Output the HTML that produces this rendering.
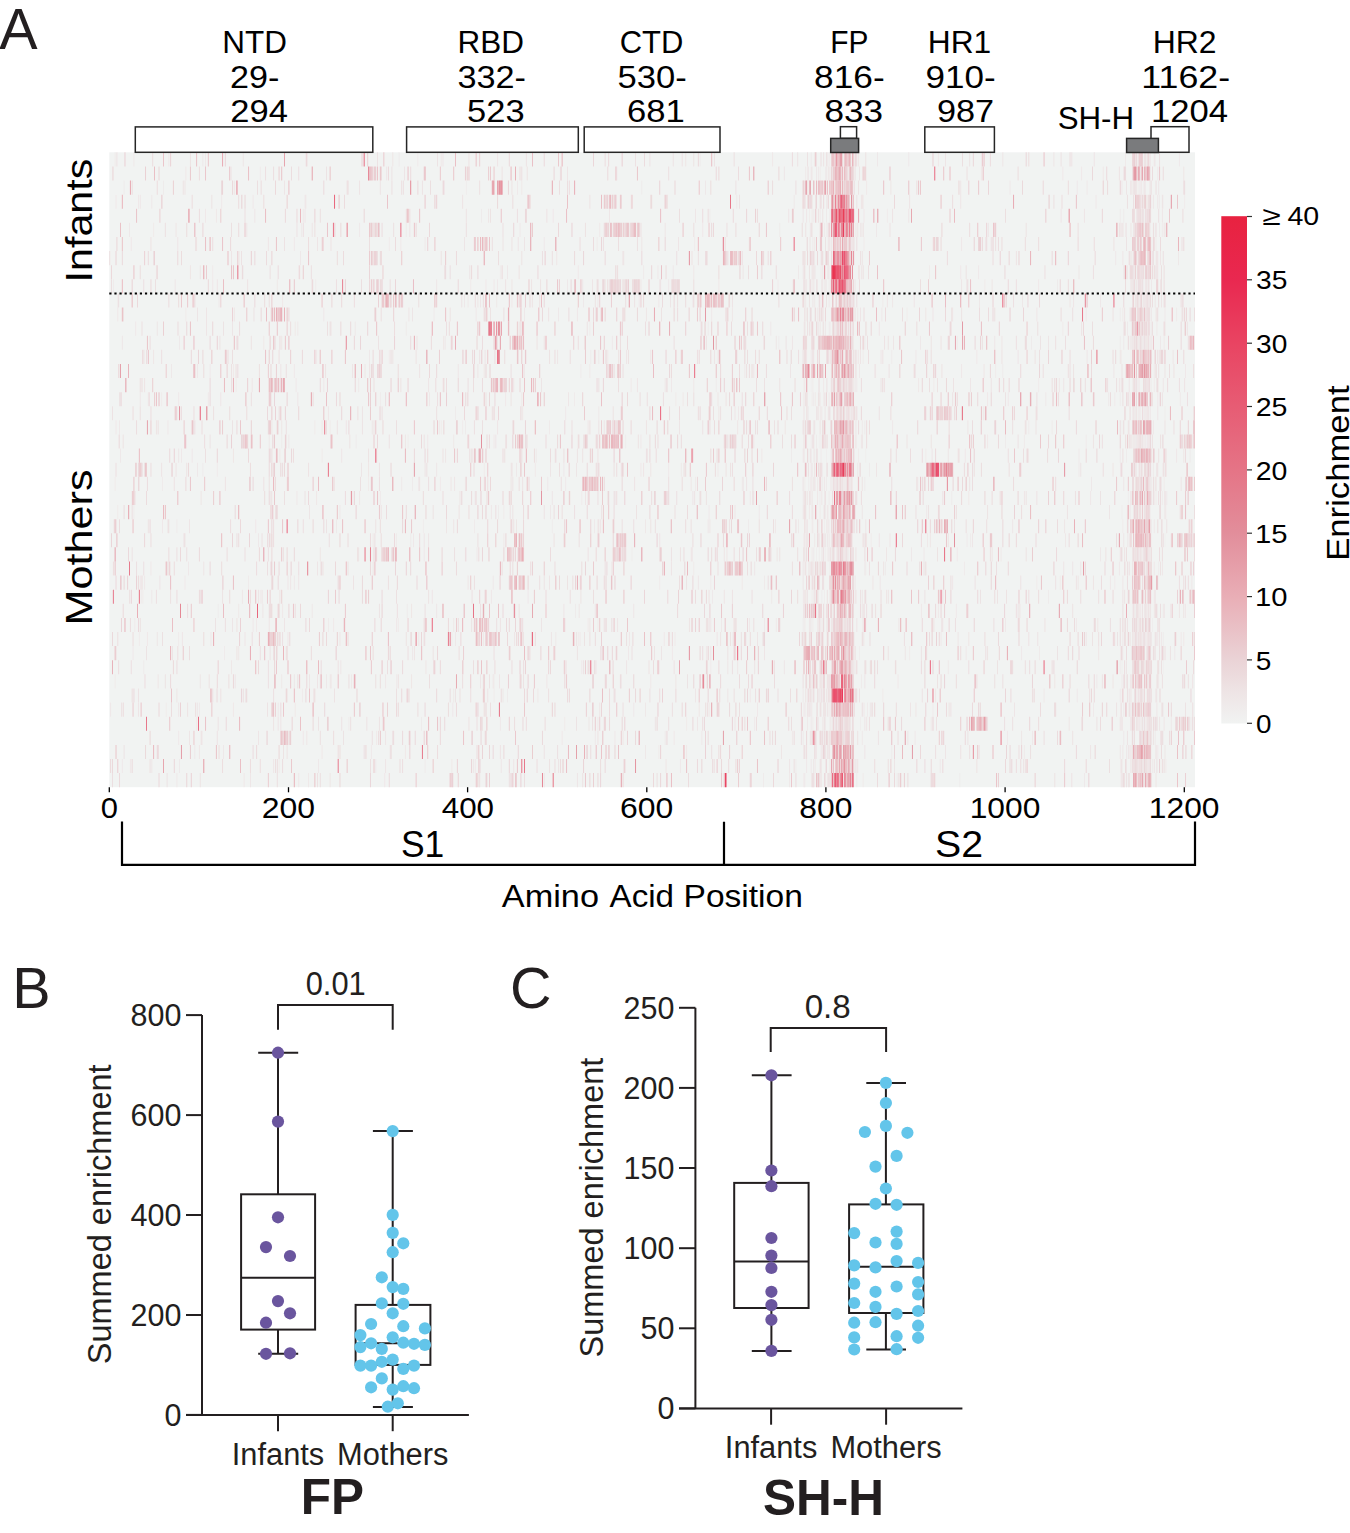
<!DOCTYPE html>
<html><head><meta charset="utf-8"><style>
html,body{margin:0;padding:0;background:#fff;width:1350px;height:1533px;overflow:hidden}
svg{display:block}
text{font-family:"Liberation Sans",sans-serif}
</style></head><body>
<svg width="1350" height="1533" viewBox="0 0 1350 1533">
<rect width="1350" height="1533" fill="#fff"/>
<rect x="109.3" y="152.3" width="1085.71" height="634.90" fill="rgb(241, 243, 242)"/>
<defs><filter id="hb" x="-0.01" y="-0.01" width="1.02" height="1.02"><feGaussianBlur stdDeviation="0.45 0"/></filter></defs>
<g filter="url(#hb)"><g transform="translate(109.3 152.3) scale(0.8958 14.109)">
<path fill="#f0eded" d="M1129 2h1v1h-1zM1151 2h1v1h-1zM1154 2h1v1h-1zM1176 3h1v1h-1zM800 5h1v1h-1zM781 6h1v1h-1zM788 8h1v1h-1zM1145 9h1v1h-1zM1154 9h1v1h-1zM803 12h1v1h-1zM828 12h1v1h-1zM1140 14h1v1h-1zM783 16h1v1h-1zM805 16h1v1h-1zM1163 16h1v1h-1zM799 17h1v1h-1zM798 18h1v1h-1zM810 18h1v1h-1zM821 18h1v1h-1zM1151 18h1v1h-1zM1154 18h1v1h-1zM1130 19h1v1h-1zM792 20h1v1h-1zM1152 20h1v1h-1zM1154 20h2v1h-2zM780 21h1v1h-1zM800 21h1v1h-1zM805 21h1v1h-1zM844 21h1v1h-1zM780 23h1v1h-1zM788 23h1v1h-1zM794 23h1v1h-1zM796 23h1v1h-1zM806 23h1v1h-1zM792 24h1v1h-1zM792 26h1v1h-1zM798 26h1v1h-1zM777 27h1v1h-1zM1178 27h1v1h-1zM789 28h1v1h-1zM799 28h1v1h-1zM801 28h1v1h-1zM824 28h1v1h-1zM1153 28h1v1h-1zM774 31h1v1h-1zM778 31h1v1h-1zM798 31h1v1h-1zM1145 32h1v1h-1zM1164 33h1v1h-1zM1157 34h1v1h-1zM837 35h1v1h-1zM1176 36h1v1h-1zM1171 37h1v1h-1zM776 39h2v1h-2zM784 39h1v1h-1zM797 40h1v1h-1zM806 40h1v1h-1zM838 40h1v1h-1zM1151 40h1v1h-1zM1154 40h1v1h-1zM1156 40h2v1h-2zM1141 41h1v1h-1z"/>
<path fill="#efeaea" d="M6 0h1v1h-1zM323 0h1v1h-1zM344 0h1v1h-1zM659 0h1v1h-1zM783 0h1v1h-1zM1134 0h1v1h-1zM1167 0h1v1h-1zM136 1h1v1h-1zM168 1h1v1h-1zM779 1h1v1h-1zM793 1h1v1h-1zM799 1h1v1h-1zM805 1h1v1h-1zM16 2h1v1h-1zM60 2h1v1h-1zM398 2h1v1h-1zM594 2h1v1h-1zM1142 2h1v1h-1zM1148 2h1v1h-1zM1161 2h1v1h-1zM560 3h1v1h-1zM1172 3h1v1h-1zM1200 3h1v1h-1zM415 4h1v1h-1zM670 4h1v1h-1zM781 4h1v1h-1zM786 4h1v1h-1zM789 4h1v1h-1zM868 4h1v1h-1zM1128 4h1v1h-1zM1132 4h1v1h-1zM1152 4h1v1h-1zM1157 4h1v1h-1zM1159 4h1v1h-1zM49 5h1v1h-1zM214 5h1v1h-1zM331 5h1v1h-1zM748 5h1v1h-1zM798 5h1v1h-1zM801 5h1v1h-1zM839 5h1v1h-1zM1128 5h1v1h-1zM1134 5h1v1h-1zM1167 5h1v1h-1zM1175 5h1v1h-1zM312 6h1v1h-1zM544 6h1v1h-1zM653 6h1v1h-1zM778 6h1v1h-1zM795 6h1v1h-1zM842 6h1v1h-1zM1168 6h1v1h-1zM145 7h1v1h-1zM574 7h1v1h-1zM1168 7h1v1h-1zM115 8h1v1h-1zM149 8h1v1h-1zM436 8h1v1h-1zM596 8h1v1h-1zM794 8h1v1h-1zM801 8h1v1h-1zM915 8h1v1h-1zM4 9h1v1h-1zM227 9h1v1h-1zM230 9h1v1h-1zM403 9h1v1h-1zM746 9h1v1h-1zM776 9h1v1h-1zM781 9h1v1h-1zM798 9h3v1h-3zM803 9h1v1h-1zM977 9h1v1h-1zM1058 9h1v1h-1zM1158 9h1v1h-1zM9 10h1v1h-1zM777 10h1v1h-1zM810 10h1v1h-1zM863 10h1v1h-1zM1000 10h1v1h-1zM1146 10h1v1h-1zM85 11h1v1h-1zM362 11h1v1h-1zM778 11h1v1h-1zM787 11h1v1h-1zM790 11h1v1h-1zM890 11h1v1h-1zM1128 11h1v1h-1zM1191 11h1v1h-1zM77 12h1v1h-1zM331 12h1v1h-1zM536 12h1v1h-1zM668 12h1v1h-1zM775 12h1v1h-1zM782 12h1v1h-1zM790 12h1v1h-1zM796 12h1v1h-1zM820 12h1v1h-1zM1064 12h1v1h-1zM1163 12h1v1h-1zM375 13h1v1h-1zM747 13h1v1h-1zM946 13h1v1h-1zM1029 13h1v1h-1zM1128 13h1v1h-1zM1139 13h3v1h-3zM1153 13h2v1h-2zM1162 13h2v1h-2zM39 14h1v1h-1zM234 14h1v1h-1zM312 14h1v1h-1zM537 14h1v1h-1zM760 14h1v1h-1zM786 14h1v1h-1zM841 14h1v1h-1zM873 14h1v1h-1zM11 15h1v1h-1zM526 15h1v1h-1zM989 15h1v1h-1zM997 15h1v1h-1zM141 16h1v1h-1zM677 16h1v1h-1zM775 16h2v1h-2zM779 16h1v1h-1zM785 16h1v1h-1zM791 16h1v1h-1zM801 16h1v1h-1zM810 16h1v1h-1zM920 16h1v1h-1zM1037 16h1v1h-1zM1142 16h1v1h-1zM1147 16h1v1h-1zM1166 16h1v1h-1zM58 17h1v1h-1zM302 17h1v1h-1zM519 17h1v1h-1zM632 17h1v1h-1zM784 17h1v1h-1zM788 17h1v1h-1zM797 17h1v1h-1zM1027 17h1v1h-1zM1115 17h1v1h-1zM1122 17h1v1h-1zM1128 17h1v1h-1zM386 18h1v1h-1zM780 18h1v1h-1zM793 18h2v1h-2zM799 18h1v1h-1zM811 18h1v1h-1zM818 18h1v1h-1zM827 18h1v1h-1zM975 18h2v1h-2zM1144 18h2v1h-2zM1148 18h1v1h-1zM1150 18h1v1h-1zM1155 18h3v1h-3zM1178 18h1v1h-1zM229 19h1v1h-1zM246 19h1v1h-1zM368 19h1v1h-1zM370 19h1v1h-1zM394 19h1v1h-1zM397 19h1v1h-1zM491 19h1v1h-1zM843 19h1v1h-1zM972 19h1v1h-1zM1026 19h1v1h-1zM1052 19h1v1h-1zM183 20h1v1h-1zM192 20h1v1h-1zM275 20h1v1h-1zM333 20h1v1h-1zM576 20h1v1h-1zM783 20h1v1h-1zM789 20h1v1h-1zM794 20h1v1h-1zM1000 20h1v1h-1zM1021 20h1v1h-1zM1090 20h1v1h-1zM1142 20h4v1h-4zM237 21h1v1h-1zM497 21h1v1h-1zM644 21h1v1h-1zM761 21h1v1h-1zM786 21h1v1h-1zM794 21h1v1h-1zM836 21h1v1h-1zM911 21h1v1h-1zM1135 21h1v1h-1zM1206 21h1v1h-1zM104 22h1v1h-1zM120 22h1v1h-1zM418 22h1v1h-1zM512 22h1v1h-1zM848 22h1v1h-1zM1153 22h1v1h-1zM1165 22h1v1h-1zM6 23h1v1h-1zM59 23h1v1h-1zM289 23h1v1h-1zM338 23h1v1h-1zM654 23h1v1h-1zM706 23h1v1h-1zM776 23h1v1h-1zM782 23h1v1h-1zM784 23h1v1h-1zM790 23h1v1h-1zM795 23h1v1h-1zM800 23h1v1h-1zM807 23h1v1h-1zM819 23h3v1h-3zM835 23h1v1h-1zM843 23h1v1h-1zM1155 23h1v1h-1zM1163 23h1v1h-1zM1177 23h1v1h-1zM514 24h1v1h-1zM527 24h1v1h-1zM621 24h1v1h-1zM774 24h1v1h-1zM794 24h1v1h-1zM803 24h1v1h-1zM940 24h1v1h-1zM1137 24h1v1h-1zM1168 24h1v1h-1zM1175 24h1v1h-1zM9 25h1v1h-1zM27 25h1v1h-1zM434 25h1v1h-1zM440 25h1v1h-1zM785 25h1v1h-1zM793 25h1v1h-1zM797 25h1v1h-1zM799 25h1v1h-1zM802 25h1v1h-1zM1130 25h1v1h-1zM1179 25h1v1h-1zM75 26h1v1h-1zM350 26h1v1h-1zM407 26h1v1h-1zM494 26h1v1h-1zM713 26h1v1h-1zM784 26h2v1h-2zM791 26h1v1h-1zM800 26h2v1h-2zM803 26h1v1h-1zM838 26h1v1h-1zM1131 26h1v1h-1zM1163 26h1v1h-1zM320 27h1v1h-1zM336 27h1v1h-1zM850 27h1v1h-1zM957 27h1v1h-1zM961 27h1v1h-1zM1136 27h1v1h-1zM1175 27h1v1h-1zM278 28h1v1h-1zM583 28h1v1h-1zM649 28h1v1h-1zM777 28h1v1h-1zM792 28h1v1h-1zM796 28h1v1h-1zM802 28h2v1h-2zM811 28h1v1h-1zM815 28h1v1h-1zM825 28h1v1h-1zM1150 28h1v1h-1zM1152 28h1v1h-1zM1160 28h1v1h-1zM1162 28h1v1h-1zM560 29h1v1h-1zM652 29h1v1h-1zM780 29h3v1h-3zM791 29h1v1h-1zM804 29h1v1h-1zM844 29h1v1h-1zM866 29h1v1h-1zM954 29h1v1h-1zM1134 29h1v1h-1zM1171 29h1v1h-1zM155 30h1v1h-1zM525 30h1v1h-1zM614 30h1v1h-1zM671 30h1v1h-1zM731 30h1v1h-1zM1035 30h1v1h-1zM1061 30h1v1h-1zM1122 30h1v1h-1zM35 31h1v1h-1zM37 31h1v1h-1zM168 31h1v1h-1zM404 31h1v1h-1zM784 31h1v1h-1zM786 31h1v1h-1zM788 31h1v1h-1zM791 31h1v1h-1zM795 31h1v1h-1zM832 31h1v1h-1zM1048 31h1v1h-1zM121 32h1v1h-1zM332 32h1v1h-1zM520 32h1v1h-1zM1142 32h1v1h-1zM1144 32h1v1h-1zM1150 32h1v1h-1zM1158 32h1v1h-1zM1166 32h1v1h-1zM1176 32h1v1h-1zM28 33h1v1h-1zM244 33h1v1h-1zM263 33h1v1h-1zM545 33h1v1h-1zM561 33h1v1h-1zM774 33h1v1h-1zM783 33h1v1h-1zM785 33h1v1h-1zM790 33h2v1h-2zM793 33h1v1h-1zM796 33h1v1h-1zM800 33h1v1h-1zM819 33h1v1h-1zM830 33h1v1h-1zM1143 33h1v1h-1zM1147 33h3v1h-3zM33 34h1v1h-1zM77 34h1v1h-1zM352 34h1v1h-1zM382 34h1v1h-1zM523 34h1v1h-1zM831 34h1v1h-1zM842 34h1v1h-1zM1143 34h1v1h-1zM1147 34h1v1h-1zM1153 34h1v1h-1zM1176 34h1v1h-1zM128 35h1v1h-1zM349 35h1v1h-1zM893 35h1v1h-1zM1038 35h1v1h-1zM1131 35h1v1h-1zM38 36h1v1h-1zM561 36h1v1h-1zM671 36h1v1h-1zM878 36h1v1h-1zM1128 36h1v1h-1zM1130 36h1v1h-1zM6 37h1v1h-1zM246 37h1v1h-1zM320 37h1v1h-1zM429 37h1v1h-1zM839 37h1v1h-1zM215 38h1v1h-1zM429 38h1v1h-1zM444 38h1v1h-1zM863 38h1v1h-1zM1031 38h1v1h-1zM1130 38h1v1h-1zM1146 38h1v1h-1zM1154 38h1v1h-1zM1169 38h1v1h-1zM63 39h1v1h-1zM782 39h1v1h-1zM802 39h1v1h-1zM846 39h1v1h-1zM919 39h1v1h-1zM971 39h1v1h-1zM1141 39h1v1h-1zM1176 39h1v1h-1zM97 40h1v1h-1zM267 40h1v1h-1zM348 40h1v1h-1zM508 40h1v1h-1zM644 40h1v1h-1zM779 40h1v1h-1zM785 40h1v1h-1zM799 40h1v1h-1zM804 40h2v1h-2zM812 40h1v1h-1zM1141 40h1v1h-1zM1148 40h1v1h-1zM1152 40h1v1h-1zM1207 40h1v1h-1zM1176 41h1v1h-1zM613 42h1v1h-1zM794 42h1v1h-1zM796 42h1v1h-1zM873 42h1v1h-1zM1021 42h1v1h-1zM189 43h1v1h-1zM352 43h1v1h-1zM674 43h1v1h-1zM766 43h1v1h-1zM788 43h1v1h-1zM1164 43h1v1h-1zM730 44h1v1h-1zM776 44h1v1h-1zM834 44h1v1h-1zM841 44h1v1h-1zM879 44h1v1h-1zM949 44h1v1h-1z"/>
<path fill="#efe7e8" d="M27 0h1v1h-1zM66 0h1v1h-1zM104 0h1v1h-1zM107 0h1v1h-1zM219 0h1v1h-1zM370 0h1v1h-1zM740 0h1v1h-1zM801 0h1v1h-1zM803 0h1v1h-1zM857 0h1v1h-1zM892 0h1v1h-1zM925 0h1v1h-1zM1162 0h1v1h-1zM1194 0h1v1h-1zM85 1h1v1h-1zM309 1h1v1h-1zM777 1h1v1h-1zM780 1h1v1h-1zM783 1h2v1h-2zM789 1h1v1h-1zM791 1h1v1h-1zM800 1h1v1h-1zM802 1h1v1h-1zM973 1h1v1h-1zM1064 1h1v1h-1zM1085 1h1v1h-1zM1109 1h1v1h-1zM1170 1h1v1h-1zM455 2h1v1h-1zM460 2h1v1h-1zM665 2h1v1h-1zM845 2h1v1h-1zM1005 2h1v1h-1zM1080 2h1v1h-1zM1091 2h1v1h-1zM1130 2h1v1h-1zM1150 2h1v1h-1zM1152 2h1v1h-1zM1155 2h2v1h-2zM7 3h1v1h-1zM32 3h1v1h-1zM47 3h1v1h-1zM125 3h1v1h-1zM160 3h1v1h-1zM218 3h2v1h-2zM582 3h1v1h-1zM700 3h1v1h-1zM764 3h1v1h-1zM800 3h1v1h-1zM841 3h1v1h-1zM1101 3h1v1h-1zM1152 3h1v1h-1zM1154 3h1v1h-1zM1165 3h1v1h-1zM107 4h1v1h-1zM119 4h1v1h-1zM216 4h1v1h-1zM495 4h1v1h-1zM784 4h1v1h-1zM793 4h1v1h-1zM800 4h1v1h-1zM804 4h1v1h-1zM842 4h1v1h-1zM1146 4h1v1h-1zM1149 4h1v1h-1zM22 5h1v1h-1zM252 5h1v1h-1zM279 5h1v1h-1zM458 5h1v1h-1zM547 5h1v1h-1zM662 5h1v1h-1zM782 5h1v1h-1zM804 5h1v1h-1zM838 5h1v1h-1zM856 5h1v1h-1zM981 5h1v1h-1zM1135 5h1v1h-1zM1172 5h1v1h-1zM1177 5h1v1h-1zM24 6h1v1h-1zM206 6h1v1h-1zM325 6h1v1h-1zM352 6h1v1h-1zM485 6h1v1h-1zM782 6h1v1h-1zM785 6h1v1h-1zM787 6h1v1h-1zM793 6h1v1h-1zM802 6h3v1h-3zM828 6h1v1h-1zM919 6h1v1h-1zM951 6h1v1h-1zM213 7h1v1h-1zM794 7h1v1h-1zM831 7h1v1h-1zM1123 7h1v1h-1zM1170 7h1v1h-1zM1193 7h1v1h-1zM211 8h1v1h-1zM444 8h1v1h-1zM523 8h1v1h-1zM612 8h1v1h-1zM629 8h1v1h-1zM652 8h1v1h-1zM769 8h1v1h-1zM774 8h1v1h-1zM787 8h1v1h-1zM796 8h1v1h-1zM799 8h1v1h-1zM802 8h2v1h-2zM837 8h1v1h-1zM950 8h1v1h-1zM970 8h1v1h-1zM1000 8h1v1h-1zM1132 8h1v1h-1zM1135 8h2v1h-2zM1144 8h1v1h-1zM1151 8h1v1h-1zM1170 8h1v1h-1zM115 9h1v1h-1zM187 9h1v1h-1zM420 9h1v1h-1zM429 9h1v1h-1zM433 9h1v1h-1zM511 9h1v1h-1zM624 9h1v1h-1zM680 9h1v1h-1zM778 9h1v1h-1zM790 9h1v1h-1zM796 9h1v1h-1zM1037 9h1v1h-1zM1141 9h1v1h-1zM1152 9h1v1h-1zM1156 9h1v1h-1zM1159 9h1v1h-1zM1163 9h1v1h-1zM122 10h1v1h-1zM193 10h1v1h-1zM396 10h1v1h-1zM400 10h1v1h-1zM432 10h1v1h-1zM449 10h1v1h-1zM470 10h1v1h-1zM529 10h1v1h-1zM545 10h1v1h-1zM579 10h1v1h-1zM591 10h1v1h-1zM613 10h1v1h-1zM651 10h1v1h-1zM787 10h1v1h-1zM794 10h1v1h-1zM803 10h1v1h-1zM813 10h1v1h-1zM971 10h1v1h-1zM1019 10h1v1h-1zM1106 10h1v1h-1zM1154 10h4v1h-4zM1159 10h2v1h-2zM9 11h1v1h-1zM239 11h1v1h-1zM409 11h1v1h-1zM463 11h1v1h-1zM501 11h1v1h-1zM513 11h1v1h-1zM522 11h1v1h-1zM548 11h1v1h-1zM646 11h1v1h-1zM672 11h1v1h-1zM797 11h1v1h-1zM835 11h1v1h-1zM862 11h1v1h-1zM1090 11h1v1h-1zM1131 11h1v1h-1zM1163 11h1v1h-1zM1178 11h1v1h-1zM29 12h1v1h-1zM207 12h1v1h-1zM210 12h1v1h-1zM274 12h1v1h-1zM738 12h1v1h-1zM791 12h1v1h-1zM799 12h1v1h-1zM804 12h1v1h-1zM810 12h1v1h-1zM829 12h1v1h-1zM845 12h1v1h-1zM1136 12h1v1h-1zM1141 12h1v1h-1zM1169 12h1v1h-1zM78 13h1v1h-1zM172 13h1v1h-1zM433 13h1v1h-1zM561 13h1v1h-1zM826 13h1v1h-1zM843 13h1v1h-1zM905 13h1v1h-1zM1132 13h1v1h-1zM1143 13h1v1h-1zM1156 13h1v1h-1zM1173 13h1v1h-1zM1177 13h1v1h-1zM231 14h1v1h-1zM290 14h1v1h-1zM416 14h1v1h-1zM465 14h1v1h-1zM546 14h1v1h-1zM556 14h1v1h-1zM679 14h1v1h-1zM783 14h1v1h-1zM803 14h1v1h-1zM834 14h1v1h-1zM836 14h1v1h-1zM900 14h1v1h-1zM968 14h1v1h-1zM1129 14h1v1h-1zM69 15h1v1h-1zM98 15h1v1h-1zM112 15h1v1h-1zM138 15h1v1h-1zM206 15h1v1h-1zM463 15h1v1h-1zM536 15h1v1h-1zM709 15h1v1h-1zM837 15h1v1h-1zM854 15h1v1h-1zM951 15h1v1h-1zM1166 15h1v1h-1zM1201 15h1v1h-1zM193 16h1v1h-1zM208 16h1v1h-1zM239 16h1v1h-1zM278 16h1v1h-1zM372 16h1v1h-1zM450 16h1v1h-1zM582 16h1v1h-1zM627 16h1v1h-1zM652 16h1v1h-1zM797 16h1v1h-1zM800 16h1v1h-1zM807 16h1v1h-1zM821 16h1v1h-1zM824 16h1v1h-1zM834 16h1v1h-1zM903 16h1v1h-1zM1129 16h1v1h-1zM1145 16h1v1h-1zM43 17h1v1h-1zM77 17h1v1h-1zM110 17h1v1h-1zM357 17h1v1h-1zM442 17h1v1h-1zM460 17h1v1h-1zM640 17h1v1h-1zM779 17h1v1h-1zM786 17h1v1h-1zM793 17h1v1h-1zM798 17h1v1h-1zM803 17h1v1h-1zM980 17h1v1h-1zM1003 17h1v1h-1zM1045 17h1v1h-1zM1170 17h1v1h-1zM1172 17h1v1h-1zM1195 17h1v1h-1zM509 18h1v1h-1zM546 18h1v1h-1zM702 18h1v1h-1zM779 18h1v1h-1zM790 18h1v1h-1zM795 18h1v1h-1zM802 18h1v1h-1zM813 18h1v1h-1zM822 18h1v1h-1zM829 18h1v1h-1zM1142 18h1v1h-1zM1149 18h1v1h-1zM1162 18h1v1h-1zM7 19h1v1h-1zM11 19h1v1h-1zM65 19h1v1h-1zM237 19h1v1h-1zM840 19h1v1h-1zM874 19h1v1h-1zM1138 19h1v1h-1zM1165 19h1v1h-1zM10 20h1v1h-1zM178 20h1v1h-1zM200 20h1v1h-1zM355 20h1v1h-1zM384 20h1v1h-1zM429 20h1v1h-1zM545 20h1v1h-1zM593 20h1v1h-1zM800 20h1v1h-1zM839 20h1v1h-1zM980 20h1v1h-1zM1146 20h1v1h-1zM1148 20h1v1h-1zM1156 20h1v1h-1zM1158 20h1v1h-1zM1160 20h2v1h-2zM12 21h1v1h-1zM80 21h1v1h-1zM92 21h1v1h-1zM190 21h1v1h-1zM405 21h1v1h-1zM476 21h1v1h-1zM536 21h1v1h-1zM728 21h1v1h-1zM774 21h1v1h-1zM783 21h1v1h-1zM787 21h1v1h-1zM955 21h1v1h-1zM1082 21h1v1h-1zM1128 21h1v1h-1zM1191 21h1v1h-1zM98 22h1v1h-1zM406 22h1v1h-1zM448 22h1v1h-1zM454 22h1v1h-1zM475 22h1v1h-1zM507 22h1v1h-1zM571 22h1v1h-1zM593 22h1v1h-1zM624 22h1v1h-1zM638 22h1v1h-1zM679 22h1v1h-1zM783 22h1v1h-1zM792 22h1v1h-1zM800 22h1v1h-1zM835 22h1v1h-1zM1082 22h1v1h-1zM1143 22h1v1h-1zM1145 22h2v1h-2zM326 23h1v1h-1zM369 23h1v1h-1zM418 23h1v1h-1zM489 23h1v1h-1zM509 23h1v1h-1zM783 23h1v1h-1zM787 23h1v1h-1zM792 23h1v1h-1zM798 23h1v1h-1zM805 23h1v1h-1zM810 23h2v1h-2zM817 23h1v1h-1zM822 23h1v1h-1zM825 23h1v1h-1zM827 23h1v1h-1zM829 23h1v1h-1zM902 23h1v1h-1zM1096 23h1v1h-1zM1149 23h1v1h-1zM1153 23h1v1h-1zM1162 23h1v1h-1zM1174 23h1v1h-1zM181 24h1v1h-1zM209 24h1v1h-1zM302 24h1v1h-1zM715 24h1v1h-1zM719 24h1v1h-1zM779 24h1v1h-1zM790 24h1v1h-1zM795 24h1v1h-1zM798 24h1v1h-1zM959 24h1v1h-1zM1095 24h1v1h-1zM1163 24h1v1h-1zM1166 24h1v1h-1zM1180 24h1v1h-1zM257 25h1v1h-1zM426 25h1v1h-1zM492 25h1v1h-1zM669 25h1v1h-1zM725 25h1v1h-1zM774 25h1v1h-1zM781 25h1v1h-1zM801 25h1v1h-1zM912 25h1v1h-1zM1143 25h1v1h-1zM59 26h1v1h-1zM163 26h1v1h-1zM253 26h1v1h-1zM541 26h1v1h-1zM598 26h1v1h-1zM769 26h1v1h-1zM778 26h2v1h-2zM802 26h1v1h-1zM807 26h1v1h-1zM825 26h1v1h-1zM1166 26h1v1h-1zM166 27h1v1h-1zM294 27h1v1h-1zM339 27h1v1h-1zM440 27h1v1h-1zM443 27h1v1h-1zM764 27h1v1h-1zM775 27h2v1h-2zM779 27h1v1h-1zM787 27h1v1h-1zM798 27h2v1h-2zM829 27h1v1h-1zM845 27h1v1h-1zM913 27h1v1h-1zM985 27h1v1h-1zM1067 27h1v1h-1zM351 28h1v1h-1zM398 28h1v1h-1zM410 28h1v1h-1zM784 28h1v1h-1zM786 28h1v1h-1zM795 28h1v1h-1zM804 28h1v1h-1zM809 28h1v1h-1zM812 28h1v1h-1zM820 28h1v1h-1zM895 28h1v1h-1zM909 28h1v1h-1zM946 28h1v1h-1zM995 28h1v1h-1zM1106 28h1v1h-1zM46 29h1v1h-1zM88 29h1v1h-1zM776 29h1v1h-1zM792 29h1v1h-1zM843 29h1v1h-1zM1127 29h1v1h-1zM1166 29h1v1h-1zM39 30h1v1h-1zM84 30h1v1h-1zM206 30h1v1h-1zM428 30h1v1h-1zM706 30h1v1h-1zM1117 30h1v1h-1zM1208 30h1v1h-1zM47 31h1v1h-1zM405 31h1v1h-1zM426 31h1v1h-1zM467 31h1v1h-1zM673 31h1v1h-1zM739 31h1v1h-1zM776 31h1v1h-1zM1166 31h1v1h-1zM144 32h1v1h-1zM193 32h1v1h-1zM226 32h1v1h-1zM824 32h1v1h-1zM906 32h1v1h-1zM925 32h1v1h-1zM945 32h1v1h-1zM1149 32h1v1h-1zM1151 32h1v1h-1zM1155 32h1v1h-1zM1159 32h1v1h-1zM1184 32h1v1h-1zM1201 32h1v1h-1zM160 33h1v1h-1zM164 33h1v1h-1zM250 33h1v1h-1zM320 33h1v1h-1zM322 33h1v1h-1zM384 33h1v1h-1zM534 33h1v1h-1zM683 33h1v1h-1zM714 33h1v1h-1zM731 33h1v1h-1zM744 33h1v1h-1zM776 33h1v1h-1zM781 33h2v1h-2zM794 33h1v1h-1zM807 33h1v1h-1zM822 33h1v1h-1zM825 33h1v1h-1zM844 33h1v1h-1zM930 33h1v1h-1zM1000 33h1v1h-1zM1079 33h1v1h-1zM1158 33h1v1h-1zM1162 33h1v1h-1zM42 34h1v1h-1zM113 34h1v1h-1zM345 34h1v1h-1zM386 34h1v1h-1zM498 34h1v1h-1zM525 34h1v1h-1zM619 34h1v1h-1zM631 34h1v1h-1zM848 34h1v1h-1zM928 34h1v1h-1zM1120 34h1v1h-1zM1122 34h1v1h-1zM1144 34h1v1h-1zM1152 34h1v1h-1zM1156 34h1v1h-1zM1158 34h1v1h-1zM1163 34h1v1h-1zM1174 34h1v1h-1zM1196 34h1v1h-1zM1199 34h1v1h-1zM26 35h1v1h-1zM338 35h1v1h-1zM482 35h1v1h-1zM549 35h1v1h-1zM579 35h1v1h-1zM628 35h1v1h-1zM666 35h1v1h-1zM956 35h1v1h-1zM1018 35h1v1h-1zM1174 35h1v1h-1zM1189 35h1v1h-1zM136 36h1v1h-1zM395 36h1v1h-1zM510 36h1v1h-1zM527 36h1v1h-1zM542 36h2v1h-2zM831 36h1v1h-1zM833 36h1v1h-1zM936 36h1v1h-1zM1155 36h1v1h-1zM1159 36h1v1h-1zM40 37h1v1h-1zM192 37h1v1h-1zM242 37h1v1h-1zM270 37h1v1h-1zM308 37h1v1h-1zM604 37h1v1h-1zM880 37h1v1h-1zM1102 37h1v1h-1zM1130 37h1v1h-1zM1135 37h1v1h-1zM119 38h1v1h-1zM384 38h1v1h-1zM478 38h1v1h-1zM715 38h1v1h-1zM774 38h1v1h-1zM779 38h1v1h-1zM781 38h1v1h-1zM791 38h1v1h-1zM803 38h1v1h-1zM1043 38h1v1h-1zM1080 38h1v1h-1zM1128 38h1v1h-1zM1149 38h1v1h-1zM1153 38h1v1h-1zM1160 38h1v1h-1zM1 39h1v1h-1zM98 39h1v1h-1zM100 39h1v1h-1zM138 39h1v1h-1zM188 39h1v1h-1zM207 39h1v1h-1zM383 39h1v1h-1zM434 39h1v1h-1zM585 39h1v1h-1zM598 39h1v1h-1zM723 39h1v1h-1zM775 39h1v1h-1zM780 39h1v1h-1zM804 39h1v1h-1zM830 39h1v1h-1zM842 39h1v1h-1zM1098 39h1v1h-1zM1132 39h1v1h-1zM1174 39h1v1h-1zM203 40h1v1h-1zM436 40h1v1h-1zM462 40h1v1h-1zM545 40h1v1h-1zM720 40h1v1h-1zM783 40h1v1h-1zM791 40h1v1h-1zM796 40h1v1h-1zM809 40h1v1h-1zM819 40h1v1h-1zM827 40h1v1h-1zM917 40h1v1h-1zM1150 40h1v1h-1zM1185 40h1v1h-1zM77 41h1v1h-1zM216 41h1v1h-1zM298 41h1v1h-1zM505 41h1v1h-1zM542 41h1v1h-1zM564 41h1v1h-1zM620 41h1v1h-1zM630 41h1v1h-1zM661 41h1v1h-1zM762 41h1v1h-1zM774 41h1v1h-1zM789 41h1v1h-1zM799 41h1v1h-1zM802 41h1v1h-1zM840 41h1v1h-1zM899 41h1v1h-1zM1002 41h1v1h-1zM1030 41h1v1h-1zM1132 41h1v1h-1zM1167 41h1v1h-1zM95 42h1v1h-1zM127 42h1v1h-1zM237 42h1v1h-1zM292 42h1v1h-1zM330 42h1v1h-1zM598 42h1v1h-1zM644 42h1v1h-1zM788 42h2v1h-2zM971 42h1v1h-1zM1135 42h1v1h-1zM1138 42h1v1h-1zM1170 42h1v1h-1zM14 43h1v1h-1zM23 43h1v1h-1zM78 43h1v1h-1zM233 43h1v1h-1zM297 43h1v1h-1zM382 43h1v1h-1zM406 43h1v1h-1zM408 43h1v1h-1zM637 43h1v1h-1zM778 43h1v1h-1zM783 43h1v1h-1zM799 43h1v1h-1zM834 43h1v1h-1zM927 43h1v1h-1zM1148 43h1v1h-1zM1153 43h2v1h-2zM1179 43h1v1h-1zM75 44h1v1h-1zM150 44h1v1h-1zM211 44h1v1h-1zM222 44h1v1h-1zM307 44h1v1h-1zM759 44h1v1h-1zM775 44h1v1h-1zM801 44h2v1h-2zM1088 44h1v1h-1zM1129 44h2v1h-2z"/>
<path fill="#eee4e5" d="M149 0h1v1h-1zM316 0h1v1h-1zM372 0h1v1h-1zM433 0h1v1h-1zM643 0h1v1h-1zM787 0h1v1h-1zM789 0h1v1h-1zM834 0h1v1h-1zM836 0h1v1h-1zM933 0h1v1h-1zM997 0h1v1h-1zM1054 0h1v1h-1zM1099 0h1v1h-1zM1155 0h1v1h-1zM1166 0h1v1h-1zM329 1h1v1h-1zM511 1h1v1h-1zM753 1h1v1h-1zM803 1h1v1h-1zM807 1h1v1h-1zM825 1h1v1h-1zM837 1h1v1h-1zM1132 1h1v1h-1zM1199 1h1v1h-1zM139 2h1v1h-1zM195 2h1v1h-1zM809 2h1v1h-1zM872 2h1v1h-1zM950 2h1v1h-1zM1135 2h1v1h-1zM1143 2h1v1h-1zM1145 2h2v1h-2zM1162 2h2v1h-2zM1171 2h1v1h-1zM34 3h1v1h-1zM59 3h1v1h-1zM148 3h1v1h-1zM839 3h1v1h-1zM950 3h1v1h-1zM1157 3h1v1h-1zM1170 3h1v1h-1zM162 4h1v1h-1zM218 4h1v1h-1zM423 4h1v1h-1zM558 4h1v1h-1zM654 4h1v1h-1zM758 4h1v1h-1zM774 4h1v1h-1zM778 4h1v1h-1zM892 4h1v1h-1zM1062 4h1v1h-1zM1088 4h1v1h-1zM1147 4h1v1h-1zM1175 4h1v1h-1zM74 5h1v1h-1zM153 5h1v1h-1zM226 5h1v1h-1zM249 5h1v1h-1zM335 5h1v1h-1zM620 5h1v1h-1zM833 5h1v1h-1zM835 5h1v1h-1zM1140 5h1v1h-1zM1143 5h1v1h-1zM1178 5h1v1h-1zM76 6h1v1h-1zM177 6h1v1h-1zM232 6h1v1h-1zM396 6h1v1h-1zM420 6h1v1h-1zM456 6h1v1h-1zM463 6h1v1h-1zM594 6h1v1h-1zM635 6h1v1h-1zM684 6h1v1h-1zM806 6h1v1h-1zM811 6h1v1h-1zM823 6h2v1h-2zM829 6h1v1h-1zM831 6h1v1h-1zM136 7h1v1h-1zM499 7h1v1h-1zM1131 7h1v1h-1zM1141 7h1v1h-1zM1164 7h1v1h-1zM1173 7h1v1h-1zM90 8h1v1h-1zM101 8h1v1h-1zM707 8h1v1h-1zM784 8h1v1h-1zM786 8h1v1h-1zM836 8h1v1h-1zM839 8h1v1h-1zM1082 8h1v1h-1zM1143 8h1v1h-1zM1149 8h1v1h-1zM73 9h1v1h-1zM120 9h1v1h-1zM365 9h1v1h-1zM449 9h1v1h-1zM528 9h1v1h-1zM539 9h1v1h-1zM593 9h1v1h-1zM614 9h1v1h-1zM627 9h1v1h-1zM777 9h1v1h-1zM784 9h1v1h-1zM786 9h1v1h-1zM832 9h1v1h-1zM951 9h1v1h-1zM985 9h1v1h-1zM1077 9h1v1h-1zM1142 9h1v1h-1zM1146 9h1v1h-1zM1173 9h1v1h-1zM94 10h1v1h-1zM411 10h1v1h-1zM414 10h1v1h-1zM472 10h1v1h-1zM626 10h1v1h-1zM776 10h1v1h-1zM785 10h1v1h-1zM818 10h1v1h-1zM825 10h1v1h-1zM828 10h2v1h-2zM831 10h1v1h-1zM868 10h1v1h-1zM874 10h1v1h-1zM898 10h1v1h-1zM1072 10h1v1h-1zM1076 10h1v1h-1zM1145 10h1v1h-1zM1150 10h1v1h-1zM1161 10h1v1h-1zM1167 10h1v1h-1zM1174 10h1v1h-1zM98 11h1v1h-1zM108 11h1v1h-1zM139 11h1v1h-1zM180 11h1v1h-1zM334 11h1v1h-1zM338 11h1v1h-1zM512 11h1v1h-1zM599 11h1v1h-1zM695 11h1v1h-1zM838 11h1v1h-1zM911 11h1v1h-1zM919 11h1v1h-1zM941 11h1v1h-1zM1035 11h1v1h-1zM1140 11h1v1h-1zM1154 11h1v1h-1zM1156 11h2v1h-2zM1168 11h1v1h-1zM53 12h1v1h-1zM108 12h1v1h-1zM137 12h1v1h-1zM660 12h1v1h-1zM793 12h1v1h-1zM809 12h1v1h-1zM819 12h1v1h-1zM823 12h1v1h-1zM859 12h1v1h-1zM1132 12h1v1h-1zM1134 12h1v1h-1zM1154 12h1v1h-1zM1158 12h1v1h-1zM1203 12h1v1h-1zM14 13h1v1h-1zM185 13h1v1h-1zM192 13h1v1h-1zM381 13h1v1h-1zM730 13h1v1h-1zM744 13h1v1h-1zM762 13h1v1h-1zM774 13h1v1h-1zM830 13h1v1h-1zM875 13h1v1h-1zM988 13h1v1h-1zM996 13h1v1h-1zM1048 13h1v1h-1zM1142 13h1v1h-1zM1145 13h1v1h-1zM1148 13h1v1h-1zM1152 13h1v1h-1zM49 14h1v1h-1zM395 14h1v1h-1zM419 14h1v1h-1zM500 14h1v1h-1zM568 14h1v1h-1zM577 14h1v1h-1zM604 14h1v1h-1zM675 14h1v1h-1zM778 14h1v1h-1zM800 14h1v1h-1zM819 14h1v1h-1zM838 14h1v1h-1zM861 14h1v1h-1zM1014 14h1v1h-1zM1091 14h1v1h-1zM1128 14h1v1h-1zM1172 14h1v1h-1zM1177 14h1v1h-1zM1187 14h1v1h-1zM191 15h1v1h-1zM271 15h1v1h-1zM285 15h1v1h-1zM290 15h1v1h-1zM293 15h1v1h-1zM389 15h1v1h-1zM411 15h1v1h-1zM418 15h1v1h-1zM719 15h1v1h-1zM760 15h1v1h-1zM855 15h1v1h-1zM976 15h1v1h-1zM1121 15h1v1h-1zM1134 15h1v1h-1zM1140 15h1v1h-1zM159 16h1v1h-1zM356 16h1v1h-1zM451 16h1v1h-1zM482 16h1v1h-1zM589 16h1v1h-1zM620 16h1v1h-1zM817 16h2v1h-2zM830 16h1v1h-1zM832 16h1v1h-1zM961 16h1v1h-1zM1060 16h1v1h-1zM1065 16h1v1h-1zM1127 16h1v1h-1zM1138 16h1v1h-1zM1149 16h1v1h-1zM1176 16h1v1h-1zM34 17h1v1h-1zM124 17h1v1h-1zM210 17h1v1h-1zM512 17h1v1h-1zM679 17h1v1h-1zM775 17h1v1h-1zM792 17h1v1h-1zM1136 17h1v1h-1zM1139 17h1v1h-1zM1163 17h1v1h-1zM244 18h1v1h-1zM301 18h1v1h-1zM461 18h1v1h-1zM680 18h1v1h-1zM698 18h1v1h-1zM789 18h1v1h-1zM791 18h1v1h-1zM815 18h1v1h-1zM826 18h1v1h-1zM828 18h1v1h-1zM830 18h1v1h-1zM1143 18h1v1h-1zM1158 18h1v1h-1zM1160 18h1v1h-1zM1170 18h1v1h-1zM181 19h1v1h-1zM192 19h1v1h-1zM264 19h1v1h-1zM293 19h1v1h-1zM433 19h1v1h-1zM534 19h1v1h-1zM552 19h1v1h-1zM636 19h1v1h-1zM701 19h1v1h-1zM754 19h1v1h-1zM786 19h1v1h-1zM797 19h1v1h-1zM799 19h1v1h-1zM833 19h1v1h-1zM923 19h1v1h-1zM958 19h1v1h-1zM1023 19h1v1h-1zM330 20h1v1h-1zM401 20h1v1h-1zM422 20h1v1h-1zM431 20h1v1h-1zM524 20h1v1h-1zM692 20h1v1h-1zM719 20h1v1h-1zM778 20h1v1h-1zM786 20h1v1h-1zM798 20h2v1h-2zM1147 20h1v1h-1zM1153 20h1v1h-1zM1159 20h1v1h-1zM77 21h1v1h-1zM138 21h1v1h-1zM259 21h1v1h-1zM375 21h1v1h-1zM417 21h1v1h-1zM790 21h1v1h-1zM806 21h1v1h-1zM821 21h1v1h-1zM831 21h1v1h-1zM918 21h1v1h-1zM936 21h1v1h-1zM947 21h1v1h-1zM1163 21h1v1h-1zM1199 21h1v1h-1zM281 22h1v1h-1zM289 22h1v1h-1zM365 22h1v1h-1zM407 22h1v1h-1zM492 22h1v1h-1zM521 22h1v1h-1zM596 22h1v1h-1zM604 22h1v1h-1zM642 22h1v1h-1zM776 22h1v1h-1zM778 22h1v1h-1zM784 22h1v1h-1zM837 22h1v1h-1zM856 22h1v1h-1zM1120 22h1v1h-1zM1149 22h1v1h-1zM1161 22h1v1h-1zM1170 22h1v1h-1zM33 23h1v1h-1zM198 23h1v1h-1zM251 23h1v1h-1zM345 23h1v1h-1zM381 23h1v1h-1zM385 23h1v1h-1zM397 23h1v1h-1zM649 23h1v1h-1zM809 23h1v1h-1zM826 23h1v1h-1zM909 23h1v1h-1zM941 23h1v1h-1zM1132 23h1v1h-1zM1145 23h1v1h-1zM1156 23h1v1h-1zM1160 23h2v1h-2zM1167 23h1v1h-1zM1172 23h1v1h-1zM1196 23h1v1h-1zM102 24h1v1h-1zM231 24h1v1h-1zM279 24h1v1h-1zM422 24h1v1h-1zM494 24h1v1h-1zM531 24h1v1h-1zM651 24h1v1h-1zM660 24h1v1h-1zM775 24h2v1h-2zM781 24h2v1h-2zM834 24h1v1h-1zM1021 24h1v1h-1zM1203 24h1v1h-1zM22 25h1v1h-1zM223 25h1v1h-1zM549 25h1v1h-1zM655 25h1v1h-1zM698 25h1v1h-1zM789 25h1v1h-1zM805 25h1v1h-1zM840 25h1v1h-1zM1116 25h1v1h-1zM1139 25h1v1h-1zM1156 25h1v1h-1zM1158 25h1v1h-1zM89 26h1v1h-1zM376 26h1v1h-1zM384 26h1v1h-1zM454 26h1v1h-1zM545 26h2v1h-2zM548 26h1v1h-1zM626 26h1v1h-1zM668 26h1v1h-1zM670 26h1v1h-1zM743 26h1v1h-1zM809 26h1v1h-1zM830 26h1v1h-1zM844 26h1v1h-1zM1008 26h1v1h-1zM1066 26h1v1h-1zM1137 26h1v1h-1zM1175 26h1v1h-1zM351 27h1v1h-1zM356 27h1v1h-1zM614 27h1v1h-1zM778 27h1v1h-1zM791 27h2v1h-2zM801 27h1v1h-1zM803 27h1v1h-1zM859 27h1v1h-1zM871 27h1v1h-1zM916 27h1v1h-1zM963 27h1v1h-1zM1132 27h1v1h-1zM235 28h1v1h-1zM686 28h1v1h-1zM689 28h1v1h-1zM745 28h1v1h-1zM819 28h1v1h-1zM821 28h1v1h-1zM867 28h1v1h-1zM1128 28h1v1h-1zM1144 28h1v1h-1zM1146 28h1v1h-1zM1149 28h1v1h-1zM1154 28h1v1h-1zM1161 28h1v1h-1zM105 29h1v1h-1zM202 29h1v1h-1zM232 29h1v1h-1zM294 29h1v1h-1zM627 29h1v1h-1zM720 29h1v1h-1zM774 29h1v1h-1zM786 29h1v1h-1zM789 29h1v1h-1zM797 29h1v1h-1zM1065 29h1v1h-1zM1075 29h1v1h-1zM1084 29h1v1h-1zM1175 29h1v1h-1zM34 30h1v1h-1zM56 30h1v1h-1zM199 30h1v1h-1zM202 30h1v1h-1zM211 30h1v1h-1zM400 30h1v1h-1zM435 30h1v1h-1zM491 30h1v1h-1zM657 30h1v1h-1zM774 30h1v1h-1zM832 30h1v1h-1zM852 30h1v1h-1zM860 30h1v1h-1zM941 30h1v1h-1zM1081 30h1v1h-1zM1131 30h1v1h-1zM1164 30h1v1h-1zM1170 30h1v1h-1zM148 31h1v1h-1zM166 31h1v1h-1zM360 31h1v1h-1zM686 31h1v1h-1zM779 31h1v1h-1zM804 31h2v1h-2zM840 31h1v1h-1zM867 31h1v1h-1zM1158 31h1v1h-1zM157 32h1v1h-1zM171 32h1v1h-1zM337 32h1v1h-1zM365 32h1v1h-1zM507 32h1v1h-1zM524 32h1v1h-1zM542 32h1v1h-1zM585 32h1v1h-1zM828 32h1v1h-1zM840 32h1v1h-1zM1157 32h1v1h-1zM1194 32h1v1h-1zM137 33h1v1h-1zM178 33h1v1h-1zM195 33h1v1h-1zM261 33h1v1h-1zM482 33h1v1h-1zM536 33h1v1h-1zM560 33h1v1h-1zM567 33h1v1h-1zM671 33h1v1h-1zM834 33h1v1h-1zM881 33h1v1h-1zM1103 33h1v1h-1zM1133 33h1v1h-1zM1159 33h1v1h-1zM53 34h1v1h-1zM81 34h1v1h-1zM151 34h1v1h-1zM199 34h1v1h-1zM257 34h1v1h-1zM417 34h1v1h-1zM452 34h1v1h-1zM493 34h1v1h-1zM521 34h1v1h-1zM580 34h1v1h-1zM678 34h1v1h-1zM723 34h1v1h-1zM729 34h1v1h-1zM841 34h1v1h-1zM849 34h1v1h-1zM947 34h1v1h-1zM959 34h1v1h-1zM1090 34h1v1h-1zM1131 34h1v1h-1zM1150 34h1v1h-1zM1161 34h1v1h-1zM1170 34h1v1h-1zM70 35h1v1h-1zM144 35h1v1h-1zM252 35h1v1h-1zM565 35h1v1h-1zM616 35h1v1h-1zM671 35h1v1h-1zM731 35h1v1h-1zM808 35h1v1h-1zM888 35h1v1h-1zM1104 35h1v1h-1zM1166 35h1v1h-1zM258 36h1v1h-1zM353 36h1v1h-1zM507 36h1v1h-1zM577 36h1v1h-1zM690 36h1v1h-1zM701 36h1v1h-1zM753 36h1v1h-1zM830 36h1v1h-1zM1135 36h1v1h-1zM1151 36h1v1h-1zM1161 36h1v1h-1zM39 37h1v1h-1zM54 37h1v1h-1zM101 37h1v1h-1zM140 37h1v1h-1zM206 37h1v1h-1zM223 37h1v1h-1zM232 37h1v1h-1zM337 37h1v1h-1zM414 37h1v1h-1zM428 37h1v1h-1zM435 37h1v1h-1zM488 37h1v1h-1zM571 37h1v1h-1zM632 37h1v1h-1zM788 37h1v1h-1zM843 37h1v1h-1zM1055 37h1v1h-1zM1120 37h1v1h-1zM1158 37h1v1h-1zM75 38h1v1h-1zM422 38h1v1h-1zM439 38h1v1h-1zM654 38h1v1h-1zM690 38h1v1h-1zM785 38h1v1h-1zM792 38h1v1h-1zM800 38h1v1h-1zM834 38h1v1h-1zM922 38h1v1h-1zM1150 38h1v1h-1zM1158 38h1v1h-1zM1173 38h1v1h-1zM32 39h1v1h-1zM77 39h1v1h-1zM547 39h1v1h-1zM658 39h1v1h-1zM669 39h1v1h-1zM779 39h1v1h-1zM781 39h1v1h-1zM783 39h1v1h-1zM789 39h1v1h-1zM798 39h2v1h-2zM801 39h1v1h-1zM810 39h1v1h-1zM826 39h1v1h-1zM849 39h1v1h-1zM894 39h1v1h-1zM900 39h1v1h-1zM1010 39h1v1h-1zM1139 39h1v1h-1zM1169 39h1v1h-1zM188 40h1v1h-1zM191 40h1v1h-1zM535 40h1v1h-1zM656 40h1v1h-1zM698 40h1v1h-1zM790 40h1v1h-1zM807 40h1v1h-1zM810 40h1v1h-1zM843 40h1v1h-1zM845 40h1v1h-1zM1071 40h1v1h-1zM1146 40h2v1h-2zM1149 40h1v1h-1zM1158 40h2v1h-2zM1172 40h1v1h-1zM1177 40h1v1h-1zM89 41h1v1h-1zM102 41h2v1h-2zM166 41h1v1h-1zM220 41h1v1h-1zM308 41h1v1h-1zM414 41h1v1h-1zM573 41h1v1h-1zM795 41h1v1h-1zM820 41h1v1h-1zM891 41h1v1h-1zM1018 41h1v1h-1zM1062 41h1v1h-1zM1163 41h1v1h-1zM1173 41h1v1h-1zM100 42h1v1h-1zM313 42h1v1h-1zM750 42h1v1h-1zM795 42h1v1h-1zM799 42h1v1h-1zM843 42h1v1h-1zM933 42h1v1h-1zM1095 42h1v1h-1zM1128 42h1v1h-1zM1131 42h1v1h-1zM1137 42h1v1h-1zM1178 42h1v1h-1zM1202 42h1v1h-1zM47 43h1v1h-1zM183 43h1v1h-1zM308 43h1v1h-1zM414 43h1v1h-1zM437 43h1v1h-1zM451 43h1v1h-1zM501 43h1v1h-1zM621 43h1v1h-1zM675 43h1v1h-1zM759 43h1v1h-1zM804 43h1v1h-1zM835 43h1v1h-1zM876 43h1v1h-1zM1020 43h1v1h-1zM1130 43h1v1h-1zM1135 43h1v1h-1zM157 44h1v1h-1zM246 44h1v1h-1zM485 44h1v1h-1zM522 44h1v1h-1zM685 44h1v1h-1zM799 44h1v1h-1zM1137 44h1v1h-1zM1163 44h1v1h-1zM1168 44h1v1h-1z"/>
<path fill="#ede1e2" d="M8 0h1v1h-1zM90 0h1v1h-1zM281 0h1v1h-1zM299 0h1v1h-1zM366 0h1v1h-1zM401 0h1v1h-1zM465 0h1v1h-1zM587 0h1v1h-1zM603 0h1v1h-1zM629 0h1v1h-1zM639 0h1v1h-1zM652 0h1v1h-1zM675 0h1v1h-1zM768 0h1v1h-1zM779 0h1v1h-1zM797 0h1v1h-1zM800 0h1v1h-1zM844 0h1v1h-1zM960 0h1v1h-1zM1062 0h1v1h-1zM1074 0h1v1h-1zM1145 0h1v1h-1zM1158 0h1v1h-1zM3 1h2v1h-2zM242 1h1v1h-1zM315 1h1v1h-1zM438 1h1v1h-1zM466 1h1v1h-1zM566 1h1v1h-1zM1127 1h1v1h-1zM82 2h1v1h-1zM84 2h1v1h-1zM279 2h1v1h-1zM302 2h1v1h-1zM328 2h1v1h-1zM349 2h1v1h-1zM449 2h1v1h-1zM699 2h1v1h-1zM819 2h1v1h-1zM836 2h1v1h-1zM1144 2h1v1h-1zM114 3h1v1h-1zM394 3h1v1h-1zM536 3h1v1h-1zM703 3h1v1h-1zM779 3h1v1h-1zM784 3h1v1h-1zM788 3h1v1h-1zM793 3h1v1h-1zM829 3h1v1h-1zM834 3h1v1h-1zM840 3h1v1h-1zM893 3h1v1h-1zM1048 3h1v1h-1zM1151 3h1v1h-1zM1159 3h2v1h-2zM1175 3h1v1h-1zM331 4h1v1h-1zM398 4h1v1h-1zM425 4h1v1h-1zM488 4h1v1h-1zM791 4h1v1h-1zM796 4h1v1h-1zM874 4h1v1h-1zM1154 4h1v1h-1zM209 5h1v1h-1zM294 5h1v1h-1zM299 5h1v1h-1zM531 5h1v1h-1zM777 5h1v1h-1zM783 5h2v1h-2zM793 5h1v1h-1zM871 5h1v1h-1zM1023 5h1v1h-1zM1127 5h1v1h-1zM1129 5h1v1h-1zM1144 5h1v1h-1zM1146 5h1v1h-1zM1160 5h1v1h-1zM46 6h1v1h-1zM97 6h1v1h-1zM195 6h1v1h-1zM247 6h1v1h-1zM439 6h1v1h-1zM449 6h1v1h-1zM799 6h1v1h-1zM978 6h1v1h-1zM1121 6h1v1h-1zM1135 6h1v1h-1zM1149 6h1v1h-1zM147 7h1v1h-1zM294 7h1v1h-1zM299 7h1v1h-1zM370 7h1v1h-1zM460 7h1v1h-1zM650 7h1v1h-1zM667 7h1v1h-1zM783 7h1v1h-1zM799 7h1v1h-1zM838 7h1v1h-1zM840 7h1v1h-1zM1012 7h1v1h-1zM1139 7h1v1h-1zM52 8h1v1h-1zM402 8h1v1h-1zM457 8h1v1h-1zM703 8h2v1h-2zM775 8h2v1h-2zM781 8h1v1h-1zM785 8h1v1h-1zM956 8h1v1h-1zM999 8h1v1h-1zM1139 8h1v1h-1zM1147 8h1v1h-1zM1167 8h1v1h-1zM154 9h1v1h-1zM442 9h1v1h-1zM471 9h1v1h-1zM481 9h1v1h-1zM553 9h1v1h-1zM558 9h1v1h-1zM578 9h1v1h-1zM585 9h1v1h-1zM615 9h1v1h-1zM789 9h1v1h-1zM795 9h1v1h-1zM805 9h1v1h-1zM958 9h1v1h-1zM1140 9h1v1h-1zM1143 9h1v1h-1zM1150 9h1v1h-1zM1157 9h1v1h-1zM393 10h1v1h-1zM480 10h1v1h-1zM542 10h1v1h-1zM586 10h1v1h-1zM691 10h1v1h-1zM695 10h1v1h-1zM781 10h1v1h-1zM800 10h1v1h-1zM808 10h1v1h-1zM822 10h1v1h-1zM161 11h1v1h-1zM380 11h1v1h-1zM425 11h1v1h-1zM446 11h1v1h-1zM490 11h1v1h-1zM616 11h1v1h-1zM779 11h1v1h-1zM793 11h1v1h-1zM832 11h1v1h-1zM951 11h1v1h-1zM1120 11h1v1h-1zM1133 11h1v1h-1zM1139 11h1v1h-1zM1147 11h1v1h-1zM1169 11h2v1h-2zM1197 11h2v1h-2zM76 12h1v1h-1zM127 12h1v1h-1zM247 12h1v1h-1zM446 12h1v1h-1zM457 12h1v1h-1zM533 12h1v1h-1zM664 12h1v1h-1zM779 12h1v1h-1zM781 12h1v1h-1zM785 12h1v1h-1zM797 12h1v1h-1zM811 12h1v1h-1zM815 12h1v1h-1zM817 12h1v1h-1zM1085 12h1v1h-1zM1159 12h1v1h-1zM1161 12h1v1h-1zM1178 12h1v1h-1zM1200 12h1v1h-1zM123 13h1v1h-1zM158 13h1v1h-1zM184 13h1v1h-1zM300 13h1v1h-1zM343 13h1v1h-1zM373 13h1v1h-1zM477 13h1v1h-1zM485 13h1v1h-1zM530 13h1v1h-1zM666 13h1v1h-1zM755 13h1v1h-1zM865 13h1v1h-1zM869 13h1v1h-1zM917 13h1v1h-1zM928 13h1v1h-1zM1039 13h1v1h-1zM1147 13h1v1h-1zM1157 13h1v1h-1zM302 14h1v1h-1zM316 14h1v1h-1zM342 14h1v1h-1zM413 14h1v1h-1zM491 14h1v1h-1zM579 14h1v1h-1zM805 14h1v1h-1zM833 14h1v1h-1zM863 14h1v1h-1zM996 14h1v1h-1zM1033 14h1v1h-1zM1173 14h1v1h-1zM136 15h1v1h-1zM241 15h1v1h-1zM346 15h1v1h-1zM407 15h1v1h-1zM424 15h2v1h-2zM870 15h1v1h-1zM929 15h1v1h-1zM1076 15h1v1h-1zM1130 15h1v1h-1zM1178 15h1v1h-1zM1188 15h1v1h-1zM39 16h1v1h-1zM325 16h1v1h-1zM731 16h1v1h-1zM748 16h1v1h-1zM792 16h1v1h-1zM823 16h1v1h-1zM829 16h1v1h-1zM861 16h1v1h-1zM865 16h1v1h-1zM924 16h1v1h-1zM942 16h1v1h-1zM984 16h1v1h-1zM1077 16h1v1h-1zM1143 16h1v1h-1zM1155 16h1v1h-1zM1157 16h1v1h-1zM1159 16h1v1h-1zM1200 16h1v1h-1zM11 17h2v1h-2zM400 17h1v1h-1zM420 17h1v1h-1zM448 17h1v1h-1zM688 17h1v1h-1zM778 17h1v1h-1zM791 17h1v1h-1zM808 17h1v1h-1zM825 17h1v1h-1zM941 17h1v1h-1zM1000 17h1v1h-1zM1029 17h1v1h-1zM1164 17h1v1h-1zM1175 17h1v1h-1zM3 18h1v1h-1zM75 18h1v1h-1zM189 18h1v1h-1zM282 18h1v1h-1zM562 18h1v1h-1zM775 18h1v1h-1zM778 18h1v1h-1zM804 18h1v1h-1zM824 18h1v1h-1zM833 18h1v1h-1zM859 18h1v1h-1zM1034 18h1v1h-1zM1134 18h1v1h-1zM1146 18h1v1h-1zM1159 18h1v1h-1zM1210 18h1v1h-1zM52 19h1v1h-1zM137 19h1v1h-1zM254 19h1v1h-1zM282 19h1v1h-1zM295 19h1v1h-1zM546 19h1v1h-1zM599 19h1v1h-1zM662 19h1v1h-1zM742 19h1v1h-1zM775 19h1v1h-1zM787 19h1v1h-1zM793 19h1v1h-1zM1034 19h1v1h-1zM1137 19h1v1h-1zM1178 19h1v1h-1zM15 20h1v1h-1zM112 20h1v1h-1zM197 20h1v1h-1zM268 20h1v1h-1zM312 20h1v1h-1zM351 20h1v1h-1zM442 20h2v1h-2zM466 20h1v1h-1zM529 20h1v1h-1zM590 20h1v1h-1zM775 20h1v1h-1zM797 20h1v1h-1zM801 20h1v1h-1zM807 20h1v1h-1zM833 20h1v1h-1zM840 20h1v1h-1zM890 20h1v1h-1zM917 20h1v1h-1zM1014 20h1v1h-1zM1098 20h1v1h-1zM1134 20h1v1h-1zM1150 20h1v1h-1zM1164 20h1v1h-1zM1173 20h1v1h-1zM1176 20h1v1h-1zM1198 20h1v1h-1zM1201 20h1v1h-1zM289 21h1v1h-1zM372 21h1v1h-1zM404 21h1v1h-1zM512 21h1v1h-1zM522 21h1v1h-1zM528 21h1v1h-1zM545 21h1v1h-1zM600 21h1v1h-1zM775 21h1v1h-1zM782 21h1v1h-1zM789 21h1v1h-1zM1171 21h1v1h-1zM58 22h1v1h-1zM74 22h1v1h-1zM86 22h1v1h-1zM222 22h1v1h-1zM301 22h1v1h-1zM352 22h1v1h-1zM641 22h1v1h-1zM688 22h1v1h-1zM693 22h1v1h-1zM780 22h1v1h-1zM787 22h1v1h-1zM1084 22h1v1h-1zM1157 22h1v1h-1zM1178 22h1v1h-1zM72 23h1v1h-1zM129 23h1v1h-1zM172 23h1v1h-1zM346 23h1v1h-1zM448 23h1v1h-1zM450 23h1v1h-1zM461 23h1v1h-1zM586 23h1v1h-1zM707 23h1v1h-1zM711 23h1v1h-1zM774 23h1v1h-1zM786 23h1v1h-1zM818 23h1v1h-1zM828 23h1v1h-1zM840 23h1v1h-1zM942 23h1v1h-1zM960 23h1v1h-1zM1168 23h1v1h-1zM218 24h1v1h-1zM269 24h1v1h-1zM391 24h1v1h-1zM408 24h1v1h-1zM415 24h1v1h-1zM421 24h1v1h-1zM556 24h1v1h-1zM563 24h1v1h-1zM653 24h1v1h-1zM666 24h1v1h-1zM784 24h1v1h-1zM799 24h1v1h-1zM930 24h1v1h-1zM1023 24h1v1h-1zM1035 24h1v1h-1zM1078 24h1v1h-1zM1106 24h1v1h-1zM1156 24h1v1h-1zM185 25h1v1h-1zM303 25h1v1h-1zM361 25h1v1h-1zM390 25h1v1h-1zM447 25h1v1h-1zM450 25h1v1h-1zM485 25h1v1h-1zM588 25h1v1h-1zM775 25h1v1h-1zM777 25h1v1h-1zM784 25h1v1h-1zM798 25h1v1h-1zM877 25h1v1h-1zM914 25h1v1h-1zM980 25h1v1h-1zM1069 25h1v1h-1zM1148 25h1v1h-1zM1151 25h1v1h-1zM1155 25h1v1h-1zM1178 25h1v1h-1zM43 26h1v1h-1zM65 26h2v1h-2zM242 26h1v1h-1zM297 26h1v1h-1zM451 26h1v1h-1zM604 26h1v1h-1zM692 26h1v1h-1zM943 26h1v1h-1zM1180 26h1v1h-1zM84 27h1v1h-1zM179 27h1v1h-1zM496 27h1v1h-1zM507 27h1v1h-1zM706 27h1v1h-1zM806 27h1v1h-1zM843 27h1v1h-1zM936 27h1v1h-1zM1138 27h1v1h-1zM1155 27h1v1h-1zM25 28h1v1h-1zM194 28h1v1h-1zM424 28h1v1h-1zM534 28h1v1h-1zM627 28h1v1h-1zM637 28h1v1h-1zM748 28h1v1h-1zM822 28h2v1h-2zM828 28h2v1h-2zM833 28h1v1h-1zM924 28h1v1h-1zM985 28h1v1h-1zM1023 28h1v1h-1zM1112 28h1v1h-1zM1133 28h1v1h-1zM1142 28h1v1h-1zM1145 28h1v1h-1zM1156 28h1v1h-1zM266 29h1v1h-1zM783 29h1v1h-1zM864 29h1v1h-1zM904 29h1v1h-1zM909 29h1v1h-1zM1142 29h1v1h-1zM1173 29h1v1h-1zM127 30h1v1h-1zM272 30h1v1h-1zM485 30h1v1h-1zM511 30h1v1h-1zM644 30h1v1h-1zM784 30h1v1h-1zM797 30h1v1h-1zM805 30h1v1h-1zM966 30h1v1h-1zM1017 30h1v1h-1zM1056 30h1v1h-1zM1079 30h1v1h-1zM1098 30h1v1h-1zM22 31h1v1h-1zM126 31h1v1h-1zM170 31h1v1h-1zM190 31h1v1h-1zM356 31h1v1h-1zM526 31h1v1h-1zM669 31h1v1h-1zM695 31h1v1h-1zM775 31h1v1h-1zM777 31h1v1h-1zM787 31h1v1h-1zM790 31h1v1h-1zM801 31h1v1h-1zM833 31h1v1h-1zM838 31h1v1h-1zM869 31h1v1h-1zM910 31h1v1h-1zM930 31h1v1h-1zM972 31h1v1h-1zM991 31h1v1h-1zM1001 31h1v1h-1zM1131 31h1v1h-1zM1133 31h1v1h-1zM1154 31h1v1h-1zM1167 31h1v1h-1zM301 32h1v1h-1zM418 32h1v1h-1zM457 32h1v1h-1zM791 32h1v1h-1zM808 32h1v1h-1zM814 32h1v1h-1zM1014 32h1v1h-1zM1016 32h1v1h-1zM1075 32h1v1h-1zM1146 32h3v1h-3zM1153 32h1v1h-1zM1156 32h1v1h-1zM1162 32h1v1h-1zM1177 32h1v1h-1zM1199 32h1v1h-1zM118 33h1v1h-1zM142 33h1v1h-1zM404 33h1v1h-1zM436 33h1v1h-1zM647 33h1v1h-1zM666 33h1v1h-1zM806 33h1v1h-1zM820 33h1v1h-1zM841 33h1v1h-1zM920 33h1v1h-1zM1014 33h1v1h-1zM1044 33h1v1h-1zM1136 33h1v1h-1zM1145 33h1v1h-1zM1154 33h1v1h-1zM1171 33h1v1h-1zM188 34h1v1h-1zM331 34h1v1h-1zM462 34h1v1h-1zM517 34h1v1h-1zM530 34h1v1h-1zM682 34h1v1h-1zM693 34h1v1h-1zM790 34h1v1h-1zM1026 34h1v1h-1zM1036 34h1v1h-1zM1097 34h1v1h-1zM1125 34h1v1h-1zM1134 34h1v1h-1zM1139 34h1v1h-1zM1142 34h1v1h-1zM1148 34h2v1h-2zM1154 34h1v1h-1zM1159 34h1v1h-1zM1162 34h1v1h-1zM1167 34h1v1h-1zM1172 34h1v1h-1zM41 35h1v1h-1zM142 35h1v1h-1zM179 35h1v1h-1zM187 35h1v1h-1zM197 35h1v1h-1zM340 35h1v1h-1zM361 35h1v1h-1zM522 35h1v1h-1zM548 35h1v1h-1zM608 35h1v1h-1zM690 35h1v1h-1zM827 35h1v1h-1zM869 35h1v1h-1zM906 35h1v1h-1zM912 35h1v1h-1zM980 35h1v1h-1zM1058 35h1v1h-1zM1141 35h1v1h-1zM1150 35h1v1h-1zM1159 35h1v1h-1zM1184 35h1v1h-1zM255 36h1v1h-1zM529 36h1v1h-1zM602 36h1v1h-1zM630 36h1v1h-1zM720 36h1v1h-1zM739 36h1v1h-1zM742 36h1v1h-1zM824 36h1v1h-1zM828 36h2v1h-2zM849 36h1v1h-1zM991 36h1v1h-1zM62 37h1v1h-1zM111 37h1v1h-1zM235 37h1v1h-1zM247 37h1v1h-1zM424 37h1v1h-1zM462 37h1v1h-1zM553 37h1v1h-1zM645 37h1v1h-1zM790 37h1v1h-1zM801 37h1v1h-1zM924 37h1v1h-1zM1108 37h1v1h-1zM1169 37h1v1h-1zM1209 37h1v1h-1zM32 38h1v1h-1zM120 38h1v1h-1zM124 38h1v1h-1zM198 38h1v1h-1zM251 38h1v1h-1zM386 38h1v1h-1zM777 38h1v1h-1zM782 38h2v1h-2zM790 38h1v1h-1zM794 38h1v1h-1zM831 38h1v1h-1zM837 38h1v1h-1zM907 38h1v1h-1zM1138 38h1v1h-1zM1140 38h1v1h-1zM1144 38h1v1h-1zM1162 38h2v1h-2zM1172 38h1v1h-1zM13 39h1v1h-1zM87 39h1v1h-1zM176 39h1v1h-1zM665 39h1v1h-1zM790 39h1v1h-1zM793 39h2v1h-2zM797 39h1v1h-1zM937 39h1v1h-1zM939 39h1v1h-1zM1124 39h1v1h-1zM1144 39h1v1h-1zM1146 39h1v1h-1zM1159 39h1v1h-1zM1201 39h1v1h-1zM121 40h1v1h-1zM183 40h1v1h-1zM233 40h1v1h-1zM259 40h1v1h-1zM287 40h1v1h-1zM301 40h1v1h-1zM401 40h1v1h-1zM416 40h1v1h-1zM461 40h1v1h-1zM521 40h1v1h-1zM539 40h1v1h-1zM609 40h1v1h-1zM798 40h1v1h-1zM813 40h1v1h-1zM820 40h1v1h-1zM825 40h1v1h-1zM923 40h1v1h-1zM980 40h1v1h-1zM1085 40h1v1h-1zM1102 40h1v1h-1zM1128 40h1v1h-1zM1143 40h1v1h-1zM1153 40h1v1h-1zM1162 40h2v1h-2zM120 41h1v1h-1zM175 41h1v1h-1zM261 41h1v1h-1zM334 41h1v1h-1zM415 41h1v1h-1zM419 41h1v1h-1zM545 41h1v1h-1zM551 41h1v1h-1zM782 41h1v1h-1zM835 41h1v1h-1zM858 41h1v1h-1zM958 41h1v1h-1zM1075 41h1v1h-1zM1136 41h1v1h-1zM1152 41h2v1h-2zM1165 41h1v1h-1zM16 42h1v1h-1zM194 42h1v1h-1zM198 42h1v1h-1zM436 42h1v1h-1zM485 42h1v1h-1zM532 42h1v1h-1zM801 42h1v1h-1zM950 42h1v1h-1zM1140 42h1v1h-1zM491 43h1v1h-1zM786 43h1v1h-1zM793 43h1v1h-1zM968 43h1v1h-1zM1140 43h1v1h-1zM1143 43h1v1h-1zM1156 43h1v1h-1zM1166 43h1v1h-1zM64 44h1v1h-1zM101 44h1v1h-1zM232 44h1v1h-1zM412 44h1v1h-1zM528 44h1v1h-1zM785 44h1v1h-1zM1055 44h1v1h-1zM1074 44h1v1h-1zM1131 44h1v1h-1zM1133 44h1v1h-1zM1135 44h1v1h-1zM1147 44h1v1h-1z"/>
<path fill="#ecdddf" d="M282 0h1v1h-1zM697 0h1v1h-1zM794 0h1v1h-1zM952 0h1v1h-1zM1148 0h1v1h-1zM1156 0h1v1h-1zM1172 0h1v1h-1zM174 1h1v1h-1zM211 1h1v1h-1zM460 1h1v1h-1zM503 1h1v1h-1zM624 1h1v1h-1zM817 1h1v1h-1zM832 1h1v1h-1zM957 1h1v1h-1zM165 2h1v1h-1zM265 2h1v1h-1zM315 2h1v1h-1zM358 2h1v1h-1zM372 2h1v1h-1zM413 2h1v1h-1zM502 2h1v1h-1zM511 2h1v1h-1zM766 2h1v1h-1zM901 2h1v1h-1zM1168 2h1v1h-1zM1199 2h1v1h-1zM781 3h1v1h-1zM809 3h1v1h-1zM1054 3h1v1h-1zM1136 3h1v1h-1zM1143 3h1v1h-1zM151 4h1v1h-1zM235 4h1v1h-1zM455 4h1v1h-1zM636 4h1v1h-1zM1000 4h1v1h-1zM1144 4h1v1h-1zM1153 4h1v1h-1zM1171 4h1v1h-1zM62 5h1v1h-1zM136 5h1v1h-1zM216 5h1v1h-1zM229 5h1v1h-1zM296 5h1v1h-1zM317 5h1v1h-1zM398 5h1v1h-1zM439 5h1v1h-1zM593 5h1v1h-1zM652 5h1v1h-1zM689 5h1v1h-1zM841 5h1v1h-1zM1081 5h1v1h-1zM1131 5h1v1h-1zM1168 5h1v1h-1zM96 6h1v1h-1zM290 6h1v1h-1zM427 6h1v1h-1zM551 6h1v1h-1zM568 6h1v1h-1zM589 6h1v1h-1zM779 6h1v1h-1zM830 6h1v1h-1zM834 6h1v1h-1zM925 6h1v1h-1zM984 6h1v1h-1zM989 6h1v1h-1zM1150 6h1v1h-1zM1152 6h1v1h-1zM1197 6h1v1h-1zM0 7h1v1h-1zM49 7h1v1h-1zM434 7h1v1h-1zM483 7h1v1h-1zM494 7h1v1h-1zM573 7h1v1h-1zM633 7h1v1h-1zM657 7h1v1h-1zM665 7h1v1h-1zM706 7h1v1h-1zM735 7h1v1h-1zM796 7h1v1h-1zM1143 7h1v1h-1zM1165 7h1v1h-1zM1169 7h1v1h-1zM1176 7h1v1h-1zM179 8h1v1h-1zM225 8h1v1h-1zM374 8h1v1h-1zM380 8h1v1h-1zM713 8h1v1h-1zM841 8h1v1h-1zM847 8h1v1h-1zM1044 8h1v1h-1zM1098 8h1v1h-1zM1133 8h1v1h-1zM1141 8h2v1h-2zM1153 8h1v1h-1zM1159 8h1v1h-1zM1174 8h1v1h-1zM1177 8h1v1h-1zM2 9h1v1h-1zM38 9h1v1h-1zM51 9h1v1h-1zM253 9h1v1h-1zM281 9h1v1h-1zM303 9h1v1h-1zM313 9h1v1h-1zM544 9h1v1h-1zM550 9h1v1h-1zM552 9h1v1h-1zM562 9h1v1h-1zM566 9h1v1h-1zM569 9h1v1h-1zM575 9h1v1h-1zM633 9h1v1h-1zM652 9h1v1h-1zM837 9h1v1h-1zM905 9h1v1h-1zM1012 9h1v1h-1zM1148 9h1v1h-1zM1153 9h1v1h-1zM1174 9h1v1h-1zM10 10h1v1h-1zM178 10h1v1h-1zM345 10h1v1h-1zM469 10h1v1h-1zM576 10h1v1h-1zM634 10h1v1h-1zM834 10h1v1h-1zM1009 10h1v1h-1zM1164 10h1v1h-1zM1177 10h1v1h-1zM303 11h1v1h-1zM440 11h1v1h-1zM783 11h1v1h-1zM822 11h1v1h-1zM885 11h1v1h-1zM940 11h1v1h-1zM988 11h1v1h-1zM1075 11h1v1h-1zM1159 11h1v1h-1zM1161 11h1v1h-1zM1211 11h1v1h-1zM36 12h1v1h-1zM243 12h1v1h-1zM246 12h1v1h-1zM376 12h1v1h-1zM598 12h1v1h-1zM665 12h1v1h-1zM712 12h1v1h-1zM776 12h1v1h-1zM807 12h1v1h-1zM814 12h1v1h-1zM844 12h1v1h-1zM938 12h1v1h-1zM1036 12h1v1h-1zM1097 12h1v1h-1zM1146 12h1v1h-1zM1156 12h1v1h-1zM1164 12h1v1h-1zM430 13h1v1h-1zM523 13h1v1h-1zM630 13h1v1h-1zM710 13h1v1h-1zM807 13h1v1h-1zM828 13h2v1h-2zM846 13h1v1h-1zM974 13h1v1h-1zM1012 13h1v1h-1zM1056 13h1v1h-1zM1067 13h1v1h-1zM1144 13h1v1h-1zM1150 13h2v1h-2zM1155 13h1v1h-1zM1160 13h1v1h-1zM41 14h1v1h-1zM58 14h1v1h-1zM137 14h1v1h-1zM189 14h1v1h-1zM397 14h1v1h-1zM514 14h1v1h-1zM656 14h1v1h-1zM680 14h1v1h-1zM712 14h1v1h-1zM761 14h1v1h-1zM769 14h1v1h-1zM774 14h1v1h-1zM777 14h1v1h-1zM806 14h1v1h-1zM821 14h1v1h-1zM825 14h1v1h-1zM832 14h1v1h-1zM847 14h1v1h-1zM913 14h1v1h-1zM917 14h1v1h-1zM1038 14h1v1h-1zM1152 14h1v1h-1zM1163 14h1v1h-1zM1170 14h1v1h-1zM167 15h1v1h-1zM197 15h1v1h-1zM448 15h1v1h-1zM557 15h1v1h-1zM560 15h1v1h-1zM573 15h1v1h-1zM711 15h1v1h-1zM815 15h1v1h-1zM1042 15h1v1h-1zM1070 15h1v1h-1zM1072 15h1v1h-1zM1171 15h1v1h-1zM1183 15h1v1h-1zM34 16h1v1h-1zM136 16h1v1h-1zM295 16h1v1h-1zM400 16h1v1h-1zM406 16h1v1h-1zM546 16h1v1h-1zM568 16h1v1h-1zM722 16h1v1h-1zM915 16h1v1h-1zM1052 16h1v1h-1zM1089 16h1v1h-1zM1114 16h1v1h-1zM1124 16h1v1h-1zM1130 16h2v1h-2zM1144 16h1v1h-1zM1146 16h1v1h-1zM1158 16h1v1h-1zM1160 16h2v1h-2zM1194 16h1v1h-1zM13 17h1v1h-1zM158 17h1v1h-1zM180 17h1v1h-1zM308 17h1v1h-1zM366 17h1v1h-1zM397 17h1v1h-1zM600 17h1v1h-1zM618 17h1v1h-1zM645 17h1v1h-1zM652 17h1v1h-1zM672 17h1v1h-1zM706 17h1v1h-1zM818 17h1v1h-1zM960 17h1v1h-1zM1035 17h1v1h-1zM1059 17h1v1h-1zM1086 17h1v1h-1zM1131 17h1v1h-1zM1137 17h1v1h-1zM1203 17h1v1h-1zM34 18h1v1h-1zM80 18h1v1h-1zM116 18h1v1h-1zM190 18h1v1h-1zM277 18h1v1h-1zM302 18h1v1h-1zM304 18h1v1h-1zM365 18h1v1h-1zM427 18h1v1h-1zM674 18h1v1h-1zM682 18h1v1h-1zM761 18h1v1h-1zM803 18h1v1h-1zM809 18h1v1h-1zM834 18h1v1h-1zM943 18h1v1h-1zM54 19h1v1h-1zM95 19h1v1h-1zM188 19h1v1h-1zM197 19h1v1h-1zM242 19h1v1h-1zM320 19h1v1h-1zM407 19h1v1h-1zM416 19h1v1h-1zM450 19h1v1h-1zM516 19h1v1h-1zM536 19h1v1h-1zM567 19h1v1h-1zM670 19h1v1h-1zM721 19h1v1h-1zM723 19h1v1h-1zM774 19h1v1h-1zM824 19h1v1h-1zM1008 19h1v1h-1zM1022 19h1v1h-1zM1128 19h1v1h-1zM1156 19h1v1h-1zM1163 19h1v1h-1zM1188 19h1v1h-1zM11 20h1v1h-1zM148 20h1v1h-1zM421 20h1v1h-1zM464 20h2v1h-2zM530 20h1v1h-1zM690 20h1v1h-1zM694 20h1v1h-1zM751 20h1v1h-1zM808 20h1v1h-1zM1108 20h1v1h-1zM1149 20h1v1h-1zM1175 20h1v1h-1zM1196 20h1v1h-1zM107 21h1v1h-1zM441 21h1v1h-1zM507 21h1v1h-1zM570 21h1v1h-1zM599 21h1v1h-1zM878 21h1v1h-1zM1003 21h1v1h-1zM1020 21h1v1h-1zM1131 21h1v1h-1zM7 22h1v1h-1zM32 22h1v1h-1zM39 22h1v1h-1zM69 22h1v1h-1zM354 22h1v1h-1zM449 22h1v1h-1zM502 22h1v1h-1zM543 22h1v1h-1zM563 22h1v1h-1zM795 22h1v1h-1zM801 22h1v1h-1zM838 22h1v1h-1zM965 22h1v1h-1zM1004 22h1v1h-1zM1109 22h1v1h-1zM1130 22h1v1h-1zM1158 22h1v1h-1zM178 23h1v1h-1zM280 23h1v1h-1zM301 23h1v1h-1zM356 23h1v1h-1zM422 23h1v1h-1zM457 23h1v1h-1zM504 23h1v1h-1zM624 23h1v1h-1zM718 23h1v1h-1zM762 23h1v1h-1zM808 23h1v1h-1zM813 23h1v1h-1zM873 23h1v1h-1zM901 23h1v1h-1zM1150 23h1v1h-1zM25 24h1v1h-1zM180 24h1v1h-1zM195 24h1v1h-1zM409 24h1v1h-1zM414 24h1v1h-1zM545 24h1v1h-1zM564 24h1v1h-1zM633 24h1v1h-1zM1140 24h1v1h-1zM1143 24h1v1h-1zM1148 24h1v1h-1zM1152 24h1v1h-1zM1160 24h1v1h-1zM1165 24h1v1h-1zM25 25h1v1h-1zM431 25h1v1h-1zM496 25h1v1h-1zM505 25h1v1h-1zM519 25h1v1h-1zM631 25h1v1h-1zM822 25h1v1h-1zM824 25h1v1h-1zM832 25h1v1h-1zM900 25h1v1h-1zM945 25h1v1h-1zM1145 25h2v1h-2zM1160 25h1v1h-1zM1172 25h1v1h-1zM1211 25h1v1h-1zM216 26h1v1h-1zM449 26h1v1h-1zM563 26h1v1h-1zM572 26h1v1h-1zM585 26h1v1h-1zM609 26h1v1h-1zM649 26h1v1h-1zM725 26h1v1h-1zM741 26h1v1h-1zM831 26h1v1h-1zM956 26h1v1h-1zM979 26h1v1h-1zM1174 26h1v1h-1zM142 27h1v1h-1zM170 27h1v1h-1zM176 27h1v1h-1zM245 27h1v1h-1zM296 27h1v1h-1zM411 27h1v1h-1zM442 27h1v1h-1zM524 27h1v1h-1zM761 27h1v1h-1zM811 27h1v1h-1zM815 27h1v1h-1zM1174 27h1v1h-1zM1176 27h1v1h-1zM1185 27h1v1h-1zM75 28h1v1h-1zM86 28h1v1h-1zM151 28h1v1h-1zM177 28h1v1h-1zM385 28h1v1h-1zM397 28h1v1h-1zM650 28h1v1h-1zM703 28h1v1h-1zM722 28h1v1h-1zM737 28h1v1h-1zM768 28h1v1h-1zM797 28h1v1h-1zM805 28h1v1h-1zM807 28h2v1h-2zM814 28h1v1h-1zM843 28h1v1h-1zM983 28h1v1h-1zM1129 28h2v1h-2zM1135 28h1v1h-1zM1147 28h2v1h-2zM1151 28h1v1h-1zM1155 28h1v1h-1zM1158 28h2v1h-2zM1163 28h1v1h-1zM30 29h1v1h-1zM38 29h1v1h-1zM176 29h1v1h-1zM203 29h1v1h-1zM211 29h1v1h-1zM238 29h1v1h-1zM438 29h1v1h-1zM553 29h1v1h-1zM679 29h1v1h-1zM712 29h1v1h-1zM762 29h1v1h-1zM771 29h1v1h-1zM777 29h1v1h-1zM793 29h1v1h-1zM848 29h1v1h-1zM990 29h1v1h-1zM1136 29h1v1h-1zM1138 29h1v1h-1zM1154 29h1v1h-1zM1157 29h1v1h-1zM311 30h1v1h-1zM407 30h1v1h-1zM480 30h1v1h-1zM517 30h1v1h-1zM561 30h1v1h-1zM636 30h1v1h-1zM735 30h1v1h-1zM1194 30h1v1h-1zM1199 30h1v1h-1zM52 31h1v1h-1zM68 31h1v1h-1zM100 31h2v1h-2zM320 31h1v1h-1zM514 31h1v1h-1zM540 31h1v1h-1zM717 31h1v1h-1zM811 31h1v1h-1zM822 31h1v1h-1zM843 31h2v1h-2zM926 31h1v1h-1zM1026 31h1v1h-1zM1104 31h1v1h-1zM178 32h2v1h-2zM207 32h1v1h-1zM321 32h1v1h-1zM352 32h1v1h-1zM395 32h1v1h-1zM414 32h1v1h-1zM800 32h1v1h-1zM845 32h1v1h-1zM855 32h1v1h-1zM1012 32h1v1h-1zM1131 32h1v1h-1zM1143 32h1v1h-1zM1168 32h2v1h-2zM1173 32h1v1h-1zM34 33h1v1h-1zM129 33h1v1h-1zM432 33h1v1h-1zM552 33h1v1h-1zM669 33h1v1h-1zM719 33h1v1h-1zM823 33h1v1h-1zM944 33h1v1h-1zM987 33h1v1h-1zM1117 33h1v1h-1zM1134 33h1v1h-1zM1170 33h1v1h-1zM1172 33h1v1h-1zM9 34h1v1h-1zM59 34h1v1h-1zM159 34h1v1h-1zM193 34h1v1h-1zM336 34h2v1h-2zM427 34h1v1h-1zM536 34h1v1h-1zM577 34h1v1h-1zM625 34h1v1h-1zM696 34h1v1h-1zM705 34h1v1h-1zM710 34h1v1h-1zM774 34h1v1h-1zM815 34h1v1h-1zM887 34h1v1h-1zM896 34h1v1h-1zM1104 34h1v1h-1zM1145 34h2v1h-2zM1155 34h1v1h-1zM1160 34h1v1h-1zM1168 34h1v1h-1zM76 35h1v1h-1zM89 35h1v1h-1zM168 35h1v1h-1zM183 35h1v1h-1zM333 35h1v1h-1zM390 35h1v1h-1zM429 35h1v1h-1zM481 35h1v1h-1zM583 35h1v1h-1zM978 35h1v1h-1zM1162 35h1v1h-1zM1167 35h1v1h-1zM1172 35h1v1h-1zM1176 35h1v1h-1zM1178 35h1v1h-1zM24 36h1v1h-1zM177 36h1v1h-1zM310 36h1v1h-1zM406 36h1v1h-1zM462 36h1v1h-1zM541 36h1v1h-1zM562 36h1v1h-1zM695 36h1v1h-1zM843 36h1v1h-1zM857 36h1v1h-1zM959 36h1v1h-1zM1007 36h2v1h-2zM1022 36h1v1h-1zM1143 36h1v1h-1zM1171 36h1v1h-1zM1174 36h1v1h-1zM133 37h1v1h-1zM177 37h1v1h-1zM210 37h1v1h-1zM267 37h1v1h-1zM297 37h1v1h-1zM322 37h1v1h-1zM357 37h1v1h-1zM774 37h1v1h-1zM777 37h1v1h-1zM784 37h1v1h-1zM988 37h1v1h-1zM997 37h1v1h-1zM1132 37h2v1h-2zM1136 37h1v1h-1zM1146 37h2v1h-2zM1159 37h1v1h-1zM1170 37h1v1h-1zM1175 37h1v1h-1zM1204 37h1v1h-1zM115 38h1v1h-1zM149 38h1v1h-1zM152 38h2v1h-2zM183 38h1v1h-1zM229 38h1v1h-1zM320 38h1v1h-1zM391 38h1v1h-1zM403 38h1v1h-1zM490 38h1v1h-1zM563 38h1v1h-1zM603 38h1v1h-1zM697 38h1v1h-1zM721 38h1v1h-1zM746 38h1v1h-1zM760 38h1v1h-1zM795 38h1v1h-1zM798 38h1v1h-1zM1030 38h1v1h-1zM1094 38h1v1h-1zM1136 38h1v1h-1zM1148 38h1v1h-1zM1168 38h1v1h-1zM280 39h1v1h-1zM425 39h1v1h-1zM573 39h1v1h-1zM628 39h1v1h-1zM703 39h1v1h-1zM813 39h1v1h-1zM840 39h1v1h-1zM972 39h1v1h-1zM1138 39h1v1h-1zM1143 39h1v1h-1zM1155 39h3v1h-3zM1175 39h1v1h-1zM1209 39h1v1h-1zM204 40h1v1h-1zM269 40h1v1h-1zM305 40h1v1h-1zM410 40h1v1h-1zM624 40h1v1h-1zM709 40h1v1h-1zM722 40h1v1h-1zM761 40h1v1h-1zM772 40h1v1h-1zM826 40h1v1h-1zM829 40h2v1h-2zM848 40h1v1h-1zM999 40h1v1h-1zM1008 40h1v1h-1zM1140 40h1v1h-1zM1155 40h1v1h-1zM1160 40h1v1h-1zM1200 40h1v1h-1zM1204 40h2v1h-2zM1211 40h1v1h-1zM176 41h1v1h-1zM235 41h1v1h-1zM293 41h1v1h-1zM300 41h1v1h-1zM316 41h2v1h-2zM772 41h1v1h-1zM818 41h2v1h-2zM829 41h1v1h-1zM1043 41h1v1h-1zM1144 41h1v1h-1zM1155 41h2v1h-2zM1161 41h1v1h-1zM1174 41h1v1h-1zM1183 41h1v1h-1zM284 42h1v1h-1zM500 42h1v1h-1zM558 42h1v1h-1zM672 42h1v1h-1zM775 42h1v1h-1zM798 42h1v1h-1zM922 42h1v1h-1zM960 42h1v1h-1zM1015 42h1v1h-1zM1028 42h1v1h-1zM1142 42h1v1h-1zM1146 42h1v1h-1zM1168 42h1v1h-1zM1201 42h1v1h-1zM45 43h1v1h-1zM185 43h1v1h-1zM291 43h1v1h-1zM764 43h1v1h-1zM827 43h1v1h-1zM832 43h1v1h-1zM869 43h1v1h-1zM1022 43h1v1h-1zM1116 43h1v1h-1zM1129 43h1v1h-1zM1144 43h1v1h-1zM1147 43h1v1h-1zM1149 43h1v1h-1zM1151 43h1v1h-1zM1161 43h1v1h-1zM1169 43h1v1h-1zM1177 43h1v1h-1zM3 44h1v1h-1zM187 44h1v1h-1zM235 44h1v1h-1zM413 44h1v1h-1zM446 44h1v1h-1zM463 44h1v1h-1zM611 44h1v1h-1zM1138 44h1v1h-1zM1154 44h1v1h-1z"/>
<path fill="#ecdadc" d="M48 0h1v1h-1zM553 0h1v1h-1zM597 0h1v1h-1zM762 0h1v1h-1zM818 0h1v1h-1zM832 0h1v1h-1zM983 0h1v1h-1zM1026 0h1v1h-1zM1072 0h1v1h-1zM1149 0h1v1h-1zM1159 0h1v1h-1zM100 1h1v1h-1zM183 1h1v1h-1zM203 1h1v1h-1zM336 1h1v1h-1zM458 1h1v1h-1zM702 1h1v1h-1zM844 1h1v1h-1zM1014 1h1v1h-1zM1134 1h1v1h-1zM1164 1h1v1h-1zM1176 1h1v1h-1zM25 2h1v1h-1zM53 2h1v1h-1zM169 2h1v1h-1zM266 2h1v1h-1zM326 2h1v1h-1zM513 2h1v1h-1zM671 2h1v1h-1zM740 2h1v1h-1zM831 2h1v1h-1zM1070 2h1v1h-1zM1140 2h1v1h-1zM1200 2h1v1h-1zM92 3h1v1h-1zM144 3h1v1h-1zM147 3h1v1h-1zM172 3h1v1h-1zM262 3h1v1h-1zM450 3h1v1h-1zM564 3h1v1h-1zM604 3h1v1h-1zM941 3h1v1h-1zM1049 3h1v1h-1zM1063 3h1v1h-1zM100 4h1v1h-1zM335 4h1v1h-1zM662 4h1v1h-1zM668 4h1v1h-1zM723 4h1v1h-1zM831 4h1v1h-1zM1143 4h1v1h-1zM1156 4h1v1h-1zM1198 4h1v1h-1zM86 5h1v1h-1zM144 5h1v1h-1zM291 5h1v1h-1zM293 5h1v1h-1zM295 5h1v1h-1zM298 5h1v1h-1zM304 5h1v1h-1zM582 5h1v1h-1zM699 5h1v1h-1zM773 5h1v1h-1zM960 5h1v1h-1zM1165 5h1v1h-1zM115 6h1v1h-1zM222 6h1v1h-1zM237 6h1v1h-1zM319 6h1v1h-1zM525 6h1v1h-1zM540 6h1v1h-1zM687 6h1v1h-1zM979 6h1v1h-1zM992 6h1v1h-1zM996 6h1v1h-1zM1022 6h1v1h-1zM1037 6h1v1h-1zM1099 6h1v1h-1zM1166 6h1v1h-1zM1173 6h1v1h-1zM43 7h1v1h-1zM80 7h1v1h-1zM175 7h1v1h-1zM254 7h1v1h-1zM261 7h1v1h-1zM295 7h1v1h-1zM302 7h1v1h-1zM387 7h1v1h-1zM690 7h1v1h-1zM702 7h1v1h-1zM801 7h1v1h-1zM935 7h1v1h-1zM986 7h1v1h-1zM1138 7h1v1h-1zM1148 7h1v1h-1zM1160 7h1v1h-1zM34 8h1v1h-1zM188 8h1v1h-1zM567 8h1v1h-1zM621 8h1v1h-1zM680 8h1v1h-1zM744 8h1v1h-1zM1152 8h1v1h-1zM1154 8h1v1h-1zM1164 8h1v1h-1zM1166 8h1v1h-1zM1169 8h1v1h-1zM556 9h1v1h-1zM589 9h1v1h-1zM628 9h3v1h-3zM636 9h1v1h-1zM763 9h1v1h-1zM957 9h1v1h-1zM1070 9h1v1h-1zM1134 9h1v1h-1zM1144 9h1v1h-1zM1151 9h1v1h-1zM1160 9h1v1h-1zM1170 9h1v1h-1zM1177 9h1v1h-1zM66 10h1v1h-1zM77 10h1v1h-1zM173 10h1v1h-1zM273 10h1v1h-1zM408 10h1v1h-1zM417 10h1v1h-1zM617 10h1v1h-1zM643 10h1v1h-1zM652 10h1v1h-1zM692 10h1v1h-1zM747 10h1v1h-1zM819 10h1v1h-1zM1001 10h1v1h-1zM1142 10h1v1h-1zM1148 10h1v1h-1zM1162 10h1v1h-1zM1171 10h1v1h-1zM1196 10h1v1h-1zM634 11h1v1h-1zM647 11h1v1h-1zM776 11h1v1h-1zM788 11h1v1h-1zM792 11h1v1h-1zM826 11h1v1h-1zM842 11h1v1h-1zM866 11h1v1h-1zM971 11h1v1h-1zM981 11h1v1h-1zM1062 11h1v1h-1zM1153 11h1v1h-1zM145 12h1v1h-1zM202 12h1v1h-1zM318 12h1v1h-1zM379 12h1v1h-1zM459 12h1v1h-1zM694 12h1v1h-1zM812 12h1v1h-1zM901 12h1v1h-1zM1133 12h1v1h-1zM1143 12h2v1h-2zM45 13h1v1h-1zM142 13h1v1h-1zM190 13h1v1h-1zM336 13h1v1h-1zM359 13h1v1h-1zM416 13h1v1h-1zM570 13h1v1h-1zM578 13h1v1h-1zM778 13h1v1h-1zM1159 13h1v1h-1zM1204 13h1v1h-1zM132 14h1v1h-1zM301 14h1v1h-1zM314 14h1v1h-1zM405 14h1v1h-1zM430 14h1v1h-1zM441 14h1v1h-1zM456 14h1v1h-1zM497 14h1v1h-1zM542 14h1v1h-1zM721 14h1v1h-1zM725 14h1v1h-1zM756 14h1v1h-1zM790 14h1v1h-1zM802 14h1v1h-1zM815 14h1v1h-1zM830 14h1v1h-1zM1072 14h1v1h-1zM1120 14h1v1h-1zM1150 14h1v1h-1zM1161 14h1v1h-1zM105 15h1v1h-1zM141 15h1v1h-1zM143 15h1v1h-1zM300 15h1v1h-1zM322 15h1v1h-1zM563 15h1v1h-1zM569 15h1v1h-1zM627 15h1v1h-1zM703 15h1v1h-1zM714 15h1v1h-1zM717 15h1v1h-1zM733 15h1v1h-1zM829 15h1v1h-1zM833 15h1v1h-1zM899 15h1v1h-1zM1096 15h1v1h-1zM1210 15h1v1h-1zM36 16h1v1h-1zM190 16h1v1h-1zM364 16h1v1h-1zM376 16h1v1h-1zM416 16h1v1h-1zM765 16h1v1h-1zM806 16h1v1h-1zM825 16h4v1h-4zM839 16h1v1h-1zM1095 16h1v1h-1zM1154 16h1v1h-1zM1156 16h1v1h-1zM1169 16h1v1h-1zM1181 16h1v1h-1zM227 17h1v1h-1zM399 17h1v1h-1zM592 17h1v1h-1zM777 17h1v1h-1zM1099 17h1v1h-1zM1135 17h1v1h-1zM26 18h1v1h-1zM46 18h1v1h-1zM94 18h1v1h-1zM134 18h1v1h-1zM153 18h1v1h-1zM625 18h1v1h-1zM636 18h1v1h-1zM657 18h1v1h-1zM694 18h1v1h-1zM756 18h1v1h-1zM808 18h1v1h-1zM814 18h1v1h-1zM817 18h1v1h-1zM820 18h1v1h-1zM823 18h1v1h-1zM825 18h1v1h-1zM872 18h1v1h-1zM929 18h1v1h-1zM951 18h1v1h-1zM1071 18h1v1h-1zM1133 18h1v1h-1zM1139 18h1v1h-1zM1153 18h1v1h-1zM30 19h1v1h-1zM103 19h1v1h-1zM178 19h1v1h-1zM561 19h1v1h-1zM566 19h1v1h-1zM675 19h1v1h-1zM714 19h1v1h-1zM779 19h1v1h-1zM828 19h1v1h-1zM836 19h1v1h-1zM845 19h1v1h-1zM848 19h1v1h-1zM937 19h1v1h-1zM963 19h1v1h-1zM1132 19h1v1h-1zM106 20h1v1h-1zM424 20h1v1h-1zM487 20h1v1h-1zM603 20h1v1h-1zM612 20h1v1h-1zM638 20h1v1h-1zM686 20h1v1h-1zM697 20h1v1h-1zM699 20h1v1h-1zM713 20h1v1h-1zM761 20h1v1h-1zM845 20h1v1h-1zM1138 20h1v1h-1zM1140 20h1v1h-1zM1151 20h1v1h-1zM1202 20h1v1h-1zM1208 20h1v1h-1zM181 21h1v1h-1zM195 21h1v1h-1zM205 21h1v1h-1zM298 21h1v1h-1zM355 21h1v1h-1zM402 21h1v1h-1zM439 21h1v1h-1zM460 21h1v1h-1zM474 21h1v1h-1zM492 21h1v1h-1zM610 21h1v1h-1zM671 21h1v1h-1zM678 21h1v1h-1zM894 21h1v1h-1zM907 21h1v1h-1zM948 21h1v1h-1zM1047 21h1v1h-1zM1201 21h1v1h-1zM46 22h1v1h-1zM70 22h1v1h-1zM157 22h1v1h-1zM193 22h1v1h-1zM544 22h1v1h-1zM566 22h1v1h-1zM643 22h1v1h-1zM676 22h1v1h-1zM695 22h1v1h-1zM793 22h1v1h-1zM954 22h1v1h-1zM963 22h1v1h-1zM973 22h1v1h-1zM1150 22h1v1h-1zM1155 22h1v1h-1zM1169 22h1v1h-1zM1176 22h1v1h-1zM42 23h1v1h-1zM185 23h1v1h-1zM543 23h1v1h-1zM639 23h1v1h-1zM815 23h2v1h-2zM823 23h1v1h-1zM963 23h1v1h-1zM1009 23h1v1h-1zM1056 23h1v1h-1zM1143 23h1v1h-1zM1146 23h2v1h-2zM1165 23h1v1h-1zM1173 23h1v1h-1zM41 24h1v1h-1zM173 24h1v1h-1zM263 24h1v1h-1zM350 24h1v1h-1zM372 24h1v1h-1zM534 24h1v1h-1zM566 24h1v1h-1zM605 24h1v1h-1zM759 24h1v1h-1zM777 24h1v1h-1zM807 24h1v1h-1zM839 24h1v1h-1zM985 24h1v1h-1zM994 24h1v1h-1zM1171 24h1v1h-1zM1173 24h1v1h-1zM1178 24h1v1h-1zM16 25h1v1h-1zM187 25h1v1h-1zM309 25h1v1h-1zM401 25h1v1h-1zM462 25h1v1h-1zM563 25h1v1h-1zM645 25h1v1h-1zM762 25h1v1h-1zM925 25h2v1h-2zM1018 25h1v1h-1zM1136 25h1v1h-1zM1173 25h1v1h-1zM1195 25h1v1h-1zM5 26h1v1h-1zM11 26h1v1h-1zM135 26h1v1h-1zM183 26h1v1h-1zM302 26h1v1h-1zM643 26h1v1h-1zM685 26h1v1h-1zM766 26h1v1h-1zM821 26h1v1h-1zM1058 26h1v1h-1zM1159 26h1v1h-1zM1170 26h1v1h-1zM1207 26h1v1h-1zM46 27h1v1h-1zM83 27h1v1h-1zM144 27h1v1h-1zM183 27h1v1h-1zM266 27h1v1h-1zM291 27h1v1h-1zM303 27h1v1h-1zM569 27h1v1h-1zM651 27h1v1h-1zM790 27h1v1h-1zM810 27h1v1h-1zM820 27h1v1h-1zM841 27h1v1h-1zM844 27h1v1h-1zM906 27h1v1h-1zM1034 27h1v1h-1zM1071 27h1v1h-1zM1124 27h1v1h-1zM1157 27h1v1h-1zM1193 27h1v1h-1zM1206 27h1v1h-1zM66 28h1v1h-1zM131 28h1v1h-1zM298 28h1v1h-1zM412 28h1v1h-1zM423 28h1v1h-1zM450 28h1v1h-1zM492 28h1v1h-1zM566 28h1v1h-1zM614 28h1v1h-1zM616 28h1v1h-1zM641 28h1v1h-1zM672 28h1v1h-1zM697 28h1v1h-1zM778 28h1v1h-1zM817 28h1v1h-1zM830 28h1v1h-1zM1143 28h1v1h-1zM1172 28h1v1h-1zM1175 28h1v1h-1zM1211 28h1v1h-1zM4 29h1v1h-1zM72 29h1v1h-1zM125 29h1v1h-1zM164 29h1v1h-1zM387 29h1v1h-1zM450 29h1v1h-1zM470 29h1v1h-1zM497 29h1v1h-1zM527 29h1v1h-1zM784 29h1v1h-1zM794 29h1v1h-1zM798 29h2v1h-2zM911 29h1v1h-1zM1133 29h1v1h-1zM1150 29h1v1h-1zM1163 29h1v1h-1zM32 30h1v1h-1zM36 30h1v1h-1zM436 30h1v1h-1zM780 30h1v1h-1zM829 30h1v1h-1zM939 30h1v1h-1zM1107 30h1v1h-1zM1136 30h1v1h-1zM1153 30h1v1h-1zM1201 30h1v1h-1zM1204 30h1v1h-1zM75 31h1v1h-1zM134 31h1v1h-1zM157 31h1v1h-1zM487 31h1v1h-1zM654 31h1v1h-1zM768 31h1v1h-1zM861 31h1v1h-1zM988 31h1v1h-1zM1037 31h1v1h-1zM1084 31h1v1h-1zM1138 31h1v1h-1zM1146 31h1v1h-1zM87 32h1v1h-1zM181 32h1v1h-1zM819 32h1v1h-1zM838 32h1v1h-1zM1160 32h1v1h-1zM1167 32h1v1h-1zM23 33h1v1h-1zM389 33h1v1h-1zM415 33h1v1h-1zM461 33h1v1h-1zM508 33h1v1h-1zM667 33h1v1h-1zM792 33h1v1h-1zM810 33h1v1h-1zM821 33h1v1h-1zM827 33h1v1h-1zM929 33h1v1h-1zM1077 33h1v1h-1zM1128 33h1v1h-1zM1150 33h1v1h-1zM26 34h1v1h-1zM105 34h1v1h-1zM266 34h1v1h-1zM412 34h1v1h-1zM432 34h1v1h-1zM454 34h1v1h-1zM475 34h1v1h-1zM542 34h1v1h-1zM715 34h1v1h-1zM781 34h1v1h-1zM794 34h1v1h-1zM802 34h1v1h-1zM808 34h1v1h-1zM819 34h1v1h-1zM840 34h1v1h-1zM915 34h1v1h-1zM977 34h1v1h-1zM1128 34h1v1h-1zM1133 34h1v1h-1zM1151 34h1v1h-1zM1189 34h1v1h-1zM7 35h1v1h-1zM225 35h1v1h-1zM294 35h1v1h-1zM447 35h1v1h-1zM497 35h1v1h-1zM550 35h1v1h-1zM662 35h1v1h-1zM797 35h1v1h-1zM823 35h1v1h-1zM830 35h1v1h-1zM832 35h1v1h-1zM950 35h1v1h-1zM1129 35h2v1h-2zM1135 35h1v1h-1zM1148 35h1v1h-1zM1165 35h1v1h-1zM10 36h1v1h-1zM75 36h1v1h-1zM236 36h1v1h-1zM430 36h1v1h-1zM449 36h1v1h-1zM535 36h1v1h-1zM559 36h1v1h-1zM607 36h1v1h-1zM613 36h1v1h-1zM667 36h1v1h-1zM781 36h1v1h-1zM806 36h1v1h-1zM844 36h1v1h-1zM877 36h1v1h-1zM906 36h1v1h-1zM1027 36h1v1h-1zM1052 36h1v1h-1zM1133 36h1v1h-1zM1142 36h1v1h-1zM1149 36h1v1h-1zM1154 36h1v1h-1zM1162 36h2v1h-2zM1170 36h1v1h-1zM302 37h1v1h-1zM394 37h1v1h-1zM417 37h1v1h-1zM458 37h1v1h-1zM570 37h1v1h-1zM703 37h1v1h-1zM713 37h1v1h-1zM742 37h1v1h-1zM782 37h1v1h-1zM793 37h1v1h-1zM795 37h1v1h-1zM802 37h1v1h-1zM945 37h1v1h-1zM968 37h1v1h-1zM1050 37h1v1h-1zM1140 37h1v1h-1zM25 38h1v1h-1zM228 38h1v1h-1zM380 38h1v1h-1zM437 38h1v1h-1zM511 38h1v1h-1zM558 38h1v1h-1zM564 38h1v1h-1zM614 38h1v1h-1zM681 38h1v1h-1zM780 38h1v1h-1zM797 38h1v1h-1zM802 38h1v1h-1zM804 38h1v1h-1zM1006 38h1v1h-1zM1032 38h1v1h-1zM1152 38h1v1h-1zM69 39h1v1h-1zM96 39h1v1h-1zM191 39h1v1h-1zM344 39h1v1h-1zM378 39h1v1h-1zM387 39h1v1h-1zM418 39h1v1h-1zM540 39h1v1h-1zM558 39h1v1h-1zM667 39h1v1h-1zM878 39h1v1h-1zM934 39h1v1h-1zM1039 39h1v1h-1zM1056 39h1v1h-1zM1129 39h1v1h-1zM1147 39h1v1h-1zM415 40h1v1h-1zM452 40h1v1h-1zM465 40h1v1h-1zM486 40h1v1h-1zM662 40h1v1h-1zM817 40h1v1h-1zM821 40h1v1h-1zM824 40h1v1h-1zM869 40h1v1h-1zM1037 40h1v1h-1zM1106 40h1v1h-1zM1130 40h1v1h-1zM1144 40h1v1h-1zM1161 40h1v1h-1zM1192 40h1v1h-1zM197 41h1v1h-1zM199 41h1v1h-1zM250 41h1v1h-1zM404 41h1v1h-1zM668 41h1v1h-1zM737 41h1v1h-1zM740 41h1v1h-1zM764 41h1v1h-1zM794 41h1v1h-1zM798 41h1v1h-1zM828 41h1v1h-1zM880 41h1v1h-1zM1058 41h1v1h-1zM1157 41h1v1h-1zM1175 41h1v1h-1zM122 42h1v1h-1zM160 42h1v1h-1zM255 42h1v1h-1zM257 42h1v1h-1zM366 42h1v1h-1zM410 42h1v1h-1zM537 42h1v1h-1zM680 42h1v1h-1zM776 42h1v1h-1zM778 42h1v1h-1zM787 42h1v1h-1zM828 42h1v1h-1zM1154 42h1v1h-1zM1174 42h1v1h-1zM126 43h1v1h-1zM157 43h1v1h-1zM168 43h1v1h-1zM187 43h1v1h-1zM193 43h1v1h-1zM324 43h1v1h-1zM327 43h1v1h-1zM413 43h1v1h-1zM477 43h1v1h-1zM497 43h1v1h-1zM548 43h1v1h-1zM574 43h1v1h-1zM673 43h1v1h-1zM691 43h1v1h-1zM699 43h1v1h-1zM794 43h1v1h-1zM854 43h1v1h-1zM910 43h1v1h-1zM1012 43h1v1h-1zM1017 43h1v1h-1zM1134 43h1v1h-1zM1145 43h2v1h-2zM1150 43h1v1h-1zM1175 43h1v1h-1zM646 44h1v1h-1zM766 44h1v1h-1zM786 44h1v1h-1zM790 44h1v1h-1zM794 44h1v1h-1zM805 44h1v1h-1zM857 44h1v1h-1zM881 44h1v1h-1zM891 44h1v1h-1zM1150 44h1v1h-1z"/>
<path fill="#ebd6d9" d="M446 0h1v1h-1zM485 0h1v1h-1zM557 0h1v1h-1zM657 0h1v1h-1zM814 0h1v1h-1zM823 0h1v1h-1zM311 1h1v1h-1zM556 1h1v1h-1zM677 1h1v1h-1zM680 1h1v1h-1zM747 1h1v1h-1zM1097 1h1v1h-1zM1113 1h1v1h-1zM1142 1h1v1h-1zM137 2h1v1h-1zM185 2h1v1h-1zM239 2h1v1h-1zM344 2h1v1h-1zM1019 2h1v1h-1zM1042 2h1v1h-1zM1114 2h1v1h-1zM433 3h1v1h-1zM605 3h1v1h-1zM782 3h1v1h-1zM794 3h1v1h-1zM797 3h1v1h-1zM821 3h1v1h-1zM876 3h1v1h-1zM1153 3h1v1h-1zM1161 3h1v1h-1zM196 4h1v1h-1zM209 4h1v1h-1zM464 4h1v1h-1zM696 4h1v1h-1zM1151 4h1v1h-1zM1162 4h1v1h-1zM258 5h1v1h-1zM342 5h1v1h-1zM357 5h1v1h-1zM501 5h1v1h-1zM552 5h1v1h-1zM556 5h1v1h-1zM562 5h1v1h-1zM573 5h1v1h-1zM672 5h1v1h-1zM674 5h1v1h-1zM1145 5h1v1h-1zM1154 5h1v1h-1zM1161 5h1v1h-1zM135 6h1v1h-1zM714 6h1v1h-1zM815 6h1v1h-1zM819 6h1v1h-1zM825 6h1v1h-1zM928 6h1v1h-1zM1081 6h1v1h-1zM1158 6h1v1h-1zM1165 6h1v1h-1zM1199 6h1v1h-1zM14 7h1v1h-1zM76 7h1v1h-1zM162 7h1v1h-1zM519 7h1v1h-1zM553 7h1v1h-1zM594 7h1v1h-1zM666 7h1v1h-1zM722 7h1v1h-1zM776 7h1v1h-1zM779 7h1v1h-1zM790 7h1v1h-1zM802 7h1v1h-1zM827 7h1v1h-1zM1052 7h1v1h-1zM1100 7h1v1h-1zM2 8h1v1h-1zM148 8h1v1h-1zM212 8h1v1h-1zM375 8h1v1h-1zM404 8h1v1h-1zM411 8h1v1h-1zM438 8h1v1h-1zM478 8h1v1h-1zM1158 8h1v1h-1zM1161 8h1v1h-1zM46 9h1v1h-1zM110 9h1v1h-1zM290 9h1v1h-1zM300 9h1v1h-1zM302 9h1v1h-1zM389 9h1v1h-1zM515 9h1v1h-1zM545 9h1v1h-1zM564 9h1v1h-1zM568 9h1v1h-1zM573 9h1v1h-1zM576 9h1v1h-1zM587 9h2v1h-2zM632 9h1v1h-1zM635 9h1v1h-1zM775 9h1v1h-1zM782 9h1v1h-1zM1003 9h1v1h-1zM1149 9h1v1h-1zM31 10h1v1h-1zM95 10h1v1h-1zM162 10h1v1h-1zM259 10h1v1h-1zM485 10h1v1h-1zM596 10h1v1h-1zM630 10h1v1h-1zM682 10h1v1h-1zM792 10h1v1h-1zM814 10h1v1h-1zM821 10h1v1h-1zM830 10h1v1h-1zM1025 10h1v1h-1zM1038 10h1v1h-1zM1132 10h1v1h-1zM1147 10h1v1h-1zM1151 10h1v1h-1zM1158 10h1v1h-1zM1178 10h1v1h-1zM15 11h1v1h-1zM169 11h1v1h-1zM483 11h1v1h-1zM540 11h1v1h-1zM589 11h1v1h-1zM782 11h1v1h-1zM799 11h1v1h-1zM933 11h1v1h-1zM986 11h1v1h-1zM1158 11h1v1h-1zM1202 11h1v1h-1zM1206 11h1v1h-1zM86 12h1v1h-1zM258 12h1v1h-1zM269 12h1v1h-1zM729 12h1v1h-1zM789 12h1v1h-1zM830 12h1v1h-1zM1087 12h1v1h-1zM1148 12h1v1h-1zM1152 12h1v1h-1zM1155 12h1v1h-1zM1177 12h1v1h-1zM1196 12h1v1h-1zM112 13h1v1h-1zM143 13h1v1h-1zM708 13h1v1h-1zM731 13h1v1h-1zM838 13h1v1h-1zM936 13h1v1h-1zM966 13h1v1h-1zM1022 13h1v1h-1zM1098 13h1v1h-1zM1137 13h1v1h-1zM1146 13h1v1h-1zM1196 13h1v1h-1zM91 14h1v1h-1zM104 14h1v1h-1zM215 14h1v1h-1zM294 14h1v1h-1zM394 14h1v1h-1zM658 14h1v1h-1zM700 14h1v1h-1zM785 14h1v1h-1zM817 14h1v1h-1zM1123 14h1v1h-1zM1146 14h1v1h-1zM1199 14h1v1h-1zM10 15h1v1h-1zM299 15h1v1h-1zM302 15h1v1h-1zM357 15h1v1h-1zM365 15h1v1h-1zM682 15h1v1h-1zM826 15h1v1h-1zM898 15h1v1h-1zM1017 15h1v1h-1zM112 16h1v1h-1zM191 16h1v1h-1zM235 16h1v1h-1zM544 16h1v1h-1zM812 16h1v1h-1zM820 16h1v1h-1zM863 16h1v1h-1zM934 16h1v1h-1zM998 16h1v1h-1zM1004 16h1v1h-1zM1055 16h1v1h-1zM1076 16h1v1h-1zM1170 16h1v1h-1zM44 17h1v1h-1zM112 17h1v1h-1zM253 17h1v1h-1zM430 17h1v1h-1zM578 17h1v1h-1zM692 17h1v1h-1zM732 17h1v1h-1zM812 17h1v1h-1zM829 17h1v1h-1zM946 17h1v1h-1zM969 17h1v1h-1zM1117 17h1v1h-1zM1161 17h1v1h-1zM176 18h1v1h-1zM396 18h1v1h-1zM603 18h1v1h-1zM659 18h1v1h-1zM669 18h1v1h-1zM734 18h1v1h-1zM839 18h1v1h-1zM911 18h1v1h-1zM926 18h1v1h-1zM1010 18h1v1h-1zM1035 18h1v1h-1zM142 19h1v1h-1zM267 19h1v1h-1zM305 19h1v1h-1zM508 19h1v1h-1zM582 19h1v1h-1zM711 19h1v1h-1zM746 19h1v1h-1zM805 19h1v1h-1zM924 19h1v1h-1zM1079 19h1v1h-1zM1149 19h1v1h-1zM182 20h1v1h-1zM299 20h1v1h-1zM348 20h1v1h-1zM500 20h1v1h-1zM523 20h1v1h-1zM533 20h1v1h-1zM543 20h1v1h-1zM570 20h1v1h-1zM609 20h1v1h-1zM706 20h1v1h-1zM785 20h1v1h-1zM809 20h1v1h-1zM811 20h1v1h-1zM962 20h1v1h-1zM992 20h1v1h-1zM1048 20h1v1h-1zM67 21h1v1h-1zM155 21h1v1h-1zM178 21h1v1h-1zM203 21h1v1h-1zM340 21h1v1h-1zM352 21h1v1h-1zM498 21h1v1h-1zM603 21h1v1h-1zM651 21h1v1h-1zM717 21h1v1h-1zM779 21h1v1h-1zM819 21h1v1h-1zM872 21h1v1h-1zM922 21h1v1h-1zM1024 21h1v1h-1zM1090 21h1v1h-1zM1143 21h2v1h-2zM1147 21h1v1h-1zM1166 21h1v1h-1zM1179 21h1v1h-1zM30 22h1v1h-1zM88 22h1v1h-1zM178 22h1v1h-1zM183 22h1v1h-1zM195 22h1v1h-1zM533 22h1v1h-1zM791 22h1v1h-1zM794 22h1v1h-1zM1142 22h1v1h-1zM1152 22h1v1h-1zM1179 22h1v1h-1zM1202 22h1v1h-1zM32 23h1v1h-1zM85 23h1v1h-1zM160 23h1v1h-1zM425 23h1v1h-1zM468 23h1v1h-1zM552 23h1v1h-1zM572 23h1v1h-1zM656 23h1v1h-1zM697 23h1v1h-1zM733 23h1v1h-1zM952 23h1v1h-1zM178 24h1v1h-1zM222 24h1v1h-1zM404 24h1v1h-1zM608 24h2v1h-2zM624 24h1v1h-1zM681 24h1v1h-1zM718 24h1v1h-1zM904 24h1v1h-1zM908 24h1v1h-1zM951 24h1v1h-1zM140 25h1v1h-1zM186 25h1v1h-1zM331 25h1v1h-1zM376 25h1v1h-1zM416 25h1v1h-1zM533 25h1v1h-1zM603 25h1v1h-1zM776 25h1v1h-1zM818 25h1v1h-1zM1161 25h1v1h-1zM7 26h1v1h-1zM45 26h1v1h-1zM146 26h1v1h-1zM227 26h1v1h-1zM239 26h1v1h-1zM388 26h1v1h-1zM433 26h1v1h-1zM462 26h1v1h-1zM694 26h1v1h-1zM776 26h1v1h-1zM790 26h1v1h-1zM826 26h1v1h-1zM834 26h1v1h-1zM916 26h1v1h-1zM924 26h1v1h-1zM997 26h1v1h-1zM1136 26h1v1h-1zM1147 26h1v1h-1zM318 27h1v1h-1zM346 27h1v1h-1zM685 27h1v1h-1zM885 27h1v1h-1zM997 27h1v1h-1zM1012 27h1v1h-1zM1204 27h1v1h-1zM1207 27h1v1h-1zM1210 27h1v1h-1zM21 28h1v1h-1zM79 28h1v1h-1zM100 28h1v1h-1zM167 28h1v1h-1zM181 28h1v1h-1zM198 28h1v1h-1zM206 28h1v1h-1zM277 28h1v1h-1zM295 28h1v1h-1zM308 28h1v1h-1zM315 28h1v1h-1zM543 28h1v1h-1zM568 28h1v1h-1zM575 28h1v1h-1zM676 28h1v1h-1zM818 28h1v1h-1zM877 28h1v1h-1zM1057 28h1v1h-1zM65 29h1v1h-1zM112 29h1v1h-1zM180 29h2v1h-2zM189 29h1v1h-1zM252 29h1v1h-1zM291 29h1v1h-1zM336 29h1v1h-1zM447 29h1v1h-1zM555 29h1v1h-1zM698 29h1v1h-1zM716 29h1v1h-1zM790 29h1v1h-1zM890 29h1v1h-1zM1003 29h1v1h-1zM1111 29h1v1h-1zM1155 29h1v1h-1zM1162 29h1v1h-1zM7 30h1v1h-1zM13 30h1v1h-1zM126 30h1v1h-1zM188 30h1v1h-1zM282 30h1v1h-1zM343 30h1v1h-1zM502 30h1v1h-1zM552 30h1v1h-1zM651 30h1v1h-1zM738 30h1v1h-1zM785 30h1v1h-1zM792 30h1v1h-1zM796 30h1v1h-1zM256 31h1v1h-1zM282 31h1v1h-1zM304 31h1v1h-1zM419 31h1v1h-1zM623 31h1v1h-1zM666 31h1v1h-1zM827 31h1v1h-1zM969 31h1v1h-1zM1069 31h1v1h-1zM1120 31h1v1h-1zM15 32h1v1h-1zM213 32h1v1h-1zM439 32h1v1h-1zM634 32h1v1h-1zM664 32h1v1h-1zM775 32h1v1h-1zM797 32h1v1h-1zM806 32h1v1h-1zM842 32h1v1h-1zM922 32h1v1h-1zM958 32h1v1h-1zM32 33h1v1h-1zM219 33h1v1h-1zM223 33h1v1h-1zM296 33h1v1h-1zM351 33h1v1h-1zM378 33h1v1h-1zM443 33h1v1h-1zM446 33h1v1h-1zM697 33h1v1h-1zM712 33h1v1h-1zM748 33h1v1h-1zM811 33h1v1h-1zM818 33h1v1h-1zM907 33h1v1h-1zM1069 33h1v1h-1zM1099 33h1v1h-1zM1131 33h1v1h-1zM1144 33h1v1h-1zM1146 33h1v1h-1zM1151 33h1v1h-1zM3 34h1v1h-1zM201 34h1v1h-1zM242 34h1v1h-1zM351 34h1v1h-1zM392 34h1v1h-1zM422 34h1v1h-1zM444 34h1v1h-1zM584 34h1v1h-1zM628 34h1v1h-1zM730 34h1v1h-1zM789 34h1v1h-1zM795 34h1v1h-1zM926 34h1v1h-1zM992 34h1v1h-1zM1081 34h1v1h-1zM1211 34h1v1h-1zM184 35h1v1h-1zM198 35h1v1h-1zM253 35h1v1h-1zM469 35h1v1h-1zM705 35h1v1h-1zM789 35h1v1h-1zM799 35h1v1h-1zM1070 35h1v1h-1zM1082 35h1v1h-1zM1158 35h1v1h-1zM71 36h1v1h-1zM166 36h1v1h-1zM184 36h1v1h-1zM327 36h1v1h-1zM363 36h1v1h-1zM369 36h1v1h-1zM492 36h1v1h-1zM534 36h1v1h-1zM680 36h1v1h-1zM799 36h1v1h-1zM834 36h1v1h-1zM1033 36h1v1h-1zM1054 36h1v1h-1zM1153 36h1v1h-1zM1210 36h1v1h-1zM68 37h1v1h-1zM120 37h1v1h-1zM220 37h1v1h-1zM508 37h1v1h-1zM539 37h2v1h-2zM682 37h1v1h-1zM778 37h1v1h-1zM798 37h1v1h-1zM854 37h1v1h-1zM928 37h1v1h-1zM1072 37h1v1h-1zM1093 37h1v1h-1zM1099 37h1v1h-1zM27 38h1v1h-1zM219 38h1v1h-1zM326 38h1v1h-1zM365 38h1v1h-1zM463 38h1v1h-1zM473 38h1v1h-1zM587 38h1v1h-1zM632 38h1v1h-1zM786 38h1v1h-1zM1096 38h1v1h-1zM1099 38h1v1h-1zM1151 38h1v1h-1zM1155 38h1v1h-1zM1161 38h1v1h-1zM1207 38h1v1h-1zM15 39h1v1h-1zM55 39h1v1h-1zM240 39h1v1h-1zM320 39h1v1h-1zM322 39h1v1h-1zM352 39h1v1h-1zM497 39h1v1h-1zM639 39h1v1h-1zM692 39h1v1h-1zM808 39h1v1h-1zM828 39h1v1h-1zM831 39h1v1h-1zM963 39h1v1h-1zM1161 39h1v1h-1zM1185 39h1v1h-1zM130 40h1v1h-1zM227 40h1v1h-1zM244 40h1v1h-1zM374 40h1v1h-1zM552 40h1v1h-1zM558 40h1v1h-1zM651 40h1v1h-1zM664 40h1v1h-1zM758 40h1v1h-1zM814 40h1v1h-1zM822 40h1v1h-1zM884 40h1v1h-1zM1086 40h1v1h-1zM1165 40h1v1h-1zM1190 40h1v1h-1zM1209 40h1v1h-1zM194 41h1v1h-1zM327 41h1v1h-1zM341 41h1v1h-1zM369 41h1v1h-1zM483 41h1v1h-1zM587 41h1v1h-1zM622 41h1v1h-1zM788 41h1v1h-1zM796 41h1v1h-1zM800 41h2v1h-2zM821 41h1v1h-1zM823 41h1v1h-1zM955 41h1v1h-1zM1162 41h1v1h-1zM40 42h1v1h-1zM53 42h1v1h-1zM164 42h1v1h-1zM428 42h1v1h-1zM440 42h1v1h-1zM803 42h1v1h-1zM814 42h1v1h-1zM905 42h1v1h-1zM1005 42h1v1h-1zM1079 42h1v1h-1zM1 43h1v1h-1zM3 43h1v1h-1zM25 43h1v1h-1zM503 43h1v1h-1zM553 43h1v1h-1zM656 43h1v1h-1zM683 43h1v1h-1zM800 43h1v1h-1zM828 43h1v1h-1zM917 43h1v1h-1zM930 43h1v1h-1zM1000 43h1v1h-1zM1066 43h1v1h-1zM1090 43h1v1h-1zM1142 43h1v1h-1zM1152 43h1v1h-1zM1157 43h1v1h-1zM1159 43h1v1h-1zM1162 43h1v1h-1zM11 44h1v1h-1zM55 44h1v1h-1zM312 44h1v1h-1zM383 44h1v1h-1zM545 44h1v1h-1zM573 44h1v1h-1zM607 44h1v1h-1zM741 44h1v1h-1zM784 44h1v1h-1zM792 44h1v1h-1zM798 44h1v1h-1zM876 44h1v1h-1zM1148 44h1v1h-1z"/>
<path fill="#ead3d6" d="M129 0h1v1h-1zM540 0h1v1h-1zM809 0h1v1h-1zM964 0h1v1h-1zM1023 0h1v1h-1zM1146 0h1v1h-1zM1151 0h1v1h-1zM55 1h1v1h-1zM496 1h1v1h-1zM504 1h1v1h-1zM822 1h1v1h-1zM828 1h3v1h-3zM1133 1h1v1h-1zM125 2h1v1h-1zM445 2h1v1h-1zM631 2h1v1h-1zM812 2h1v1h-1zM821 2h1v1h-1zM826 2h1v1h-1zM948 2h1v1h-1zM981 2h1v1h-1zM151 3h1v1h-1zM789 3h1v1h-1zM1149 3h1v1h-1zM1155 3h1v1h-1zM284 4h1v1h-1zM465 4h1v1h-1zM711 4h1v1h-1zM858 4h1v1h-1zM1108 4h1v1h-1zM1142 4h1v1h-1zM1148 4h1v1h-1zM1150 4h1v1h-1zM1160 4h2v1h-2zM104 5h1v1h-1zM301 5h1v1h-1zM451 5h1v1h-1zM553 5h1v1h-1zM581 5h1v1h-1zM584 5h1v1h-1zM725 5h1v1h-1zM929 5h1v1h-1zM1152 5h1v1h-1zM8 6h1v1h-1zM417 6h1v1h-1zM549 6h1v1h-1zM620 6h1v1h-1zM827 6h1v1h-1zM923 6h2v1h-2zM974 6h1v1h-1zM1145 6h1v1h-1zM298 7h1v1h-1zM529 7h1v1h-1zM703 7h1v1h-1zM730 7h1v1h-1zM774 7h1v1h-1zM795 7h1v1h-1zM806 7h1v1h-1zM1004 7h1v1h-1zM1146 7h1v1h-1zM53 8h1v1h-1zM290 8h1v1h-1zM565 8h1v1h-1zM605 8h1v1h-1zM728 8h1v1h-1zM319 9h1v1h-1zM488 9h1v1h-1zM551 9h1v1h-1zM559 9h1v1h-1zM570 9h1v1h-1zM577 9h1v1h-1zM631 9h1v1h-1zM634 9h1v1h-1zM1061 9h1v1h-1zM248 10h1v1h-1zM313 10h1v1h-1zM656 10h1v1h-1zM827 10h1v1h-1zM200 11h1v1h-1zM418 11h1v1h-1zM553 11h1v1h-1zM575 11h1v1h-1zM630 11h1v1h-1zM717 11h1v1h-1zM830 11h1v1h-1zM904 11h1v1h-1zM1020 11h1v1h-1zM1160 11h1v1h-1zM115 12h1v1h-1zM288 12h1v1h-1zM661 12h1v1h-1zM808 12h1v1h-1zM821 12h1v1h-1zM825 12h1v1h-1zM850 12h1v1h-1zM1160 12h1v1h-1zM273 13h1v1h-1zM280 13h1v1h-1zM410 13h1v1h-1zM432 13h1v1h-1zM709 13h1v1h-1zM791 13h1v1h-1zM794 13h1v1h-1zM813 13h1v1h-1zM822 13h1v1h-1zM972 13h1v1h-1zM1023 13h1v1h-1zM99 14h1v1h-1zM182 14h1v1h-1zM415 14h1v1h-1zM554 14h1v1h-1zM671 14h1v1h-1zM709 14h1v1h-1zM801 14h1v1h-1zM824 14h1v1h-1zM1048 14h1v1h-1zM1174 14h1v1h-1zM180 15h1v1h-1zM292 15h1v1h-1zM406 15h1v1h-1zM420 15h1v1h-1zM625 15h1v1h-1zM795 15h1v1h-1zM813 15h1v1h-1zM983 15h1v1h-1zM1038 15h1v1h-1zM1168 15h1v1h-1zM243 16h1v1h-1zM274 16h1v1h-1zM373 16h1v1h-1zM389 16h1v1h-1zM443 16h1v1h-1zM458 16h1v1h-1zM551 16h1v1h-1zM622 16h1v1h-1zM686 16h1v1h-1zM808 16h1v1h-1zM815 16h2v1h-2zM822 16h1v1h-1zM907 16h1v1h-1zM1057 16h1v1h-1zM1072 16h1v1h-1zM184 17h1v1h-1zM257 17h1v1h-1zM424 17h1v1h-1zM800 17h1v1h-1zM984 17h1v1h-1zM1146 17h1v1h-1zM1173 17h1v1h-1zM211 18h1v1h-1zM259 18h1v1h-1zM434 18h1v1h-1zM459 18h1v1h-1zM927 18h1v1h-1zM177 19h1v1h-1zM362 19h1v1h-1zM373 19h1v1h-1zM387 19h2v1h-2zM464 19h1v1h-1zM573 19h1v1h-1zM611 19h1v1h-1zM623 19h1v1h-1zM780 19h1v1h-1zM796 19h1v1h-1zM825 19h1v1h-1zM902 19h1v1h-1zM988 19h1v1h-1zM1057 19h1v1h-1zM1195 19h1v1h-1zM85 20h1v1h-1zM131 20h1v1h-1zM147 20h1v1h-1zM154 20h1v1h-1zM544 20h1v1h-1zM626 20h1v1h-1zM634 20h1v1h-1zM688 20h1v1h-1zM1105 20h1v1h-1zM1162 20h1v1h-1zM120 21h1v1h-1zM179 21h1v1h-1zM709 21h1v1h-1zM818 21h1v1h-1zM1025 21h1v1h-1zM1059 21h1v1h-1zM1102 21h1v1h-1zM1151 21h1v1h-1zM1159 21h1v1h-1zM36 22h1v1h-1zM191 22h1v1h-1zM314 22h1v1h-1zM513 22h1v1h-1zM573 22h1v1h-1zM741 22h1v1h-1zM1144 22h1v1h-1zM1156 22h1v1h-1zM1162 22h1v1h-1zM157 23h1v1h-1zM398 23h1v1h-1zM537 23h1v1h-1zM540 23h1v1h-1zM684 23h1v1h-1zM812 23h1v1h-1zM907 23h1v1h-1zM914 23h1v1h-1zM1142 23h1v1h-1zM1148 23h1v1h-1zM1151 23h2v1h-2zM1157 23h1v1h-1zM1201 23h1v1h-1zM393 24h1v1h-1zM439 24h1v1h-1zM619 24h1v1h-1zM659 24h1v1h-1zM818 24h1v1h-1zM905 24h1v1h-1zM977 24h1v1h-1zM1014 24h1v1h-1zM1065 24h1v1h-1zM353 25h1v1h-1zM734 25h1v1h-1zM996 25h1v1h-1zM1144 25h1v1h-1zM181 26h1v1h-1zM210 26h1v1h-1zM327 26h1v1h-1zM422 26h1v1h-1zM817 26h1v1h-1zM822 26h2v1h-2zM940 26h1v1h-1zM1154 26h1v1h-1zM2 27h1v1h-1zM39 27h1v1h-1zM137 27h1v1h-1zM156 27h1v1h-1zM178 27h1v1h-1zM257 27h1v1h-1zM545 27h1v1h-1zM562 27h1v1h-1zM568 27h1v1h-1zM574 27h1v1h-1zM712 27h1v1h-1zM807 27h1v1h-1zM814 27h1v1h-1zM828 27h1v1h-1zM1004 27h1v1h-1zM1081 27h1v1h-1zM371 28h1v1h-1zM416 28h1v1h-1zM440 28h1v1h-1zM453 28h1v1h-1zM565 28h1v1h-1zM567 28h1v1h-1zM576 28h1v1h-1zM668 28h1v1h-1zM738 28h1v1h-1zM775 28h1v1h-1zM813 28h1v1h-1zM1201 28h1v1h-1zM319 29h1v1h-1zM531 29h1v1h-1zM617 29h1v1h-1zM642 29h1v1h-1zM689 29h1v1h-1zM694 29h1v1h-1zM702 29h1v1h-1zM788 29h1v1h-1zM825 29h1v1h-1zM858 29h1v1h-1zM978 29h1v1h-1zM1089 29h1v1h-1zM16 30h1v1h-1zM181 30h1v1h-1zM255 30h1v1h-1zM321 30h1v1h-1zM446 30h1v1h-1zM459 30h1v1h-1zM467 30h1v1h-1zM520 30h1v1h-1zM544 30h1v1h-1zM554 30h1v1h-1zM830 30h1v1h-1zM984 30h1v1h-1zM597 31h1v1h-1zM761 31h1v1h-1zM1152 31h1v1h-1zM1207 31h1v1h-1zM180 32h1v1h-1zM189 32h1v1h-1zM200 32h1v1h-1zM451 32h1v1h-1zM729 32h1v1h-1zM830 32h1v1h-1zM928 32h1v1h-1zM999 32h1v1h-1zM303 33h1v1h-1zM410 33h1v1h-1zM420 33h1v1h-1zM453 33h1v1h-1zM699 33h1v1h-1zM797 33h1v1h-1zM808 33h1v1h-1zM813 33h1v1h-1zM824 33h1v1h-1zM826 33h1v1h-1zM937 33h1v1h-1zM965 33h1v1h-1zM1024 33h1v1h-1zM1100 33h1v1h-1zM1142 33h1v1h-1zM1153 33h1v1h-1zM1156 33h2v1h-2zM1160 33h2v1h-2zM187 34h1v1h-1zM238 34h1v1h-1zM348 34h1v1h-1zM411 34h1v1h-1zM471 34h1v1h-1zM624 34h1v1h-1zM731 34h1v1h-1zM770 34h1v1h-1zM773 34h1v1h-1zM791 34h1v1h-1zM1015 34h1v1h-1zM1072 34h1v1h-1zM1107 34h1v1h-1zM186 35h1v1h-1zM311 35h1v1h-1zM313 35h1v1h-1zM366 35h1v1h-1zM561 35h1v1h-1zM659 35h1v1h-1zM796 35h1v1h-1zM810 35h1v1h-1zM993 35h1v1h-1zM1075 35h1v1h-1zM1143 35h1v1h-1zM1145 35h1v1h-1zM1153 35h1v1h-1zM1155 35h1v1h-1zM490 36h1v1h-1zM782 36h1v1h-1zM793 36h1v1h-1zM814 36h1v1h-1zM854 36h1v1h-1zM910 36h1v1h-1zM1080 36h1v1h-1zM1146 36h1v1h-1zM138 37h1v1h-1zM585 37h1v1h-1zM652 37h1v1h-1zM781 37h1v1h-1zM910 37h1v1h-1zM1030 37h1v1h-1zM1200 37h1v1h-1zM147 38h1v1h-1zM276 38h1v1h-1zM334 38h1v1h-1zM513 38h1v1h-1zM536 38h1v1h-1zM668 38h1v1h-1zM709 38h1v1h-1zM712 38h1v1h-1zM733 38h1v1h-1zM1000 38h1v1h-1zM1145 38h1v1h-1zM420 39h1v1h-1zM549 39h1v1h-1zM678 39h2v1h-2zM699 39h1v1h-1zM772 39h1v1h-1zM851 39h1v1h-1zM854 39h1v1h-1zM864 39h1v1h-1zM911 39h1v1h-1zM970 39h1v1h-1zM1055 39h1v1h-1zM1113 39h1v1h-1zM1135 39h1v1h-1zM369 40h1v1h-1zM414 40h1v1h-1zM572 40h1v1h-1zM611 40h1v1h-1zM789 40h1v1h-1zM808 40h1v1h-1zM811 40h1v1h-1zM815 40h1v1h-1zM818 40h1v1h-1zM823 40h1v1h-1zM979 40h1v1h-1zM1027 40h1v1h-1zM1169 40h1v1h-1zM45 41h1v1h-1zM193 41h1v1h-1zM405 41h1v1h-1zM578 41h1v1h-1zM665 41h1v1h-1zM743 41h1v1h-1zM778 41h1v1h-1zM784 41h2v1h-2zM804 41h1v1h-1zM815 41h1v1h-1zM826 41h1v1h-1zM1142 41h1v1h-1zM1151 41h1v1h-1zM189 42h1v1h-1zM286 42h1v1h-1zM314 42h1v1h-1zM424 42h1v1h-1zM456 42h1v1h-1zM564 42h1v1h-1zM682 42h1v1h-1zM876 42h1v1h-1zM1001 42h1v1h-1zM1100 42h1v1h-1zM72 43h1v1h-1zM446 43h1v1h-1zM661 43h1v1h-1zM703 43h1v1h-1zM813 43h1v1h-1zM901 43h1v1h-1zM1005 43h1v1h-1zM1007 43h1v1h-1zM1155 43h1v1h-1zM86 44h1v1h-1zM257 44h1v1h-1zM291 44h1v1h-1zM420 44h2v1h-2zM536 44h1v1h-1zM548 44h1v1h-1zM615 44h1v1h-1zM803 44h1v1h-1zM822 44h1v1h-1zM1132 44h1v1h-1zM1152 44h1v1h-1z"/>
<path fill="#eacfd3" d="M68 0h1v1h-1zM220 0h1v1h-1zM810 0h1v1h-1zM820 0h1v1h-1zM833 0h1v1h-1zM1143 0h2v1h-2zM1153 0h1v1h-1zM1160 0h1v1h-1zM295 1h3v1h-3zM303 1h1v1h-1zM809 1h1v1h-1zM1150 1h1v1h-1zM126 2h1v1h-1zM373 2h1v1h-1zM614 2h1v1h-1zM822 2h1v1h-1zM959 2h1v1h-1zM1128 2h1v1h-1zM58 3h1v1h-1zM556 3h1v1h-1zM571 3h1v1h-1zM776 3h1v1h-1zM783 3h1v1h-1zM826 3h1v1h-1zM1146 3h1v1h-1zM1150 3h1v1h-1zM229 4h1v1h-1zM1158 4h1v1h-1zM516 5h1v1h-1zM557 5h1v1h-1zM567 5h1v1h-1zM570 5h1v1h-1zM576 5h2v1h-2zM589 5h1v1h-1zM979 5h1v1h-1zM1125 5h1v1h-1zM355 6h1v1h-1zM814 6h1v1h-1zM821 6h1v1h-1zM965 6h1v1h-1zM970 6h1v1h-1zM986 6h1v1h-1zM1143 6h2v1h-2zM1147 6h1v1h-1zM7 7h1v1h-1zM50 7h1v1h-1zM181 7h1v1h-1zM293 7h1v1h-1zM297 7h1v1h-1zM303 7h1v1h-1zM784 7h1v1h-1zM786 7h1v1h-1zM994 7h1v1h-1zM1015 7h1v1h-1zM1070 7h1v1h-1zM1149 7h1v1h-1zM1145 8h1v1h-1zM1150 8h1v1h-1zM1156 8h1v1h-1zM25 9h1v1h-1zM226 9h1v1h-1zM263 9h1v1h-1zM294 9h1v1h-1zM298 9h2v1h-2zM304 9h1v1h-1zM502 9h1v1h-1zM567 9h1v1h-1zM584 9h1v1h-1zM590 9h1v1h-1zM300 10h1v1h-1zM314 10h1v1h-1zM320 10h1v1h-1zM327 10h1v1h-1zM547 10h1v1h-1zM811 10h1v1h-1zM823 10h2v1h-2zM826 10h1v1h-1zM986 10h1v1h-1zM1143 10h1v1h-1zM1152 10h1v1h-1zM1198 10h1v1h-1zM137 11h1v1h-1zM296 11h2v1h-2zM317 11h1v1h-1zM688 11h1v1h-1zM815 11h1v1h-1zM1141 11h1v1h-1zM1152 11h1v1h-1zM1200 11h1v1h-1zM672 12h1v1h-1zM993 12h1v1h-1zM1070 12h1v1h-1zM1153 12h1v1h-1zM1157 12h1v1h-1zM120 13h1v1h-1zM318 13h1v1h-1zM663 13h1v1h-1zM407 14h1v1h-1zM621 14h1v1h-1zM776 14h1v1h-1zM792 14h1v1h-1zM808 14h1v1h-1zM1153 14h1v1h-1zM1175 14h1v1h-1zM294 15h1v1h-1zM303 15h1v1h-1zM775 15h1v1h-1zM809 15h1v1h-1zM922 15h1v1h-1zM182 16h1v1h-1zM184 16h1v1h-1zM314 16h1v1h-1zM333 16h1v1h-1zM442 16h1v1h-1zM446 16h1v1h-1zM819 16h1v1h-1zM1015 16h1v1h-1zM198 17h1v1h-1zM528 17h1v1h-1zM671 17h1v1h-1zM710 17h1v1h-1zM771 17h1v1h-1zM822 17h1v1h-1zM1157 17h1v1h-1zM185 18h1v1h-1zM196 18h1v1h-1zM429 18h1v1h-1zM705 18h1v1h-1zM725 18h1v1h-1zM816 18h1v1h-1zM923 18h1v1h-1zM934 18h1v1h-1zM158 19h1v1h-1zM451 19h1v1h-1zM558 19h1v1h-1zM777 19h1v1h-1zM1204 19h1v1h-1zM136 20h1v1h-1zM450 20h1v1h-1zM564 20h1v1h-1zM627 20h1v1h-1zM695 20h2v1h-2zM815 20h2v1h-2zM820 20h1v1h-1zM977 20h1v1h-1zM1128 20h1v1h-1zM1197 20h1v1h-1zM1210 20h1v1h-1zM72 21h1v1h-1zM388 21h1v1h-1zM539 21h1v1h-1zM563 21h1v1h-1zM698 21h1v1h-1zM712 21h1v1h-1zM965 21h1v1h-1zM1156 21h1v1h-1zM35 22h1v1h-1zM546 22h1v1h-1zM1129 22h1v1h-1zM1159 22h2v1h-2zM156 23h1v1h-1zM530 23h1v1h-1zM1159 23h1v1h-1zM28 24h1v1h-1zM273 24h1v1h-1zM446 24h1v1h-1zM461 24h1v1h-1zM557 24h1v1h-1zM575 24h1v1h-1zM817 24h1v1h-1zM833 24h1v1h-1zM878 24h1v1h-1zM1048 24h1v1h-1zM1162 24h1v1h-1zM275 25h1v1h-1zM501 25h1v1h-1zM817 25h1v1h-1zM827 25h1v1h-1zM1010 25h1v1h-1zM1150 25h1v1h-1zM508 26h1v1h-1zM537 26h1v1h-1zM806 26h1v1h-1zM902 26h1v1h-1zM928 26h1v1h-1zM964 26h1v1h-1zM1156 26h1v1h-1zM462 27h1v1h-1zM571 27h1v1h-1zM611 27h1v1h-1zM660 27h1v1h-1zM714 27h1v1h-1zM813 27h1v1h-1zM1192 27h1v1h-1zM1196 27h1v1h-1zM1211 27h1v1h-1zM307 28h1v1h-1zM310 28h1v1h-1zM451 28h1v1h-1zM564 28h1v1h-1zM574 28h1v1h-1zM678 28h1v1h-1zM707 28h1v1h-1zM236 29h1v1h-1zM331 29h1v1h-1zM472 29h1v1h-1zM984 29h1v1h-1zM20 30h1v1h-1zM182 30h1v1h-1zM448 30h1v1h-1zM460 30h1v1h-1zM564 30h1v1h-1zM675 30h1v1h-1zM778 30h1v1h-1zM806 30h1v1h-1zM809 30h1v1h-1zM914 30h1v1h-1zM1156 30h1v1h-1zM24 31h1v1h-1zM244 31h1v1h-1zM413 31h1v1h-1zM635 31h1v1h-1zM939 31h1v1h-1zM1148 31h1v1h-1zM1159 31h1v1h-1zM1192 31h1v1h-1zM304 32h1v1h-1zM752 32h1v1h-1zM784 32h1v1h-1zM809 32h1v1h-1zM851 32h1v1h-1zM915 32h1v1h-1zM13 33h1v1h-1zM146 33h1v1h-1zM423 33h1v1h-1zM554 33h1v1h-1zM654 33h1v1h-1zM809 33h1v1h-1zM814 33h1v1h-1zM829 33h1v1h-1zM145 34h1v1h-1zM179 34h1v1h-1zM184 34h1v1h-1zM413 34h1v1h-1zM549 34h1v1h-1zM776 34h1v1h-1zM801 34h1v1h-1zM807 34h1v1h-1zM823 34h2v1h-2zM828 34h1v1h-1zM923 34h1v1h-1zM1088 34h1v1h-1zM556 35h1v1h-1zM668 35h1v1h-1zM697 35h1v1h-1zM824 35h1v1h-1zM1144 35h1v1h-1zM464 36h1v1h-1zM666 36h1v1h-1zM724 36h1v1h-1zM919 36h1v1h-1zM1147 36h1v1h-1zM1152 36h1v1h-1zM467 37h1v1h-1zM804 37h1v1h-1zM819 37h1v1h-1zM829 37h2v1h-2zM932 37h1v1h-1zM1198 37h1v1h-1zM197 38h1v1h-1zM466 38h1v1h-1zM617 38h1v1h-1zM913 38h1v1h-1zM1071 38h1v1h-1zM1159 38h1v1h-1zM79 39h1v1h-1zM185 39h1v1h-1zM279 39h1v1h-1zM310 39h1v1h-1zM411 39h1v1h-1zM494 39h1v1h-1zM817 39h1v1h-1zM1108 39h1v1h-1zM243 40h1v1h-1zM547 40h1v1h-1zM575 40h1v1h-1zM695 40h1v1h-1zM919 40h1v1h-1zM974 40h1v1h-1zM1167 40h1v1h-1zM1191 40h1v1h-1zM201 41h1v1h-1zM351 41h1v1h-1zM793 41h1v1h-1zM54 42h1v1h-1zM335 42h1v1h-1zM416 42h1v1h-1zM533 42h1v1h-1zM557 42h1v1h-1zM615 42h1v1h-1zM665 42h1v1h-1zM826 42h1v1h-1zM1018 42h1v1h-1zM1144 42h2v1h-2zM1148 42h1v1h-1zM388 43h1v1h-1zM404 43h1v1h-1zM529 43h1v1h-1zM91 44h1v1h-1zM389 44h1v1h-1zM409 44h1v1h-1zM454 44h1v1h-1zM459 44h1v1h-1zM715 44h1v1h-1zM917 44h1v1h-1zM1093 44h1v1h-1z"/>
<path fill="#eaccd0" d="M17 0h1v1h-1zM288 0h1v1h-1zM413 0h1v1h-1zM572 0h1v1h-1zM827 0h1v1h-1zM919 0h1v1h-1zM1142 0h1v1h-1zM40 1h1v1h-1zM189 1h1v1h-1zM351 1h1v1h-1zM397 1h1v1h-1zM71 2h1v1h-1zM775 2h1v1h-1zM810 2h1v1h-1zM824 2h2v1h-2zM1109 2h1v1h-1zM198 3h1v1h-1zM363 3h1v1h-1zM365 3h1v1h-1zM552 3h2v1h-2zM780 3h1v1h-1zM802 3h1v1h-1zM815 3h1v1h-1zM1147 3h1v1h-1zM1162 3h1v1h-1zM56 4h1v1h-1zM721 4h1v1h-1zM762 4h2v1h-2zM788 4h1v1h-1zM555 5h1v1h-1zM821 5h1v1h-1zM1148 5h1v1h-1zM1156 5h1v1h-1zM921 6h1v1h-1zM971 6h2v1h-2zM39 7h1v1h-1zM158 7h1v1h-1zM486 7h1v1h-1zM700 7h1v1h-1zM800 7h1v1h-1zM826 7h1v1h-1zM305 8h1v1h-1zM1140 8h1v1h-1zM1160 8h1v1h-1zM295 9h1v1h-1zM560 9h1v1h-1zM579 9h1v1h-1zM586 9h1v1h-1zM591 9h1v1h-1zM740 9h1v1h-1zM914 9h1v1h-1zM124 10h1v1h-1zM304 10h1v1h-1zM324 10h1v1h-1zM457 10h1v1h-1zM464 10h1v1h-1zM560 10h1v1h-1zM593 10h1v1h-1zM679 10h1v1h-1zM187 11h1v1h-1zM420 11h1v1h-1zM543 11h1v1h-1zM566 11h1v1h-1zM573 11h1v1h-1zM659 11h1v1h-1zM764 11h1v1h-1zM795 11h1v1h-1zM809 11h1v1h-1zM820 11h1v1h-1zM1005 11h1v1h-1zM1144 11h1v1h-1zM1148 11h1v1h-1zM60 12h1v1h-1zM540 12h1v1h-1zM602 12h1v1h-1zM643 12h1v1h-1zM888 12h1v1h-1zM939 12h1v1h-1zM179 13h1v1h-1zM429 13h1v1h-1zM454 13h1v1h-1zM458 13h1v1h-1zM518 13h1v1h-1zM552 13h1v1h-1zM777 13h1v1h-1zM820 13h1v1h-1zM1182 13h1v1h-1zM1209 13h1v1h-1zM37 14h1v1h-1zM178 14h1v1h-1zM202 14h1v1h-1zM368 14h1v1h-1zM541 14h1v1h-1zM638 14h1v1h-1zM814 14h1v1h-1zM1096 14h1v1h-1zM131 15h1v1h-1zM186 15h1v1h-1zM301 15h1v1h-1zM792 15h1v1h-1zM806 15h1v1h-1zM810 15h1v1h-1zM882 15h1v1h-1zM912 15h1v1h-1zM154 16h1v1h-1zM440 16h1v1h-1zM809 16h1v1h-1zM993 16h1v1h-1zM50 17h1v1h-1zM291 17h1v1h-1zM376 17h1v1h-1zM572 17h1v1h-1zM820 17h1v1h-1zM828 17h1v1h-1zM928 17h1v1h-1zM959 17h1v1h-1zM962 17h1v1h-1zM411 18h1v1h-1zM812 18h1v1h-1zM819 18h1v1h-1zM831 18h1v1h-1zM933 18h1v1h-1zM1211 18h1v1h-1zM549 19h1v1h-1zM555 19h1v1h-1zM557 19h1v1h-1zM564 19h1v1h-1zM781 19h1v1h-1zM820 19h1v1h-1zM973 19h1v1h-1zM989 19h1v1h-1zM1144 19h1v1h-1zM196 20h1v1h-1zM516 20h1v1h-1zM532 20h1v1h-1zM562 20h1v1h-1zM693 20h1v1h-1zM698 20h1v1h-1zM814 20h1v1h-1zM823 20h1v1h-1zM1204 20h1v1h-1zM196 21h1v1h-1zM810 21h1v1h-1zM830 21h1v1h-1zM1145 21h1v1h-1zM181 22h1v1h-1zM184 22h1v1h-1zM572 22h1v1h-1zM622 24h1v1h-1zM829 24h2v1h-2zM1122 24h1v1h-1zM1204 24h1v1h-1zM411 25h1v1h-1zM420 25h1v1h-1zM693 25h1v1h-1zM943 25h1v1h-1zM1147 25h1v1h-1zM1157 25h1v1h-1zM684 26h1v1h-1zM829 26h1v1h-1zM837 26h1v1h-1zM1037 26h1v1h-1zM1145 26h1v1h-1zM1153 26h1v1h-1zM1157 26h1v1h-1zM181 27h1v1h-1zM572 27h2v1h-2zM795 27h1v1h-1zM823 27h1v1h-1zM1153 27h1v1h-1zM1197 27h1v1h-1zM1203 27h1v1h-1zM1205 27h1v1h-1zM316 28h1v1h-1zM572 28h1v1h-1zM725 28h1v1h-1zM827 28h1v1h-1zM705 29h1v1h-1zM818 29h1v1h-1zM1054 29h1v1h-1zM1210 29h1v1h-1zM30 30h1v1h-1zM582 30h1v1h-1zM787 30h1v1h-1zM822 30h1v1h-1zM1147 30h1v1h-1zM179 31h1v1h-1zM192 31h1v1h-1zM789 31h1v1h-1zM814 31h1v1h-1zM828 31h1v1h-1zM1023 31h1v1h-1zM1137 31h1v1h-1zM1142 31h1v1h-1zM1161 31h1v1h-1zM1211 31h1v1h-1zM188 32h1v1h-1zM670 32h1v1h-1zM695 32h1v1h-1zM785 32h2v1h-2zM805 32h1v1h-1zM812 32h1v1h-1zM861 32h1v1h-1zM932 32h1v1h-1zM1211 32h1v1h-1zM333 33h1v1h-1zM459 33h1v1h-1zM812 33h1v1h-1zM816 33h1v1h-1zM181 34h1v1h-1zM185 34h1v1h-1zM190 34h1v1h-1zM254 34h1v1h-1zM456 34h1v1h-1zM777 34h1v1h-1zM809 34h1v1h-1zM825 34h1v1h-1zM918 34h1v1h-1zM395 35h1v1h-1zM724 35h1v1h-1zM822 35h1v1h-1zM1175 35h1v1h-1zM1196 35h1v1h-1zM121 36h1v1h-1zM458 36h1v1h-1zM531 36h1v1h-1zM794 36h1v1h-1zM850 36h1v1h-1zM1144 36h1v1h-1zM1157 36h1v1h-1zM445 37h1v1h-1zM789 37h1v1h-1zM797 37h1v1h-1zM813 37h1v1h-1zM1151 37h1v1h-1zM767 38h1v1h-1zM833 38h1v1h-1zM181 39h1v1h-1zM532 39h1v1h-1zM539 39h1v1h-1zM612 39h1v1h-1zM643 39h1v1h-1zM680 39h1v1h-1zM822 39h1v1h-1zM1134 39h1v1h-1zM1149 39h1v1h-1zM1162 39h1v1h-1zM446 40h1v1h-1zM702 40h1v1h-1zM957 40h1v1h-1zM1196 40h1v1h-1zM550 41h1v1h-1zM787 41h1v1h-1zM808 41h2v1h-2zM825 41h1v1h-1zM830 41h1v1h-1zM931 41h1v1h-1zM1150 41h1v1h-1zM692 42h1v1h-1zM797 42h1v1h-1zM810 42h1v1h-1zM813 42h1v1h-1zM746 43h1v1h-1zM824 43h1v1h-1zM872 43h1v1h-1zM1172 43h1v1h-1zM424 44h1v1h-1zM448 44h1v1h-1zM540 44h1v1h-1zM716 44h1v1h-1zM887 44h1v1h-1zM992 44h1v1h-1zM1033 44h1v1h-1zM1201 44h1v1h-1z"/>
<path fill="#eac8cc" d="M788 0h1v1h-1zM399 1h1v1h-1zM423 1h1v1h-1zM425 1h1v1h-1zM806 1h1v1h-1zM808 1h1v1h-1zM1161 1h1v1h-1zM774 2h1v1h-1zM820 2h1v1h-1zM563 3h1v1h-1zM622 3h1v1h-1zM774 3h1v1h-1zM808 3h1v1h-1zM1156 3h1v1h-1zM124 4h1v1h-1zM332 4h1v1h-1zM938 4h1v1h-1zM1045 4h1v1h-1zM297 5h1v1h-1zM472 5h1v1h-1zM591 5h1v1h-1zM825 5h1v1h-1zM829 5h1v1h-1zM1147 5h1v1h-1zM809 6h1v1h-1zM813 6h1v1h-1zM920 6h1v1h-1zM290 7h1v1h-1zM375 7h1v1h-1zM688 7h1v1h-1zM782 7h1v1h-1zM848 7h1v1h-1zM1144 7h1v1h-1zM1159 7h1v1h-1zM108 8h1v1h-1zM216 8h1v1h-1zM723 8h1v1h-1zM1148 8h1v1h-1zM468 9h1v1h-1zM561 9h1v1h-1zM563 9h1v1h-1zM565 9h1v1h-1zM602 9h1v1h-1zM830 9h1v1h-1zM181 10h1v1h-1zM365 10h1v1h-1zM681 10h1v1h-1zM774 10h1v1h-1zM820 10h1v1h-1zM690 11h1v1h-1zM710 11h1v1h-1zM817 11h1v1h-1zM1143 11h1v1h-1zM198 12h1v1h-1zM455 12h1v1h-1zM679 12h1v1h-1zM813 12h1v1h-1zM822 12h1v1h-1zM827 12h1v1h-1zM1149 12h2v1h-2zM1201 12h1v1h-1zM531 13h1v1h-1zM698 13h1v1h-1zM786 13h1v1h-1zM824 13h1v1h-1zM937 13h1v1h-1zM130 14h1v1h-1zM460 14h1v1h-1zM531 14h1v1h-1zM828 14h1v1h-1zM1024 14h1v1h-1zM1063 14h1v1h-1zM1143 14h1v1h-1zM1160 14h1v1h-1zM1178 14h1v1h-1zM63 15h1v1h-1zM177 15h1v1h-1zM480 15h1v1h-1zM567 15h2v1h-2zM570 15h1v1h-1zM695 15h1v1h-1zM812 15h1v1h-1zM1154 15h1v1h-1zM48 16h1v1h-1zM291 16h1v1h-1zM441 16h1v1h-1zM667 16h1v1h-1zM697 16h1v1h-1zM1084 16h1v1h-1zM178 17h1v1h-1zM418 17h1v1h-1zM485 17h1v1h-1zM719 17h1v1h-1zM918 17h1v1h-1zM1154 17h1v1h-1zM73 18h1v1h-1zM109 18h1v1h-1zM181 18h1v1h-1zM191 18h1v1h-1zM291 18h1v1h-1zM530 18h1v1h-1zM571 18h1v1h-1zM916 18h1v1h-1zM925 18h1v1h-1zM930 18h1v1h-1zM1008 18h1v1h-1zM46 19h1v1h-1zM83 19h1v1h-1zM93 19h1v1h-1zM126 19h1v1h-1zM559 19h1v1h-1zM569 19h2v1h-2zM680 19h1v1h-1zM782 19h1v1h-1zM806 19h1v1h-1zM1101 19h1v1h-1zM1150 19h1v1h-1zM1152 19h1v1h-1zM153 20h1v1h-1zM159 20h1v1h-1zM184 20h1v1h-1zM295 20h1v1h-1zM453 20h1v1h-1zM455 20h1v1h-1zM531 20h1v1h-1zM553 20h1v1h-1zM556 20h1v1h-1zM827 20h1v1h-1zM829 20h1v1h-1zM1136 20h1v1h-1zM1200 20h1v1h-1zM1205 20h2v1h-2zM187 21h1v1h-1zM412 21h1v1h-1zM420 21h1v1h-1zM537 21h1v1h-1zM674 21h1v1h-1zM723 21h1v1h-1zM814 21h1v1h-1zM822 21h2v1h-2zM1150 21h1v1h-1zM1162 21h1v1h-1zM1165 21h1v1h-1zM29 22h1v1h-1zM33 22h1v1h-1zM41 22h1v1h-1zM422 22h1v1h-1zM718 22h1v1h-1zM829 22h1v1h-1zM1017 22h1v1h-1zM482 23h1v1h-1zM602 23h1v1h-1zM665 23h1v1h-1zM910 23h1v1h-1zM1202 23h1v1h-1zM1211 23h1v1h-1zM116 24h1v1h-1zM448 24h1v1h-1zM513 24h1v1h-1zM535 24h1v1h-1zM550 24h1v1h-1zM822 24h1v1h-1zM1201 24h1v1h-1zM551 25h1v1h-1zM810 25h1v1h-1zM1153 25h1v1h-1zM1159 25h1v1h-1zM448 26h1v1h-1zM827 26h1v1h-1zM929 26h1v1h-1zM1045 26h1v1h-1zM1151 26h1v1h-1zM1205 26h1v1h-1zM422 27h1v1h-1zM431 27h1v1h-1zM679 27h1v1h-1zM827 27h1v1h-1zM1160 27h1v1h-1zM447 28h1v1h-1zM459 28h1v1h-1zM615 28h1v1h-1zM1030 28h1v1h-1zM1200 28h1v1h-1zM67 29h1v1h-1zM184 29h1v1h-1zM455 29h1v1h-1zM485 29h1v1h-1zM540 29h1v1h-1zM574 29h1v1h-1zM691 29h1v1h-1zM700 29h1v1h-1zM1159 29h1v1h-1zM12 30h1v1h-1zM463 30h1v1h-1zM781 30h1v1h-1zM817 30h1v1h-1zM176 31h1v1h-1zM252 31h1v1h-1zM289 31h1v1h-1zM474 31h1v1h-1zM747 31h1v1h-1zM806 31h1v1h-1zM1015 31h1v1h-1zM1144 31h1v1h-1zM779 32h1v1h-1zM829 32h1v1h-1zM185 33h1v1h-1zM387 33h1v1h-1zM458 33h1v1h-1zM540 33h1v1h-1zM547 33h1v1h-1zM675 33h1v1h-1zM802 33h1v1h-1zM1015 33h1v1h-1zM167 34h1v1h-1zM182 34h1v1h-1zM234 34h1v1h-1zM293 34h1v1h-1zM435 34h1v1h-1zM796 34h1v1h-1zM810 34h1v1h-1zM827 34h1v1h-1zM829 34h2v1h-2zM1121 34h1v1h-1zM1137 34h1v1h-1zM566 35h1v1h-1zM698 35h1v1h-1zM864 35h1v1h-1zM1147 35h1v1h-1zM394 36h1v1h-1zM711 36h1v1h-1zM808 36h1v1h-1zM819 36h1v1h-1zM827 36h1v1h-1zM976 36h1v1h-1zM1158 36h1v1h-1zM1160 36h1v1h-1zM1202 36h1v1h-1zM185 37h1v1h-1zM274 37h1v1h-1zM403 37h1v1h-1zM459 37h1v1h-1zM510 37h1v1h-1zM667 37h1v1h-1zM815 37h1v1h-1zM1049 37h1v1h-1zM1142 37h1v1h-1zM1148 37h1v1h-1zM1162 37h1v1h-1zM417 38h1v1h-1zM580 38h1v1h-1zM592 38h1v1h-1zM1086 39h1v1h-1zM1152 39h1v1h-1zM542 40h1v1h-1zM950 40h1v1h-1zM975 40h1v1h-1zM1201 40h1v1h-1zM1203 40h1v1h-1zM191 41h1v1h-1zM202 41h1v1h-1zM420 41h1v1h-1zM571 41h1v1h-1zM700 41h1v1h-1zM810 41h1v1h-1zM926 41h1v1h-1zM1158 41h2v1h-2zM1185 41h1v1h-1zM90 42h1v1h-1zM472 42h1v1h-1zM706 42h1v1h-1zM1156 42h1v1h-1zM1160 42h1v1h-1zM1208 42h1v1h-1zM9 43h1v1h-1zM412 43h1v1h-1zM506 43h1v1h-1zM810 43h1v1h-1zM814 43h1v1h-1zM830 43h1v1h-1zM177 44h1v1h-1zM702 44h1v1h-1zM808 44h1v1h-1zM921 44h1v1h-1z"/>
<path fill="#eac4c9" d="M306 0h1v1h-1zM501 0h1v1h-1zM806 0h1v1h-1zM830 0h1v1h-1zM1152 0h1v1h-1zM90 1h1v1h-1zM290 1h3v1h-3zM369 1h1v1h-1zM401 1h1v1h-1zM429 1h1v1h-1zM565 1h1v1h-1zM826 1h1v1h-1zM1172 1h1v1h-1zM807 2h1v1h-1zM814 2h1v1h-1zM905 2h1v1h-1zM970 2h1v1h-1zM352 3h1v1h-1zM555 3h1v1h-1zM561 3h1v1h-1zM570 3h1v1h-1zM1145 3h1v1h-1zM1148 3h1v1h-1zM1192 3h1v1h-1zM1183 4h1v1h-1zM290 5h1v1h-1zM292 5h1v1h-1zM563 5h1v1h-1zM565 5h2v1h-2zM578 5h2v1h-2zM827 5h1v1h-1zM989 5h1v1h-1zM407 6h1v1h-1zM613 6h1v1h-1zM749 6h1v1h-1zM789 6h1v1h-1zM810 6h1v1h-1zM906 6h1v1h-1zM1162 6h1v1h-1zM143 7h1v1h-1zM292 7h1v1h-1zM296 7h1v1h-1zM326 7h1v1h-1zM687 7h1v1h-1zM1150 7h1v1h-1zM1157 8h1v1h-1zM1162 8h1v1h-1zM206 9h1v1h-1zM292 9h1v1h-1zM519 9h1v1h-1zM825 9h1v1h-1zM80 10h1v1h-1zM87 10h1v1h-1zM306 10h1v1h-1zM523 10h1v1h-1zM657 10h1v1h-1zM660 10h1v1h-1zM666 10h1v1h-1zM685 10h1v1h-1zM817 10h1v1h-1zM852 10h1v1h-1zM153 11h1v1h-1zM421 11h1v1h-1zM656 11h1v1h-1zM1108 11h1v1h-1zM1150 11h1v1h-1zM178 12h1v1h-1zM462 12h1v1h-1zM497 12h1v1h-1zM572 12h1v1h-1zM718 12h1v1h-1zM723 12h1v1h-1zM837 12h1v1h-1zM915 12h1v1h-1zM1024 12h1v1h-1zM1145 12h1v1h-1zM196 13h1v1h-1zM447 13h1v1h-1zM459 13h1v1h-1zM705 13h1v1h-1zM784 13h1v1h-1zM793 13h1v1h-1zM809 13h1v1h-1zM841 13h1v1h-1zM114 14h1v1h-1zM304 14h1v1h-1zM398 14h1v1h-1zM422 14h1v1h-1zM464 14h1v1h-1zM911 14h1v1h-1zM1151 14h1v1h-1zM1155 14h2v1h-2zM1167 14h1v1h-1zM561 15h1v1h-1zM819 15h1v1h-1zM827 15h1v1h-1zM920 15h1v1h-1zM179 16h1v1h-1zM322 16h1v1h-1zM475 16h1v1h-1zM682 16h1v1h-1zM703 16h1v1h-1zM1096 16h1v1h-1zM297 17h1v1h-1zM462 17h1v1h-1zM813 17h1v1h-1zM944 17h1v1h-1zM1053 17h1v1h-1zM707 18h1v1h-1zM918 18h1v1h-1zM928 18h1v1h-1zM939 18h1v1h-1zM945 18h1v1h-1zM146 19h1v1h-1zM187 19h1v1h-1zM297 19h1v1h-1zM708 19h1v1h-1zM798 19h1v1h-1zM826 19h1v1h-1zM829 19h2v1h-2zM1142 19h1v1h-1zM1145 19h1v1h-1zM149 20h1v1h-1zM168 20h1v1h-1zM400 20h1v1h-1zM547 20h1v1h-1zM550 20h3v1h-3zM796 20h1v1h-1zM819 20h1v1h-1zM821 20h1v1h-1zM825 20h1v1h-1zM937 20h1v1h-1zM964 20h1v1h-1zM1039 20h1v1h-1zM1203 20h1v1h-1zM408 21h1v1h-1zM416 21h1v1h-1zM569 21h1v1h-1zM807 21h1v1h-1zM1010 21h1v1h-1zM463 22h1v1h-1zM666 22h1v1h-1zM710 22h1v1h-1zM958 22h1v1h-1zM1203 22h1v1h-1zM106 23h1v1h-1zM227 23h1v1h-1zM363 23h1v1h-1zM414 23h1v1h-1zM535 23h1v1h-1zM1124 23h1v1h-1zM1137 23h1v1h-1zM184 24h1v1h-1zM819 24h1v1h-1zM827 24h1v1h-1zM932 24h1v1h-1zM1146 24h1v1h-1zM1155 24h1v1h-1zM1161 24h1v1h-1zM1191 24h1v1h-1zM180 25h1v1h-1zM301 25h1v1h-1zM467 25h1v1h-1zM557 25h1v1h-1zM677 25h1v1h-1zM825 25h1v1h-1zM337 26h1v1h-1zM686 26h1v1h-1zM808 26h1v1h-1zM810 26h1v1h-1zM934 26h1v1h-1zM537 27h1v1h-1zM570 27h1v1h-1zM796 27h1v1h-1zM809 27h1v1h-1zM812 27h1v1h-1zM934 27h1v1h-1zM983 27h1v1h-1zM1140 27h1v1h-1zM1201 27h1v1h-1zM1208 27h1v1h-1zM553 28h1v1h-1zM562 28h1v1h-1zM1118 28h1v1h-1zM1157 28h1v1h-1zM1203 28h1v1h-1zM198 29h1v1h-1zM371 29h1v1h-1zM671 29h1v1h-1zM693 29h1v1h-1zM695 29h1v1h-1zM1152 29h1v1h-1zM403 30h1v1h-1zM457 30h1v1h-1zM804 30h1v1h-1zM920 30h1v1h-1zM931 30h1v1h-1zM1145 30h1v1h-1zM1150 30h1v1h-1zM661 31h1v1h-1zM824 31h1v1h-1zM903 31h1v1h-1zM1065 31h1v1h-1zM1156 31h1v1h-1zM91 32h1v1h-1zM263 32h1v1h-1zM396 32h1v1h-1zM683 32h1v1h-1zM792 32h1v1h-1zM822 32h1v1h-1zM825 32h1v1h-1zM914 32h1v1h-1zM1186 32h1v1h-1zM407 33h1v1h-1zM578 33h1v1h-1zM658 33h1v1h-1zM817 33h1v1h-1zM180 34h1v1h-1zM421 34h1v1h-1zM424 34h1v1h-1zM426 34h1v1h-1zM428 34h1v1h-1zM434 34h1v1h-1zM709 34h1v1h-1zM1086 34h1v1h-1zM1190 34h1v1h-1zM82 35h1v1h-1zM446 35h1v1h-1zM467 35h1v1h-1zM786 35h1v1h-1zM818 35h1v1h-1zM825 35h1v1h-1zM1154 35h1v1h-1zM1211 35h1v1h-1zM292 36h1v1h-1zM362 36h1v1h-1zM421 36h1v1h-1zM785 36h1v1h-1zM788 36h1v1h-1zM825 36h1v1h-1zM1006 36h1v1h-1zM1145 36h1v1h-1zM1148 36h1v1h-1zM418 37h1v1h-1zM474 37h1v1h-1zM554 37h1v1h-1zM562 37h1v1h-1zM717 37h1v1h-1zM332 38h1v1h-1zM418 38h1v1h-1zM658 38h1v1h-1zM735 38h1v1h-1zM1131 38h1v1h-1zM26 39h1v1h-1zM114 39h1v1h-1zM182 39h2v1h-2zM194 39h1v1h-1zM409 39h1v1h-1zM463 39h1v1h-1zM566 39h1v1h-1zM806 39h1v1h-1zM818 39h1v1h-1zM924 39h1v1h-1zM1150 39h1v1h-1zM1182 39h1v1h-1zM421 40h1v1h-1zM553 40h1v1h-1zM706 40h1v1h-1zM712 40h1v1h-1zM735 40h1v1h-1zM816 40h1v1h-1zM968 40h1v1h-1zM1142 40h1v1h-1zM1199 40h1v1h-1zM94 41h1v1h-1zM453 41h1v1h-1zM807 41h1v1h-1zM811 41h1v1h-1zM817 41h1v1h-1zM822 41h1v1h-1zM929 41h1v1h-1zM1154 41h1v1h-1zM1211 41h1v1h-1zM355 42h1v1h-1zM412 42h1v1h-1zM1198 42h1v1h-1zM203 43h1v1h-1zM265 43h1v1h-1zM295 43h1v1h-1zM361 43h1v1h-1zM575 43h1v1h-1zM678 43h1v1h-1zM701 43h1v1h-1zM823 43h1v1h-1zM342 44h1v1h-1zM453 44h1v1h-1zM531 44h1v1h-1zM683 44h1v1h-1zM761 44h1v1h-1zM828 44h1v1h-1zM1066 44h1v1h-1z"/>
<path fill="#eac0c6" d="M60 0h1v1h-1zM110 0h1v1h-1zM808 0h1v1h-1zM824 0h1v1h-1zM107 1h1v1h-1zM293 1h1v1h-1zM299 1h1v1h-1zM384 1h1v1h-1zM589 1h1v1h-1zM714 1h1v1h-1zM821 1h1v1h-1zM823 1h1v1h-1zM843 1h1v1h-1zM931 1h1v1h-1zM658 2h1v1h-1zM735 2h1v1h-1zM310 3h1v1h-1zM469 3h1v1h-1zM558 3h1v1h-1zM583 3h1v1h-1zM89 4h1v1h-1zM437 4h1v1h-1zM151 5h1v1h-1zM243 5h1v1h-1zM554 5h1v1h-1zM560 5h1v1h-1zM564 5h1v1h-1zM569 5h1v1h-1zM583 5h1v1h-1zM640 5h1v1h-1zM669 5h1v1h-1zM733 5h1v1h-1zM803 5h1v1h-1zM816 5h1v1h-1zM969 5h1v1h-1zM1150 5h1v1h-1zM363 6h1v1h-1zM408 6h1v1h-1zM424 6h1v1h-1zM715 6h1v1h-1zM1154 6h1v1h-1zM222 7h1v1h-1zM738 7h1v1h-1zM1153 7h2v1h-2zM500 9h1v1h-1zM237 10h1v1h-1zM455 10h1v1h-1zM675 10h2v1h-2zM816 10h1v1h-1zM959 10h1v1h-1zM999 10h1v1h-1zM544 11h1v1h-1zM549 11h1v1h-1zM808 11h1v1h-1zM810 11h1v1h-1zM1145 11h1v1h-1zM1151 11h1v1h-1zM187 12h1v1h-1zM411 12h1v1h-1zM570 12h1v1h-1zM689 12h1v1h-1zM784 12h1v1h-1zM83 13h1v1h-1zM382 13h1v1h-1zM451 13h1v1h-1zM566 13h1v1h-1zM664 13h1v1h-1zM677 13h1v1h-1zM703 13h1v1h-1zM795 13h1v1h-1zM825 13h1v1h-1zM129 14h1v1h-1zM229 14h1v1h-1zM235 14h1v1h-1zM248 14h1v1h-1zM570 14h1v1h-1zM606 14h1v1h-1zM809 14h1v1h-1zM124 15h1v1h-1zM555 15h1v1h-1zM558 15h1v1h-1zM647 15h1v1h-1zM1146 15h1v1h-1zM1158 15h1v1h-1zM185 16h2v1h-2zM449 16h1v1h-1zM463 16h1v1h-1zM473 16h1v1h-1zM1112 16h1v1h-1zM289 17h1v1h-1zM354 17h1v1h-1zM481 17h1v1h-1zM670 17h1v1h-1zM873 17h1v1h-1zM936 17h1v1h-1zM1098 17h1v1h-1zM74 18h1v1h-1zM409 18h1v1h-1zM750 18h1v1h-1zM924 18h1v1h-1zM932 18h1v1h-1zM935 18h1v1h-1zM998 18h1v1h-1zM1024 18h1v1h-1zM1197 18h1v1h-1zM340 19h1v1h-1zM366 19h1v1h-1zM556 19h1v1h-1zM563 19h1v1h-1zM568 19h1v1h-1zM821 19h1v1h-1zM827 19h1v1h-1zM1211 19h1v1h-1zM687 20h1v1h-1zM817 20h1v1h-1zM826 20h1v1h-1zM1065 20h1v1h-1zM1195 20h1v1h-1zM1207 20h1v1h-1zM1211 20h1v1h-1zM385 21h1v1h-1zM511 21h1v1h-1zM680 21h1v1h-1zM824 21h1v1h-1zM826 21h1v1h-1zM34 22h1v1h-1zM40 22h1v1h-1zM403 22h1v1h-1zM578 22h1v1h-1zM648 22h1v1h-1zM1016 22h1v1h-1zM27 23h1v1h-1zM90 23h1v1h-1zM293 23h1v1h-1zM419 23h1v1h-1zM528 23h1v1h-1zM533 23h1v1h-1zM541 23h1v1h-1zM545 23h1v1h-1zM423 24h1v1h-1zM470 24h1v1h-1zM708 24h1v1h-1zM745 24h1v1h-1zM996 24h1v1h-1zM1082 24h1v1h-1zM885 25h1v1h-1zM888 25h1v1h-1zM177 26h1v1h-1zM193 26h1v1h-1zM510 26h1v1h-1zM688 26h1v1h-1zM702 26h1v1h-1zM795 26h1v1h-1zM814 26h1v1h-1zM921 26h1v1h-1zM923 26h1v1h-1zM1089 26h1v1h-1zM1158 26h1v1h-1zM1208 26h1v1h-1zM453 27h1v1h-1zM546 27h1v1h-1zM566 27h2v1h-2zM576 27h1v1h-1zM763 27h1v1h-1zM822 27h1v1h-1zM824 27h1v1h-1zM826 27h1v1h-1zM1145 27h1v1h-1zM1194 27h2v1h-2zM1200 27h1v1h-1zM192 28h1v1h-1zM304 28h1v1h-1zM309 28h1v1h-1zM356 28h1v1h-1zM445 28h1v1h-1zM448 28h1v1h-1zM457 28h2v1h-2zM462 28h1v1h-1zM563 28h1v1h-1zM569 28h2v1h-2zM816 28h1v1h-1zM851 28h1v1h-1zM976 28h1v1h-1zM562 29h1v1h-1zM690 29h1v1h-1zM701 29h1v1h-1zM706 29h1v1h-1zM770 29h1v1h-1zM823 29h1v1h-1zM874 29h1v1h-1zM1197 29h1v1h-1zM1207 29h1v1h-1zM461 30h1v1h-1zM536 30h1v1h-1zM813 30h1v1h-1zM1040 30h1v1h-1zM1146 30h1v1h-1zM420 31h1v1h-1zM574 31h1v1h-1zM895 31h1v1h-1zM925 31h1v1h-1zM933 31h1v1h-1zM1145 31h1v1h-1zM205 32h1v1h-1zM424 32h1v1h-1zM487 32h1v1h-1zM787 32h1v1h-1zM815 32h1v1h-1zM817 32h1v1h-1zM94 33h1v1h-1zM239 33h1v1h-1zM418 33h1v1h-1zM563 33h1v1h-1zM650 33h1v1h-1zM687 33h1v1h-1zM815 33h1v1h-1zM918 33h1v1h-1zM425 34h1v1h-1zM811 34h1v1h-1zM818 34h1v1h-1zM1209 34h1v1h-1zM291 35h1v1h-1zM348 35h1v1h-1zM490 35h1v1h-1zM551 35h1v1h-1zM712 35h1v1h-1zM775 35h1v1h-1zM805 35h1v1h-1zM811 35h1v1h-1zM829 35h1v1h-1zM964 35h1v1h-1zM1152 35h1v1h-1zM1160 35h1v1h-1zM186 36h1v1h-1zM304 36h1v1h-1zM415 36h1v1h-1zM508 36h1v1h-1zM1124 36h1v1h-1zM212 37h1v1h-1zM810 37h1v1h-1zM1143 37h1v1h-1zM1145 37h1v1h-1zM1155 37h1v1h-1zM1161 37h1v1h-1zM69 38h1v1h-1zM223 38h1v1h-1zM725 38h1v1h-1zM965 38h1v1h-1zM35 39h1v1h-1zM273 39h1v1h-1zM819 39h2v1h-2zM824 39h1v1h-1zM1154 39h1v1h-1zM1158 39h1v1h-1zM67 40h1v1h-1zM877 40h1v1h-1zM910 40h1v1h-1zM1194 40h1v1h-1zM1198 40h1v1h-1zM196 41h1v1h-1zM302 41h1v1h-1zM395 41h1v1h-1zM813 41h1v1h-1zM824 41h1v1h-1zM7 42h1v1h-1zM549 42h1v1h-1zM554 42h1v1h-1zM807 42h1v1h-1zM1150 42h1v1h-1zM1162 42h1v1h-1zM455 43h1v1h-1zM1024 43h1v1h-1zM450 44h1v1h-1zM919 44h1v1h-1zM1157 44h1v1h-1zM1192 44h1v1h-1z"/>
<path fill="#e9bdc3" d="M97 0h1v1h-1zM409 0h1v1h-1zM825 0h1v1h-1zM974 0h1v1h-1zM976 0h1v1h-1zM1043 0h1v1h-1zM192 1h1v1h-1zM246 1h1v1h-1zM302 1h1v1h-1zM333 1h1v1h-1zM813 1h2v1h-2zM841 1h1v1h-1zM871 1h1v1h-1zM1152 1h1v1h-1zM781 2h1v1h-1zM827 2h3v1h-3zM864 2h1v1h-1zM892 2h1v1h-1zM903 2h1v1h-1zM256 3h1v1h-1zM511 3h1v1h-1zM620 3h1v1h-1zM928 3h1v1h-1zM1079 3h1v1h-1zM30 4h1v1h-1zM346 4h1v1h-1zM12 5h1v1h-1zM300 5h1v1h-1zM340 5h1v1h-1zM559 5h1v1h-1zM571 5h1v1h-1zM574 5h1v1h-1zM585 5h3v1h-3zM590 5h1v1h-1zM14 6h1v1h-1zM126 6h1v1h-1zM186 6h1v1h-1zM812 6h1v1h-1zM820 6h1v1h-1zM826 6h1v1h-1zM1142 6h1v1h-1zM1159 6h1v1h-1zM1145 7h1v1h-1zM27 8h1v1h-1zM136 8h1v1h-1zM138 8h1v1h-1zM616 8h1v1h-1zM857 8h1v1h-1zM922 8h1v1h-1zM520 9h1v1h-1zM526 9h1v1h-1zM864 9h1v1h-1zM961 9h1v1h-1zM1169 9h1v1h-1zM308 10h1v1h-1zM317 10h1v1h-1zM424 10h1v1h-1zM446 10h1v1h-1zM482 10h1v1h-1zM659 10h1v1h-1zM674 10h1v1h-1zM684 10h1v1h-1zM807 10h1v1h-1zM181 11h2v1h-2zM189 11h1v1h-1zM198 11h1v1h-1zM375 11h1v1h-1zM459 11h1v1h-1zM1142 11h1v1h-1zM1155 11h1v1h-1zM90 12h1v1h-1zM298 12h1v1h-1zM388 12h1v1h-1zM818 12h1v1h-1zM42 13h1v1h-1zM183 13h1v1h-1zM548 13h1v1h-1zM792 13h1v1h-1zM797 13h1v1h-1zM799 13h2v1h-2zM804 13h1v1h-1zM818 13h1v1h-1zM823 13h1v1h-1zM1165 13h1v1h-1zM174 14h1v1h-1zM263 14h1v1h-1zM455 14h1v1h-1zM551 14h1v1h-1zM632 14h1v1h-1zM826 14h1v1h-1zM884 14h1v1h-1zM1192 14h1v1h-1zM95 15h1v1h-1zM559 15h1v1h-1zM677 15h1v1h-1zM180 16h1v1h-1zM288 16h1v1h-1zM431 16h1v1h-1zM695 16h1v1h-1zM814 16h1v1h-1zM55 17h1v1h-1zM179 17h1v1h-1zM242 17h1v1h-1zM549 17h1v1h-1zM697 17h1v1h-1zM749 17h1v1h-1zM762 17h1v1h-1zM821 17h1v1h-1zM1085 17h1v1h-1zM239 18h1v1h-1zM420 18h1v1h-1zM572 18h1v1h-1zM910 18h1v1h-1zM973 18h1v1h-1zM123 19h1v1h-1zM619 19h1v1h-1zM1210 19h1v1h-1zM247 20h1v1h-1zM461 20h1v1h-1zM503 20h1v1h-1zM567 20h2v1h-2zM738 20h1v1h-1zM765 20h1v1h-1zM813 20h1v1h-1zM1056 20h1v1h-1zM407 21h1v1h-1zM458 21h1v1h-1zM817 21h1v1h-1zM1154 21h1v1h-1zM199 22h1v1h-1zM459 22h1v1h-1zM292 23h1v1h-1zM466 23h1v1h-1zM538 23h1v1h-1zM542 23h1v1h-1zM793 23h1v1h-1zM905 23h1v1h-1zM919 23h1v1h-1zM956 23h1v1h-1zM1204 23h1v1h-1zM295 24h1v1h-1zM299 24h1v1h-1zM594 24h1v1h-1zM821 24h1v1h-1zM182 25h1v1h-1zM254 25h1v1h-1zM327 25h1v1h-1zM656 25h1v1h-1zM1201 25h1v1h-1zM6 26h1v1h-1zM562 26h1v1h-1zM627 26h1v1h-1zM701 26h1v1h-1zM820 26h1v1h-1zM1015 26h1v1h-1zM457 27h2v1h-2zM508 27h1v1h-1zM975 27h1v1h-1zM1143 27h1v1h-1zM1150 27h2v1h-2zM1162 27h1v1h-1zM1202 27h1v1h-1zM306 28h1v1h-1zM317 28h1v1h-1zM346 28h1v1h-1zM446 28h1v1h-1zM456 28h1v1h-1zM711 28h1v1h-1zM736 28h1v1h-1zM846 28h1v1h-1zM6 29h1v1h-1zM796 29h1v1h-1zM969 29h1v1h-1zM1153 29h1v1h-1zM293 30h1v1h-1zM452 30h1v1h-1zM560 30h1v1h-1zM1142 30h1v1h-1zM1158 30h1v1h-1zM163 31h1v1h-1zM810 31h1v1h-1zM830 31h1v1h-1zM1143 31h1v1h-1zM1160 31h1v1h-1zM434 32h1v1h-1zM777 32h1v1h-1zM821 32h1v1h-1zM414 33h1v1h-1zM419 33h1v1h-1zM747 33h1v1h-1zM409 34h2v1h-2zM420 34h1v1h-1zM460 34h1v1h-1zM571 34h1v1h-1zM597 34h1v1h-1zM792 34h1v1h-1zM820 34h1v1h-1zM912 34h1v1h-1zM934 34h1v1h-1zM496 35h1v1h-1zM605 35h1v1h-1zM785 35h1v1h-1zM790 35h1v1h-1zM821 35h1v1h-1zM911 35h1v1h-1zM947 35h1v1h-1zM1161 35h1v1h-1zM314 36h1v1h-1zM411 36h1v1h-1zM798 36h1v1h-1zM820 36h1v1h-1zM926 36h1v1h-1zM184 37h1v1h-1zM202 37h1v1h-1zM814 37h1v1h-1zM824 37h1v1h-1zM827 37h1v1h-1zM1064 37h1v1h-1zM305 39h1v1h-1zM755 39h1v1h-1zM807 39h1v1h-1zM816 39h1v1h-1zM1094 39h1v1h-1zM1142 39h1v1h-1zM1145 39h1v1h-1zM1148 39h1v1h-1zM107 40h1v1h-1zM213 40h1v1h-1zM366 40h1v1h-1zM978 40h1v1h-1zM1119 40h1v1h-1zM335 41h1v1h-1zM731 41h1v1h-1zM816 41h1v1h-1zM873 41h1v1h-1zM1193 41h1v1h-1zM119 42h1v1h-1zM568 42h1v1h-1zM969 42h1v1h-1zM1192 42h1v1h-1zM644 43h1v1h-1zM723 43h1v1h-1zM808 43h1v1h-1zM818 43h1v1h-1zM826 43h1v1h-1zM229 44h1v1h-1zM410 44h1v1h-1zM789 44h1v1h-1zM791 44h1v1h-1zM883 44h1v1h-1zM990 44h1v1h-1z"/>
<path fill="#e9b9c0" d="M386 0h1v1h-1zM472 0h1v1h-1zM672 0h1v1h-1zM807 0h1v1h-1zM812 0h1v1h-1zM1150 0h1v1h-1zM50 1h1v1h-1zM134 1h1v1h-1zM155 1h1v1h-1zM938 1h1v1h-1zM975 1h1v1h-1zM1156 1h1v1h-1zM200 2h1v1h-1zM791 2h1v1h-1zM549 3h1v1h-1zM565 3h1v1h-1zM510 4h1v1h-1zM615 4h1v1h-1zM568 5h1v1h-1zM794 5h1v1h-1zM1149 5h1v1h-1zM1151 5h1v1h-1zM1153 5h1v1h-1zM1157 5h1v1h-1zM107 6h1v1h-1zM238 6h1v1h-1zM1148 6h1v1h-1zM132 7h1v1h-1zM693 7h1v1h-1zM1156 7h1v1h-1zM1161 7h2v1h-2zM127 9h1v1h-1zM339 9h1v1h-1zM93 10h1v1h-1zM150 10h1v1h-1zM311 10h1v1h-1zM319 10h1v1h-1zM323 10h1v1h-1zM326 10h1v1h-1zM459 10h1v1h-1zM667 10h3v1h-3zM677 10h1v1h-1zM683 10h1v1h-1zM933 10h1v1h-1zM1091 10h1v1h-1zM175 11h1v1h-1zM188 11h1v1h-1zM190 11h2v1h-2zM762 11h1v1h-1zM769 11h1v1h-1zM806 11h1v1h-1zM856 11h1v1h-1zM413 12h1v1h-1zM716 12h1v1h-1zM973 12h1v1h-1zM1142 12h1v1h-1zM94 13h1v1h-1zM139 13h1v1h-1zM200 13h1v1h-1zM660 13h1v1h-1zM775 13h1v1h-1zM806 13h1v1h-1zM882 13h1v1h-1zM1088 13h1v1h-1zM1208 13h1v1h-1zM43 14h1v1h-1zM639 14h1v1h-1zM699 14h1v1h-1zM816 14h1v1h-1zM827 14h1v1h-1zM1157 14h1v1h-1zM607 15h1v1h-1zM778 15h1v1h-1zM787 15h1v1h-1zM817 15h1v1h-1zM824 15h1v1h-1zM828 15h1v1h-1zM1156 15h1v1h-1zM426 16h1v1h-1zM430 16h1v1h-1zM975 16h1v1h-1zM52 17h1v1h-1zM369 17h1v1h-1zM811 17h1v1h-1zM1155 17h1v1h-1zM670 18h1v1h-1zM937 18h1v1h-1zM668 19h1v1h-1zM715 19h1v1h-1zM810 19h1v1h-1zM815 19h1v1h-1zM1148 19h1v1h-1zM151 20h1v1h-1zM555 20h1v1h-1zM566 20h1v1h-1zM777 20h1v1h-1zM624 21h1v1h-1zM808 21h1v1h-1zM820 21h1v1h-1zM961 21h1v1h-1zM1146 21h1v1h-1zM1160 21h1v1h-1zM1177 21h1v1h-1zM768 22h1v1h-1zM806 22h1v1h-1zM915 22h1v1h-1zM233 23h1v1h-1zM532 23h1v1h-1zM824 23h1v1h-1zM836 23h1v1h-1zM917 23h1v1h-1zM1053 23h1v1h-1zM1158 23h1v1h-1zM76 24h1v1h-1zM123 24h1v1h-1zM507 24h1v1h-1zM620 24h1v1h-1zM1055 24h1v1h-1zM62 25h1v1h-1zM809 25h1v1h-1zM855 25h1v1h-1zM26 26h1v1h-1zM260 26h1v1h-1zM812 26h1v1h-1zM818 26h1v1h-1zM828 26h1v1h-1zM907 26h1v1h-1zM8 27h1v1h-1zM575 27h1v1h-1zM705 27h1v1h-1zM808 27h1v1h-1zM984 27h1v1h-1zM1154 27h1v1h-1zM297 28h1v1h-1zM320 28h1v1h-1zM444 28h1v1h-1zM726 28h1v1h-1zM780 28h1v1h-1zM296 29h1v1h-1zM1120 29h1v1h-1zM1148 29h1v1h-1zM1151 29h1v1h-1zM68 30h1v1h-1zM138 30h1v1h-1zM257 30h1v1h-1zM354 30h1v1h-1zM447 30h1v1h-1zM453 30h1v1h-1zM498 30h1v1h-1zM526 30h1v1h-1zM790 30h2v1h-2zM818 30h1v1h-1zM1090 30h1v1h-1zM1144 30h1v1h-1zM1155 30h1v1h-1zM1161 30h1v1h-1zM103 31h1v1h-1zM650 31h1v1h-1zM820 31h1v1h-1zM1209 31h1v1h-1zM127 32h1v1h-1zM156 32h1v1h-1zM783 32h1v1h-1zM818 32h1v1h-1zM957 32h1v1h-1zM70 33h1v1h-1zM803 33h1v1h-1zM997 33h1v1h-1zM311 34h1v1h-1zM415 34h1v1h-1zM430 34h1v1h-1zM604 34h1v1h-1zM783 34h1v1h-1zM806 34h1v1h-1zM817 34h1v1h-1zM895 34h1v1h-1zM6 35h1v1h-1zM173 35h1v1h-1zM463 35h1v1h-1zM783 35h1v1h-1zM1142 35h1v1h-1zM1146 35h1v1h-1zM199 36h1v1h-1zM807 36h1v1h-1zM823 36h1v1h-1zM255 37h1v1h-1zM659 37h1v1h-1zM1149 37h1v1h-1zM550 38h1v1h-1zM927 38h1v1h-1zM1160 39h1v1h-1zM864 40h1v1h-1zM871 40h1v1h-1zM970 40h1v1h-1zM973 40h1v1h-1zM192 41h1v1h-1zM198 41h1v1h-1zM715 41h1v1h-1zM806 41h1v1h-1zM1199 41h1v1h-1zM543 42h1v1h-1zM817 42h1v1h-1zM829 42h1v1h-1zM986 42h1v1h-1zM1157 42h2v1h-2zM146 43h1v1h-1zM510 43h1v1h-1zM380 44h1v1h-1zM382 44h1v1h-1zM627 44h1v1h-1zM806 44h1v1h-1zM870 44h1v1h-1z"/>
<path fill="#e9b5bc" d="M448 1h1v1h-1zM812 1h1v1h-1zM816 1h1v1h-1zM789 2h1v1h-1zM811 2h1v1h-1zM823 2h1v1h-1zM559 3h1v1h-1zM811 3h1v1h-1zM174 4h1v1h-1zM943 4h1v1h-1zM411 6h1v1h-1zM657 6h1v1h-1zM808 6h1v1h-1zM1151 6h1v1h-1zM694 7h1v1h-1zM1151 7h1v1h-1zM14 9h1v1h-1zM823 9h1v1h-1zM826 9h1v1h-1zM1076 9h1v1h-1zM25 10h1v1h-1zM305 10h1v1h-1zM363 10h1v1h-1zM680 10h1v1h-1zM918 10h1v1h-1zM14 11h1v1h-1zM184 11h1v1h-1zM479 11h1v1h-1zM550 11h1v1h-1zM824 11h1v1h-1zM477 12h1v1h-1zM462 13h1v1h-1zM796 13h1v1h-1zM798 13h1v1h-1zM802 13h1v1h-1zM810 13h1v1h-1zM979 13h1v1h-1zM1207 13h1v1h-1zM1142 14h1v1h-1zM1147 14h1v1h-1zM461 15h1v1h-1zM781 15h1v1h-1zM830 15h1v1h-1zM128 16h1v1h-1zM436 16h1v1h-1zM813 16h1v1h-1zM152 17h1v1h-1zM1057 17h1v1h-1zM606 18h1v1h-1zM92 19h1v1h-1zM809 19h1v1h-1zM1000 19h1v1h-1zM1125 19h1v1h-1zM1143 19h1v1h-1zM1160 19h2v1h-2zM152 20h1v1h-1zM158 20h1v1h-1zM326 20h1v1h-1zM558 20h1v1h-1zM822 20h1v1h-1zM960 20h1v1h-1zM33 21h1v1h-1zM186 21h1v1h-1zM414 21h1v1h-1zM687 21h1v1h-1zM827 21h1v1h-1zM1153 21h1v1h-1zM789 22h1v1h-1zM1141 22h1v1h-1zM249 23h1v1h-1zM539 23h1v1h-1zM550 23h1v1h-1zM947 23h1v1h-1zM1154 23h1v1h-1zM1142 24h1v1h-1zM1145 24h1v1h-1zM1150 24h1v1h-1zM60 25h1v1h-1zM612 25h1v1h-1zM695 25h1v1h-1zM821 25h1v1h-1zM1028 25h1v1h-1zM285 26h1v1h-1zM551 26h1v1h-1zM848 26h1v1h-1zM933 26h1v1h-1zM1142 26h1v1h-1zM1152 26h1v1h-1zM125 27h1v1h-1zM816 27h1v1h-1zM818 27h2v1h-2zM825 27h1v1h-1zM1086 27h1v1h-1zM992 28h1v1h-1zM264 29h1v1h-1zM645 29h1v1h-1zM687 29h1v1h-1zM692 29h1v1h-1zM699 29h1v1h-1zM704 29h1v1h-1zM1149 29h1v1h-1zM1190 29h1v1h-1zM458 30h1v1h-1zM744 30h1v1h-1zM807 30h1v1h-1zM1064 30h1v1h-1zM1149 30h1v1h-1zM286 31h1v1h-1zM554 31h1v1h-1zM809 31h1v1h-1zM1111 31h1v1h-1zM1162 31h1v1h-1zM781 32h1v1h-1zM794 32h1v1h-1zM827 32h1v1h-1zM416 33h1v1h-1zM507 33h1v1h-1zM431 34h1v1h-1zM459 34h1v1h-1zM286 35h1v1h-1zM784 35h1v1h-1zM820 35h1v1h-1zM826 35h1v1h-1zM828 35h1v1h-1zM1149 35h1v1h-1zM1151 35h1v1h-1zM163 36h1v1h-1zM233 36h1v1h-1zM558 36h1v1h-1zM612 36h1v1h-1zM778 36h1v1h-1zM787 36h1v1h-1zM800 36h1v1h-1zM1152 37h1v1h-1zM206 38h1v1h-1zM678 38h1v1h-1zM356 40h1v1h-1zM773 40h1v1h-1zM195 41h1v1h-1zM814 41h1v1h-1zM512 42h1v1h-1zM885 42h1v1h-1zM1161 42h1v1h-1zM821 43h1v1h-1zM622 44h1v1h-1zM815 44h1v1h-1z"/>
<path fill="#e9b2b9" d="M818 1h1v1h-1zM827 1h1v1h-1zM1146 1h1v1h-1zM434 2h1v1h-1zM798 2h1v1h-1zM801 2h1v1h-1zM830 3h1v1h-1zM213 4h1v1h-1zM1159 5h1v1h-1zM414 6h1v1h-1zM419 6h1v1h-1zM1156 6h1v1h-1zM685 7h2v1h-2zM695 7h1v1h-1zM699 7h1v1h-1zM704 7h1v1h-1zM1152 7h1v1h-1zM1155 7h1v1h-1zM824 9h1v1h-1zM827 9h1v1h-1zM310 10h1v1h-1zM665 10h1v1h-1zM670 10h1v1h-1zM535 11h1v1h-1zM823 11h1v1h-1zM816 12h1v1h-1zM450 13h1v1h-1zM457 13h1v1h-1zM460 13h1v1h-1zM821 13h1v1h-1zM748 14h1v1h-1zM1162 14h1v1h-1zM796 15h1v1h-1zM1135 15h1v1h-1zM1141 15h1v1h-1zM178 16h1v1h-1zM815 17h1v1h-1zM1184 18h1v1h-1zM179 19h1v1h-1zM817 19h1v1h-1zM560 20h1v1h-1zM565 20h1v1h-1zM879 20h1v1h-1zM330 21h1v1h-1zM1149 21h1v1h-1zM1155 21h1v1h-1zM1161 21h1v1h-1zM536 23h1v1h-1zM544 23h1v1h-1zM806 25h1v1h-1zM829 25h1v1h-1zM815 26h1v1h-1zM824 26h1v1h-1zM1150 26h1v1h-1zM452 27h1v1h-1zM460 27h1v1h-1zM1158 27h1v1h-1zM1161 27h1v1h-1zM319 28h1v1h-1zM1145 29h2v1h-2zM462 30h1v1h-1zM823 30h1v1h-1zM989 30h1v1h-1zM1148 30h1v1h-1zM1162 30h1v1h-1zM1147 31h1v1h-1zM1153 31h1v1h-1zM1206 31h1v1h-1zM802 32h1v1h-1zM777 35h2v1h-2zM806 35h1v1h-1zM775 36h1v1h-1zM815 36h1v1h-1zM1150 37h1v1h-1zM1157 37h1v1h-1zM145 40h1v1h-1zM969 40h1v1h-1zM971 40h1v1h-1zM49 42h1v1h-1zM811 43h1v1h-1zM819 43h1v1h-1zM1144 44h1v1h-1zM1146 44h1v1h-1zM1159 44h1v1h-1zM1162 44h1v1h-1z"/>
<path fill="#e9aeb6" d="M505 0h1v1h-1zM821 0h1v1h-1zM820 1h1v1h-1zM1155 1h1v1h-1zM792 2h1v1h-1zM796 2h1v1h-1zM806 2h1v1h-1zM818 2h1v1h-1zM88 4h1v1h-1zM1124 5h1v1h-1zM416 6h1v1h-1zM421 6h1v1h-1zM816 6h1v1h-1zM1155 6h1v1h-1zM1193 6h1v1h-1zM697 7h1v1h-1zM1056 7h1v1h-1zM672 10h1v1h-1zM807 11h1v1h-1zM445 12h1v1h-1zM453 13h1v1h-1zM811 13h1v1h-1zM817 13h1v1h-1zM807 14h1v1h-1zM822 14h1v1h-1zM1148 14h1v1h-1zM1154 14h1v1h-1zM1159 14h1v1h-1zM21 15h1v1h-1zM794 15h1v1h-1zM1142 15h1v1h-1zM433 16h1v1h-1zM64 17h1v1h-1zM312 17h1v1h-1zM331 17h1v1h-1zM826 17h2v1h-2zM818 19h1v1h-1zM823 19h1v1h-1zM1146 19h1v1h-1zM1157 19h1v1h-1zM248 20h1v1h-1zM830 20h1v1h-1zM465 21h1v1h-1zM815 21h1v1h-1zM825 21h1v1h-1zM1148 21h1v1h-1zM1157 21h1v1h-1zM531 23h1v1h-1zM548 23h1v1h-1zM731 23h1v1h-1zM1205 23h1v1h-1zM813 24h1v1h-1zM825 24h1v1h-1zM1147 24h1v1h-1zM1158 24h2v1h-2zM815 25h1v1h-1zM330 26h1v1h-1zM525 26h1v1h-1zM816 26h1v1h-1zM1147 27h1v1h-1zM311 28h1v1h-1zM460 28h2v1h-2zM731 28h2v1h-2zM703 29h1v1h-1zM822 29h1v1h-1zM449 30h1v1h-1zM454 30h1v1h-1zM820 30h1v1h-1zM823 31h1v1h-1zM873 31h1v1h-1zM1210 31h1v1h-1zM186 33h1v1h-1zM262 33h1v1h-1zM394 33h1v1h-1zM409 33h1v1h-1zM421 33h1v1h-1zM889 33h1v1h-1zM177 34h2v1h-2zM183 34h1v1h-1zM813 34h1v1h-1zM821 34h1v1h-1zM194 35h1v1h-1zM776 35h1v1h-1zM787 35h1v1h-1zM795 36h1v1h-1zM826 36h1v1h-1zM821 39h1v1h-1zM306 40h1v1h-1zM960 40h1v1h-1zM830 42h1v1h-1zM1149 44h1v1h-1z"/>
<path fill="#e8abb3" d="M829 0h1v1h-1zM352 1h1v1h-1zM453 1h1v1h-1zM811 1h1v1h-1zM808 2h1v1h-1zM815 2h1v1h-1zM14 3h1v1h-1zM333 4h1v1h-1zM857 4h1v1h-1zM95 5h1v1h-1zM1072 5h1v1h-1zM112 6h1v1h-1zM822 6h1v1h-1zM1161 6h1v1h-1zM815 7h1v1h-1zM1028 7h1v1h-1zM764 9h1v1h-1zM309 10h1v1h-1zM796 10h1v1h-1zM815 10h1v1h-1zM195 11h1v1h-1zM811 11h1v1h-1zM828 11h1v1h-1zM1186 11h1v1h-1zM487 13h1v1h-1zM805 13h1v1h-1zM808 13h1v1h-1zM819 13h1v1h-1zM827 13h1v1h-1zM988 14h1v1h-1zM238 15h1v1h-1zM807 15h1v1h-1zM1160 15h1v1h-1zM195 16h1v1h-1zM428 16h1v1h-1zM700 16h1v1h-1zM394 17h1v1h-1zM806 17h1v1h-1zM824 17h1v1h-1zM1162 17h1v1h-1zM475 19h1v1h-1zM811 19h1v1h-1zM814 19h1v1h-1zM1151 19h1v1h-1zM572 20h1v1h-1zM806 20h1v1h-1zM824 20h1v1h-1zM828 21h1v1h-1zM914 22h1v1h-1zM183 23h1v1h-1zM529 23h1v1h-1zM26 24h1v1h-1zM1197 25h1v1h-1zM1077 26h1v1h-1zM1146 26h1v1h-1zM1149 26h1v1h-1zM454 27h1v1h-1zM1146 27h1v1h-1zM1148 27h1v1h-1zM1156 27h1v1h-1zM1186 27h1v1h-1zM63 29h1v1h-1zM353 29h1v1h-1zM810 29h1v1h-1zM1144 29h1v1h-1zM739 30h1v1h-1zM821 30h1v1h-1zM813 32h1v1h-1zM826 32h1v1h-1zM17 33h1v1h-1zM413 33h1v1h-1zM883 33h1v1h-1zM812 34h1v1h-1zM826 34h1v1h-1zM3 36h1v1h-1zM780 36h1v1h-1zM822 36h1v1h-1zM236 37h1v1h-1zM811 37h1v1h-1zM826 38h1v1h-1zM825 39h1v1h-1zM829 39h1v1h-1zM964 40h1v1h-1zM972 40h1v1h-1zM530 42h1v1h-1zM641 42h1v1h-1zM820 42h1v1h-1zM1147 42h1v1h-1zM812 43h1v1h-1zM206 44h1v1h-1z"/>
<path fill="#e8a8b1" d="M822 0h1v1h-1zM826 0h1v1h-1zM810 1h1v1h-1zM1143 1h1v1h-1zM429 2h1v1h-1zM824 3h1v1h-1zM815 5h1v1h-1zM820 5h1v1h-1zM1160 6h1v1h-1zM201 9h1v1h-1zM360 12h1v1h-1zM461 12h1v1h-1zM386 13h1v1h-1zM816 13h1v1h-1zM1206 13h1v1h-1zM1210 13h1v1h-1zM723 15h1v1h-1zM779 15h1v1h-1zM823 15h1v1h-1zM1137 15h1v1h-1zM1139 15h1v1h-1zM138 16h1v1h-1zM432 16h1v1h-1zM437 16h1v1h-1zM471 16h1v1h-1zM823 17h1v1h-1zM1143 17h1v1h-1zM1158 17h1v1h-1zM812 19h1v1h-1zM199 23h1v1h-1zM1206 23h1v1h-1zM1151 24h1v1h-1zM21 25h1v1h-1zM144 25h1v1h-1zM816 25h1v1h-1zM1137 25h1v1h-1zM1140 26h1v1h-1zM1149 27h1v1h-1zM1152 27h1v1h-1zM436 29h1v1h-1zM1160 29h1v1h-1zM814 30h1v1h-1zM824 30h1v1h-1zM826 30h1v1h-1zM807 31h1v1h-1zM812 31h1v1h-1zM826 31h1v1h-1zM31 32h1v1h-1zM1135 32h1v1h-1zM264 34h1v1h-1zM68 35h1v1h-1zM779 35h1v1h-1zM791 35h1v1h-1zM813 35h1v1h-1zM812 36h1v1h-1zM809 39h1v1h-1zM814 39h1v1h-1zM827 39h1v1h-1zM995 39h1v1h-1zM963 40h1v1h-1zM965 40h1v1h-1zM134 42h1v1h-1zM811 42h1v1h-1zM822 42h1v1h-1zM1155 42h1v1h-1zM814 44h1v1h-1zM1151 44h1v1h-1z"/>
<path fill="#e7a4ae" d="M813 0h1v1h-1zM1148 1h1v1h-1zM519 2h1v1h-1zM786 2h1v1h-1zM467 3h1v1h-1zM836 4h1v1h-1zM853 4h1v1h-1zM810 7h2v1h-2zM825 7h1v1h-1zM809 9h1v1h-1zM950 10h1v1h-1zM186 11h1v1h-1zM625 12h1v1h-1zM835 12h1v1h-1zM340 13h1v1h-1zM801 13h1v1h-1zM815 13h1v1h-1zM954 13h1v1h-1zM823 14h1v1h-1zM1144 14h1v1h-1zM94 15h1v1h-1zM281 15h1v1h-1zM784 15h1v1h-1zM1138 15h1v1h-1zM1149 15h1v1h-1zM438 16h1v1h-1zM778 16h1v1h-1zM807 17h1v1h-1zM1150 17h1v1h-1zM1153 17h1v1h-1zM460 20h1v1h-1zM561 20h1v1h-1zM818 20h1v1h-1zM643 21h1v1h-1zM777 22h1v1h-1zM810 22h1v1h-1zM933 22h1v1h-1zM941 22h1v1h-1zM238 25h1v1h-1zM819 25h2v1h-2zM249 26h1v1h-1zM586 27h1v1h-1zM522 30h1v1h-1zM820 32h1v1h-1zM858 33h1v1h-1zM116 34h1v1h-1zM814 34h1v1h-1zM157 35h1v1h-1zM780 35h1v1h-1zM795 35h1v1h-1zM801 35h1v1h-1zM809 35h1v1h-1zM817 35h1v1h-1zM220 36h1v1h-1zM1125 36h1v1h-1zM227 39h1v1h-1zM825 42h1v1h-1zM1153 42h1v1h-1zM1159 42h1v1h-1zM822 43h1v1h-1zM826 44h1v1h-1z"/>
<path fill="#e6a1ab" d="M126 0h1v1h-1zM815 0h1v1h-1zM494 2h1v1h-1zM777 2h1v1h-1zM794 2h1v1h-1zM813 2h1v1h-1zM825 3h1v1h-1zM1009 3h1v1h-1zM808 4h1v1h-1zM895 4h1v1h-1zM470 5h1v1h-1zM812 5h1v1h-1zM987 5h1v1h-1zM818 6h1v1h-1zM728 7h1v1h-1zM817 7h1v1h-1zM807 9h1v1h-1zM822 9h1v1h-1zM828 9h1v1h-1zM608 11h1v1h-1zM614 12h1v1h-1zM708 12h1v1h-1zM681 14h1v1h-1zM810 14h1v1h-1zM818 14h1v1h-1zM274 15h1v1h-1zM811 15h1v1h-1zM192 16h1v1h-1zM194 16h1v1h-1zM1028 17h1v1h-1zM1071 17h1v1h-1zM1152 17h1v1h-1zM269 18h1v1h-1zM822 19h1v1h-1zM1154 19h2v1h-2zM1158 19h1v1h-1zM1162 19h1v1h-1zM84 20h1v1h-1zM458 20h1v1h-1zM554 20h1v1h-1zM717 20h1v1h-1zM810 20h1v1h-1zM912 22h1v1h-1zM935 22h1v1h-1zM1208 23h1v1h-1zM826 25h1v1h-1zM819 26h1v1h-1zM1160 26h2v1h-2zM335 28h1v1h-1zM830 29h1v1h-1zM155 31h1v1h-1zM472 32h1v1h-1zM544 32h1v1h-1zM353 33h1v1h-1zM1062 33h1v1h-1zM1002 35h1v1h-1zM387 37h1v1h-1zM662 37h1v1h-1zM786 37h1v1h-1zM808 37h1v1h-1zM812 37h1v1h-1zM806 38h1v1h-1zM823 39h1v1h-1zM354 41h1v1h-1zM1061 41h1v1h-1zM823 42h1v1h-1zM1143 42h1v1h-1zM1151 42h2v1h-2zM823 44h1v1h-1zM1145 44h1v1h-1zM1160 44h1v1h-1z"/>
<path fill="#e69ea8" d="M1153 1h1v1h-1zM1159 1h1v1h-1zM23 2h1v1h-1zM427 2h1v1h-1zM804 2h1v1h-1zM816 2h1v1h-1zM813 5h1v1h-1zM794 6h1v1h-1zM817 8h1v1h-1zM819 8h1v1h-1zM1134 8h1v1h-1zM192 11h1v1h-1zM821 11h1v1h-1zM812 13h1v1h-1zM811 14h1v1h-1zM793 15h1v1h-1zM799 15h1v1h-1zM1092 15h1v1h-1zM1151 15h1v1h-1zM1162 15h1v1h-1zM816 17h1v1h-1zM457 20h1v1h-1zM563 20h1v1h-1zM413 21h1v1h-1zM815 22h1v1h-1zM931 22h1v1h-1zM872 24h1v1h-1zM788 25h1v1h-1zM808 25h1v1h-1zM823 25h1v1h-1zM813 26h1v1h-1zM926 26h1v1h-1zM932 26h1v1h-1zM935 26h1v1h-1zM1143 26h1v1h-1zM826 29h1v1h-1zM906 29h1v1h-1zM819 30h1v1h-1zM825 31h1v1h-1zM720 35h1v1h-1zM781 35h1v1h-1zM740 36h1v1h-1zM765 36h1v1h-1zM809 36h1v1h-1zM816 36h2v1h-2zM821 36h1v1h-1zM273 37h1v1h-1zM966 37h1v1h-1zM820 38h1v1h-1zM976 40h2v1h-2zM1033 41h1v1h-1zM824 42h1v1h-1zM1149 42h1v1h-1zM60 43h1v1h-1zM1161 44h1v1h-1z"/>
<path fill="#e59ba6" d="M195 0h1v1h-1zM226 1h1v1h-1zM1160 1h1v1h-1zM799 2h1v1h-1zM806 3h1v1h-1zM823 3h1v1h-1zM795 5h1v1h-1zM1180 5h1v1h-1zM418 7h1v1h-1zM105 8h1v1h-1zM826 8h1v1h-1zM445 11h1v1h-1zM812 11h2v1h-2zM452 13h1v1h-1zM455 13h1v1h-1zM944 13h1v1h-1zM952 13h1v1h-1zM821 15h1v1h-1zM1136 15h1v1h-1zM1150 15h1v1h-1zM1152 15h1v1h-1zM181 16h1v1h-1zM188 16h1v1h-1zM731 17h1v1h-1zM1159 19h1v1h-1zM571 20h1v1h-1zM811 21h1v1h-1zM807 22h1v1h-1zM927 22h1v1h-1zM936 22h2v1h-2zM811 24h1v1h-1zM1153 24h1v1h-1zM341 25h1v1h-1zM814 25h1v1h-1zM1155 26h1v1h-1zM817 27h1v1h-1zM619 29h1v1h-1zM816 29h1v1h-1zM1160 30h1v1h-1zM449 31h1v1h-1zM372 32h1v1h-1zM417 32h1v1h-1zM816 32h1v1h-1zM1027 32h1v1h-1zM816 34h1v1h-1zM804 35h1v1h-1zM807 35h1v1h-1zM812 35h1v1h-1zM636 36h1v1h-1zM821 37h1v1h-1zM826 37h1v1h-1zM828 37h1v1h-1zM113 38h1v1h-1zM672 39h1v1h-1zM962 40h1v1h-1zM812 41h1v1h-1zM1143 44h1v1h-1zM1153 44h1v1h-1z"/>
<path fill="#e498a3" d="M470 6h1v1h-1zM881 6h1v1h-1zM580 10h1v1h-1zM814 11h1v1h-1zM436 13h1v1h-1zM803 13h1v1h-1zM12 15h1v1h-1zM790 15h1v1h-1zM818 15h1v1h-1zM1159 15h1v1h-1zM167 16h1v1h-1zM225 17h1v1h-1zM809 17h1v1h-1zM830 17h1v1h-1zM1144 17h1v1h-1zM108 18h1v1h-1zM978 18h1v1h-1zM42 19h1v1h-1zM736 19h1v1h-1zM812 20h1v1h-1zM816 21h1v1h-1zM1152 21h1v1h-1zM316 23h1v1h-1zM722 24h1v1h-1zM1148 26h1v1h-1zM781 27h1v1h-1zM829 29h1v1h-1zM815 30h1v1h-1zM827 30h1v1h-1zM689 34h1v1h-1zM822 34h1v1h-1zM818 36h1v1h-1zM807 37h1v1h-1zM828 38h1v1h-1zM815 39h1v1h-1zM591 41h1v1h-1zM521 42h1v1h-1zM808 42h1v1h-1zM817 43h1v1h-1zM1156 44h1v1h-1z"/>
<path fill="#e394a0" d="M817 0h1v1h-1zM719 1h1v1h-1zM1144 1h1v1h-1zM436 2h1v1h-1zM778 2h1v1h-1zM827 11h1v1h-1zM516 12h1v1h-1zM812 14h2v1h-2zM814 15h1v1h-1zM813 21h1v1h-1zM1158 21h1v1h-1zM828 22h1v1h-1zM921 22h1v1h-1zM828 24h1v1h-1zM830 25h1v1h-1zM759 26h1v1h-1zM6 28h1v1h-1zM1087 29h1v1h-1zM1163 30h1v1h-1zM1195 31h1v1h-1zM1198 31h1v1h-1zM1060 32h1v1h-1zM518 34h1v1h-1zM1111 37h1v1h-1zM812 39h1v1h-1zM685 41h1v1h-1zM888 41h1v1h-1zM80 42h1v1h-1zM819 42h1v1h-1zM571 44h1v1h-1z"/>
<path fill="#e3919e" d="M433 2h1v1h-1zM821 4h1v1h-1zM808 5h1v1h-1zM498 6h1v1h-1zM798 8h1v1h-1zM665 11h1v1h-1zM952 12h1v1h-1zM354 14h1v1h-1zM777 15h1v1h-1zM825 15h1v1h-1zM1153 15h1v1h-1zM18 16h1v1h-1zM817 17h1v1h-1zM340 22h1v1h-1zM916 22h1v1h-1zM1127 27h1v1h-1zM172 28h1v1h-1zM594 28h1v1h-1zM939 28h1v1h-1zM807 29h1v1h-1zM824 29h1v1h-1zM639 30h1v1h-1zM1169 30h1v1h-1zM819 31h1v1h-1zM810 36h1v1h-1zM809 37h1v1h-1zM811 39h1v1h-1zM816 42h1v1h-1zM827 42h1v1h-1zM896 42h1v1h-1zM105 43h1v1h-1zM825 43h1v1h-1z"/>
<path fill="#e28e9b" d="M815 1h1v1h-1zM1145 1h1v1h-1zM1149 1h1v1h-1zM782 2h1v1h-1zM828 3h1v1h-1zM1185 3h1v1h-1zM809 4h1v1h-1zM824 5h1v1h-1zM814 7h1v1h-1zM420 10h1v1h-1zM825 11h1v1h-1zM674 13h1v1h-1zM814 13h1v1h-1zM435 14h1v1h-1zM774 15h1v1h-1zM1149 17h1v1h-1zM1156 17h1v1h-1zM816 19h1v1h-1zM822 22h1v1h-1zM871 22h1v1h-1zM913 22h1v1h-1zM938 22h1v1h-1zM987 23h1v1h-1zM482 24h1v1h-1zM807 25h1v1h-1zM831 25h1v1h-1zM825 30h1v1h-1zM814 35h1v1h-1zM821 42h1v1h-1zM825 44h1v1h-1z"/>
<path fill="#e28b99" d="M816 0h1v1h-1zM438 2h1v1h-1zM830 5h1v1h-1zM818 11h1v1h-1zM829 11h1v1h-1zM423 12h1v1h-1zM1142 17h1v1h-1zM830 22h1v1h-1zM917 22h1v1h-1zM932 22h1v1h-1zM824 24h1v1h-1zM817 29h1v1h-1zM829 43h1v1h-1z"/>
<path fill="#e38997" d="M435 2h1v1h-1zM434 12h2v1h-2zM1144 15h1v1h-1zM819 19h1v1h-1zM928 22h1v1h-1zM940 22h1v1h-1zM270 24h1v1h-1zM820 24h1v1h-1zM823 24h1v1h-1zM878 25h1v1h-1zM737 27h1v1h-1zM812 30h1v1h-1zM816 31h1v1h-1zM818 31h1v1h-1zM830 38h1v1h-1zM809 42h1v1h-1zM587 43h1v1h-1zM824 44h1v1h-1z"/>
<path fill="#e38695" d="M1158 1h1v1h-1zM428 2h1v1h-1zM809 5h1v1h-1zM647 7h1v1h-1zM812 7h1v1h-1zM1155 15h1v1h-1zM1157 15h1v1h-1zM415 20h1v1h-1zM929 22h1v1h-1zM939 22h1v1h-1zM1066 22h1v1h-1zM943 27h1v1h-1zM828 29h1v1h-1zM808 30h1v1h-1zM647 35h1v1h-1zM670 37h1v1h-1zM825 38h1v1h-1zM815 42h1v1h-1zM806 43h1v1h-1zM815 43h1v1h-1z"/>
<path fill="#e38493" d="M1017 17h1v1h-1zM78 18h1v1h-1zM816 24h1v1h-1zM826 24h1v1h-1zM827 29h1v1h-1zM674 35h1v1h-1zM819 35h1v1h-1z"/>
<path fill="#e48190" d="M807 3h1v1h-1zM819 3h1v1h-1zM823 7h1v1h-1zM437 12h1v1h-1zM820 15h1v1h-1zM689 27h1v1h-1zM808 29h2v1h-2zM820 29h1v1h-1zM808 31h1v1h-1zM964 42h1v1h-1z"/>
<path fill="#e47e8e" d="M811 0h1v1h-1zM818 3h1v1h-1zM816 7h1v1h-1zM827 8h1v1h-1zM780 15h1v1h-1zM843 33h1v1h-1zM698 34h1v1h-1zM812 42h1v1h-1zM820 44h1v1h-1z"/>
<path fill="#e47c8c" d="M336 2h1v1h-1zM813 3h1v1h-1zM824 4h1v1h-1zM1071 4h1v1h-1zM818 5h1v1h-1zM829 8h1v1h-1zM819 11h1v1h-1zM425 12h1v1h-1zM264 13h1v1h-1zM786 15h1v1h-1zM478 17h1v1h-1zM808 22h1v1h-1zM820 22h1v1h-1zM935 23h1v1h-1zM79 32h1v1h-1zM809 44h1v1h-1z"/>
<path fill="#e4798a" d="M142 2h1v1h-1zM810 4h1v1h-1zM685 6h1v1h-1zM828 7h1v1h-1zM812 24h1v1h-1zM452 32h1v1h-1zM806 37h1v1h-1zM825 37h1v1h-1zM820 43h1v1h-1zM483 44h1v1h-1zM827 44h1v1h-1z"/>
<path fill="#e57788" d="M437 2h1v1h-1zM828 5h1v1h-1zM824 7h1v1h-1zM830 7h1v1h-1zM812 9h1v1h-1zM434 14h1v1h-1zM934 22h1v1h-1zM221 29h1v1h-1zM806 29h1v1h-1zM810 30h1v1h-1z"/>
<path fill="#e57486" d="M289 1h1v1h-1zM817 5h1v1h-1zM819 7h1v1h-1zM1089 10h1v1h-1zM1147 12h1v1h-1zM291 28h1v1h-1zM821 29h1v1h-1zM342 34h1v1h-1zM380 34h1v1h-1zM811 44h1v1h-1z"/>
<path fill="#e57284" d="M265 5h1v1h-1zM809 7h1v1h-1zM431 13h1v1h-1zM811 25h1v1h-1zM813 31h1v1h-1zM663 37h1v1h-1zM823 38h1v1h-1zM816 44h1v1h-1z"/>
<path fill="#e56f82" d="M260 9h1v1h-1zM810 9h1v1h-1zM432 12h1v1h-1zM827 22h1v1h-1zM22 29h1v1h-1zM821 31h1v1h-1z"/>
<path fill="#e66d81" d="M822 3h1v1h-1zM828 4h1v1h-1zM429 12h1v1h-1zM952 18h1v1h-1zM922 22h1v1h-1zM819 29h1v1h-1z"/>
<path fill="#e66a7f" d="M693 3h1v1h-1zM823 4h1v1h-1zM825 4h1v1h-1zM818 8h1v1h-1zM240 19h1v1h-1zM817 22h1v1h-1zM811 29h1v1h-1zM4 31h1v1h-1zM817 31h1v1h-1zM812 38h1v1h-1zM919 38h1v1h-1zM435 39h1v1h-1zM41 40h1v1h-1zM995 41h1v1h-1zM349 42h1v1h-1zM255 43h1v1h-1zM463 43h1v1h-1zM830 44h1v1h-1z"/>
<path fill="#e6687d" d="M810 3h1v1h-1zM814 3h1v1h-1zM824 8h1v1h-1zM806 9h1v1h-1zM1086 11h1v1h-1zM424 12h1v1h-1zM426 12h1v1h-1zM378 34h1v1h-1zM820 37h1v1h-1zM821 44h1v1h-1z"/>
<path fill="#e6667b" d="M818 4h1v1h-1zM822 5h1v1h-1zM825 8h1v1h-1zM819 9h1v1h-1zM1102 14h1v1h-1zM811 22h1v1h-1zM406 32h1v1h-1zM822 37h1v1h-1zM827 38h1v1h-1zM495 44h1v1h-1z"/>
<path fill="#e66379" d="M806 5h1v1h-1zM821 7h1v1h-1zM809 24h1v1h-1zM285 28h1v1h-1zM33 31h1v1h-1zM735 33h1v1h-1z"/>
<path fill="#e76178" d="M143 8h1v1h-1zM244 22h1v1h-1zM814 22h1v1h-1zM821 22h1v1h-1zM460 43h1v1h-1zM812 44h1v1h-1zM817 44h1v1h-1z"/>
<path fill="#e75e76" d="M817 4h1v1h-1zM806 8h1v1h-1zM1121 10h1v1h-1zM99 40h1v1h-1z"/>
<path fill="#e75c74" d="M284 0h1v1h-1zM921 1h1v1h-1zM813 7h1v1h-1zM816 11h1v1h-1zM920 22h1v1h-1zM932 28h1v1h-1zM788 32h1v1h-1zM472 34h1v1h-1zM807 38h1v1h-1zM829 38h1v1h-1zM786 41h1v1h-1z"/>
<path fill="#e75a72" d="M820 3h1v1h-1zM829 4h1v1h-1zM325 5h1v1h-1zM764 6h1v1h-1zM816 9h1v1h-1zM433 14h1v1h-1zM826 22h1v1h-1zM829 44h1v1h-1z"/>
<path fill="#e75770" d="M812 4h1v1h-1zM823 5h1v1h-1zM808 7h1v1h-1zM653 15h1v1h-1zM650 21h1v1h-1zM165 32h1v1h-1zM537 36h1v1h-1zM818 37h1v1h-1zM817 38h1v1h-1z"/>
<path fill="#e8556f" d="M816 4h1v1h-1zM250 5h1v1h-1zM815 8h1v1h-1zM817 9h1v1h-1zM820 9h1v1h-1zM928 31h1v1h-1zM360 33h1v1h-1zM797 36h1v1h-1zM1043 36h1v1h-1z"/>
<path fill="#e8526d" d="M251 3h1v1h-1zM816 3h1v1h-1zM806 4h1v1h-1zM826 5h1v1h-1zM297 21h1v1h-1zM809 22h1v1h-1zM818 22h1v1h-1zM198 26h1v1h-1zM911 26h1v1h-1zM878 27h1v1h-1zM916 36h1v1h-1z"/>
<path fill="#e8506b" d="M822 8h1v1h-1zM821 9h1v1h-1zM997 10h1v1h-1zM615 18h1v1h-1z"/>
<path fill="#e84e69" d="M807 4h1v1h-1zM822 7h1v1h-1zM101 18h1v1h-1zM701 35h1v1h-1z"/>
<path fill="#e84b67" d="M817 3h1v1h-1zM808 9h1v1h-1zM813 29h1v1h-1zM817 37h1v1h-1zM821 38h1v1h-1zM807 44h1v1h-1z"/>
<path fill="#e94966" d="M924 22h1v1h-1zM818 44h1v1h-1z"/>
<path fill="#e94664" d="M820 4h1v1h-1zM814 38h1v1h-1z"/>
<path fill="#e94462" d="M824 22h1v1h-1zM815 24h1v1h-1zM815 29h1v1h-1zM808 38h1v1h-1zM687 44h2v1h-2z"/>
<path fill="#e94160" d="M827 4h1v1h-1zM818 9h1v1h-1zM813 22h1v1h-1zM918 22h1v1h-1z"/>
<path fill="#e93e5e" d="M822 4h1v1h-1zM811 9h1v1h-1zM816 22h1v1h-1zM809 38h1v1h-1z"/>
<path fill="#e93c5d" d="M810 5h1v1h-1zM811 8h1v1h-1zM810 38h1v1h-1z"/>
<path fill="#e9395b" d="M830 4h1v1h-1zM923 22h1v1h-1zM810 44h1v1h-1z"/>
<path fill="#e93659" d="M814 5h1v1h-1zM818 7h1v1h-1zM821 8h1v1h-1z"/>
<path fill="#e93055" d="M919 22h1v1h-1zM925 22h1v1h-1z"/>
<path fill="#e92e54" d="M820 7h1v1h-1z"/>
<path fill="#e92850" d="M811 5h1v1h-1zM820 8h1v1h-1z"/>
<path fill="#e9274e" d="M823 8h1v1h-1zM812 22h1v1h-1z"/>
<path fill="#e9264b" d="M818 38h1v1h-1z"/>
<path fill="#e9264a" d="M826 4h1v1h-1zM814 9h1v1h-1zM813 44h1v1h-1z"/>
<path fill="#e82548" d="M815 9h1v1h-1zM811 38h1v1h-1zM813 38h1v1h-1z"/>
<path fill="#e82446" d="M810 8h1v1h-1z"/>
<path fill="#e82445" d="M819 5h1v1h-1zM809 8h1v1h-1zM812 8h1v1h-1z"/>
<path fill="#e82343" d="M819 22h1v1h-1z"/>
<path fill="#e82240" d="M808 8h1v1h-1z"/>
<path fill="#e82240" d="M815 38h1v1h-1z"/>
<path fill="#e82240" d="M814 4h1v1h-1z"/>
<path fill="#e82240" d="M807 8h1v1h-1zM816 8h1v1h-1z"/>
<path fill="#e82240" d="M813 8h1v1h-1z"/>
<path fill="#e82240" d="M811 4h1v1h-1z"/>
<path fill="#e82240" d="M819 4h1v1h-1z"/>
<path fill="#e82240" d="M816 38h1v1h-1z"/>
<path fill="#e82240" d="M815 4h1v1h-1z"/>
<path fill="#e82240" d="M814 8h1v1h-1z"/>
</g></g>
<line x1="109.3" y1="293.4" x2="1195.0" y2="293.4" stroke="#000" stroke-width="2" stroke-dasharray="2.2 2.89"/>
<rect x="135.3" y="126.9" width="237.5" height="25.4" fill="#fff" stroke="#262626" stroke-width="1.5"/>
<rect x="406.6" y="126.9" width="171.7" height="25.4" fill="#fff" stroke="#262626" stroke-width="1.5"/>
<rect x="584.2" y="126.9" width="135.8" height="25.4" fill="#fff" stroke="#262626" stroke-width="1.5"/>
<rect x="924.8" y="126.9" width="69.6" height="25.4" fill="#fff" stroke="#262626" stroke-width="1.5"/>
<rect x="840.4" y="126.7" width="16.2" height="11.7" fill="#fff" stroke="#262626" stroke-width="1.5"/>
<rect x="830.7" y="138.4" width="27.9" height="14.1" fill="#7a7b7d" stroke="#262626" stroke-width="1.5"/>
<rect x="1151.0" y="126.7" width="38.0" height="25.6" fill="#fff" stroke="#262626" stroke-width="1.5"/>
<rect x="1126.6" y="138.4" width="31.8" height="14.1" fill="#7a7b7d" stroke="#262626" stroke-width="1.5"/>
<text x="222.32" y="52.9" font-size="30.9" text-anchor="start" font-weight="normal" fill="#000" textLength="64.69" lengthAdjust="spacingAndGlyphs">NTD</text>
<text x="230.08" y="87.5" font-size="30.9" text-anchor="start" font-weight="normal" fill="#000" textLength="49.33" lengthAdjust="spacingAndGlyphs">29-</text>
<text x="230.37" y="121.9" font-size="30.9" text-anchor="start" font-weight="normal" fill="#000" textLength="57.55" lengthAdjust="spacingAndGlyphs">294</text>
<text x="457.62" y="52.9" font-size="30.9" text-anchor="start" font-weight="normal" fill="#000" textLength="66.49" lengthAdjust="spacingAndGlyphs">RBD</text>
<text x="457.4" y="87.5" font-size="30.9" text-anchor="start" font-weight="normal" fill="#000" textLength="68.53" lengthAdjust="spacingAndGlyphs">332-</text>
<text x="467.12" y="121.9" font-size="30.9" text-anchor="start" font-weight="normal" fill="#000" textLength="57.49" lengthAdjust="spacingAndGlyphs">523</text>
<text x="619.73" y="52.9" font-size="30.9" text-anchor="start" font-weight="normal" fill="#000" textLength="63.65" lengthAdjust="spacingAndGlyphs">CTD</text>
<text x="617.52" y="87.5" font-size="30.9" text-anchor="start" font-weight="normal" fill="#000" textLength="69.22" lengthAdjust="spacingAndGlyphs">530-</text>
<text x="626.94" y="121.9" font-size="30.9" text-anchor="start" font-weight="normal" fill="#000" textLength="57.75" lengthAdjust="spacingAndGlyphs">681</text>
<text x="830.15" y="52.9" font-size="30.9" text-anchor="start" font-weight="normal" fill="#000" textLength="38.23" lengthAdjust="spacingAndGlyphs">FP</text>
<text x="814.07" y="87.5" font-size="30.9" text-anchor="start" font-weight="normal" fill="#000" textLength="70.6" lengthAdjust="spacingAndGlyphs">816-</text>
<text x="824.47" y="121.9" font-size="30.9" text-anchor="start" font-weight="normal" fill="#000" textLength="58.57" lengthAdjust="spacingAndGlyphs">833</text>
<text x="927.8" y="52.9" font-size="30.9" text-anchor="start" font-weight="normal" fill="#000" textLength="63.45" lengthAdjust="spacingAndGlyphs">HR1</text>
<text x="925.46" y="87.5" font-size="30.9" text-anchor="start" font-weight="normal" fill="#000" textLength="70.1" lengthAdjust="spacingAndGlyphs">910-</text>
<text x="936.9" y="121.9" font-size="30.9" text-anchor="start" font-weight="normal" fill="#000" textLength="57.13" lengthAdjust="spacingAndGlyphs">987</text>
<text x="1152.68" y="52.9" font-size="30.9" text-anchor="start" font-weight="normal" fill="#000" textLength="63.82" lengthAdjust="spacingAndGlyphs">HR2</text>
<text x="1141.25" y="87.5" font-size="30.9" text-anchor="start" font-weight="normal" fill="#000" textLength="88.89" lengthAdjust="spacingAndGlyphs">1162-</text>
<text x="1150.96" y="121.9" font-size="30.9" text-anchor="start" font-weight="normal" fill="#000" textLength="77.05" lengthAdjust="spacingAndGlyphs">1204</text>
<text x="1057.68" y="129.2" font-size="30.9" text-anchor="start" font-weight="normal" fill="#000" textLength="76.37" lengthAdjust="spacingAndGlyphs">SH-H</text>
<text x="-0.8" y="48.9" font-size="57.5" text-anchor="start" font-weight="normal" fill="#231f20">A</text>
<text transform="translate(91.7 278.6) rotate(-90)" x="-3.8" y="0" font-size="36.0" fill="#000" textLength="123.69" lengthAdjust="spacingAndGlyphs">Infants</text>
<text transform="translate(91.7 622.0) rotate(-90)" x="-3.54" y="0" font-size="36.0" fill="#000" textLength="156.11" lengthAdjust="spacingAndGlyphs">Mothers</text>
<line x1="109.3" y1="787.2" x2="109.3" y2="792.3" stroke="#000" stroke-width="1.3"/>
<text x="100.69" y="817.6" font-size="29.5" text-anchor="start" font-weight="normal" fill="#000" textLength="17.22" lengthAdjust="spacingAndGlyphs">0</text>
<line x1="288.5" y1="787.2" x2="288.5" y2="792.3" stroke="#000" stroke-width="1.3"/>
<text x="261.65" y="817.6" font-size="29.5" text-anchor="start" font-weight="normal" fill="#000" textLength="53.25" lengthAdjust="spacingAndGlyphs">200</text>
<line x1="467.6" y1="787.2" x2="467.6" y2="792.3" stroke="#000" stroke-width="1.3"/>
<text x="441.7" y="817.6" font-size="29.5" text-anchor="start" font-weight="normal" fill="#000" textLength="52.35" lengthAdjust="spacingAndGlyphs">400</text>
<line x1="646.8" y1="787.2" x2="646.8" y2="792.3" stroke="#000" stroke-width="1.3"/>
<text x="619.96" y="817.6" font-size="29.5" text-anchor="start" font-weight="normal" fill="#000" textLength="53.27" lengthAdjust="spacingAndGlyphs">600</text>
<line x1="825.9" y1="787.2" x2="825.9" y2="792.3" stroke="#000" stroke-width="1.3"/>
<text x="799.36" y="817.6" font-size="29.5" text-anchor="start" font-weight="normal" fill="#000" textLength="53.02" lengthAdjust="spacingAndGlyphs">800</text>
<line x1="1005.1" y1="787.2" x2="1005.1" y2="792.3" stroke="#000" stroke-width="1.3"/>
<text x="969.68" y="817.6" font-size="29.5" text-anchor="start" font-weight="normal" fill="#000" textLength="70.66" lengthAdjust="spacingAndGlyphs">1000</text>
<line x1="1184.3" y1="787.2" x2="1184.3" y2="792.3" stroke="#000" stroke-width="1.3"/>
<text x="1148.84" y="817.6" font-size="29.5" text-anchor="start" font-weight="normal" fill="#000" textLength="70.66" lengthAdjust="spacingAndGlyphs">1200</text>
<path d="M122 821.5V864.8H1195V821.5M724 821.8V864.8" fill="none" stroke="#000" stroke-width="2.2"/>
<text x="400.99" y="856.9" font-size="36.5" text-anchor="start" font-weight="normal" fill="#000" textLength="43.34" lengthAdjust="spacingAndGlyphs">S1</text>
<text x="935.12" y="856.9" font-size="36.5" text-anchor="start" font-weight="normal" fill="#000" textLength="48.06" lengthAdjust="spacingAndGlyphs">S2</text>
<text x="501.83" y="907.4" font-size="31.0" text-anchor="start" font-weight="normal" fill="#000" textLength="97.11" lengthAdjust="spacingAndGlyphs">Amino</text>
<text x="609.54" y="907.4" font-size="31.0" text-anchor="start" font-weight="normal" fill="#000" textLength="64.5" lengthAdjust="spacingAndGlyphs">Acid</text>
<text x="683.55" y="907.4" font-size="31.0" text-anchor="start" font-weight="normal" fill="#000" textLength="119.33" lengthAdjust="spacingAndGlyphs">Position</text>
<defs><linearGradient id="cb" x1="0" y1="1" x2="0" y2="0"><stop offset="0.0000" stop-color="rgb(241, 243, 242)"/><stop offset="0.0625" stop-color="rgb(238, 228, 229)"/><stop offset="0.1250" stop-color="rgb(234, 211, 214)"/><stop offset="0.2500" stop-color="rgb(233, 174, 182)"/><stop offset="0.3750" stop-color="rgb(226, 142, 155)"/><stop offset="0.5000" stop-color="rgb(229, 116, 134)"/><stop offset="0.6250" stop-color="rgb(231, 92, 116)"/><stop offset="0.7500" stop-color="rgb(233, 68, 98)"/><stop offset="0.8750" stop-color="rgb(233, 40, 80)"/><stop offset="1.0000" stop-color="rgb(232, 34, 64)"/></linearGradient></defs>
<rect x="1221.3" y="216.2" width="25.7" height="507.3" fill="url(#cb)"/>
<line x1="1247" y1="723.3" x2="1252" y2="723.3" stroke="#333" stroke-width="1.2"/>
<text x="1255.91" y="732.9" font-size="26.6" text-anchor="start" font-weight="normal" fill="#000" textLength="15.47" lengthAdjust="spacingAndGlyphs">0</text>
<line x1="1247" y1="659.9" x2="1252" y2="659.9" stroke="#333" stroke-width="1.2"/>
<text x="1255.88" y="669.5" font-size="26.6" text-anchor="start" font-weight="normal" fill="#000" textLength="15.6" lengthAdjust="spacingAndGlyphs">5</text>
<line x1="1247" y1="596.6" x2="1252" y2="596.6" stroke="#333" stroke-width="1.2"/>
<text x="1254.98" y="606.2" font-size="26.6" text-anchor="start" font-weight="normal" fill="#000" textLength="32.46" lengthAdjust="spacingAndGlyphs">10</text>
<line x1="1247" y1="533.2" x2="1252" y2="533.2" stroke="#333" stroke-width="1.2"/>
<text x="1254.97" y="542.9" font-size="26.6" text-anchor="start" font-weight="normal" fill="#000" textLength="32.56" lengthAdjust="spacingAndGlyphs">15</text>
<line x1="1247" y1="469.9" x2="1252" y2="469.9" stroke="#333" stroke-width="1.2"/>
<text x="1255.77" y="479.5" font-size="26.6" text-anchor="start" font-weight="normal" fill="#000" textLength="31.64" lengthAdjust="spacingAndGlyphs">20</text>
<line x1="1247" y1="406.5" x2="1252" y2="406.5" stroke="#333" stroke-width="1.2"/>
<text x="1255.77" y="416.1" font-size="26.6" text-anchor="start" font-weight="normal" fill="#000" textLength="31.73" lengthAdjust="spacingAndGlyphs">25</text>
<line x1="1247" y1="343.2" x2="1252" y2="343.2" stroke="#333" stroke-width="1.2"/>
<text x="1256.13" y="352.8" font-size="26.6" text-anchor="start" font-weight="normal" fill="#000" textLength="31.27" lengthAdjust="spacingAndGlyphs">30</text>
<line x1="1247" y1="279.8" x2="1252" y2="279.8" stroke="#333" stroke-width="1.2"/>
<text x="1256.13" y="289.4" font-size="26.6" text-anchor="start" font-weight="normal" fill="#000" textLength="31.36" lengthAdjust="spacingAndGlyphs">35</text>
<line x1="1247" y1="216.5" x2="1252" y2="216.5" stroke="#333" stroke-width="1.2"/>
<text x="1262.24" y="225.4" font-size="26.6" text-anchor="start" font-weight="normal" fill="#000" textLength="18.41" lengthAdjust="spacingAndGlyphs">≥</text>
<text x="1287.44" y="225.4" font-size="26.6" text-anchor="start" font-weight="normal" fill="#000" textLength="31.77" lengthAdjust="spacingAndGlyphs">40</text>
<text transform="translate(1348.6 558.0) rotate(-90)" x="-2.84" y="0" font-size="31.0" fill="#000" textLength="175.4" lengthAdjust="spacingAndGlyphs">Enrichment</text>
<path d="M202 1015.1V1414.9M186 1414.9H468.9" fill="none" stroke="#231f20" stroke-width="2"/>
<line x1="186" y1="1414.9" x2="202" y2="1414.9" stroke="#231f20" stroke-width="2"/>
<text x="181.5" y="1425.7" font-size="30.5" text-anchor="end" font-weight="normal" fill="#231f20">0</text>
<line x1="186" y1="1315.0" x2="202" y2="1315.0" stroke="#231f20" stroke-width="2"/>
<text x="181.5" y="1325.8" font-size="30.5" text-anchor="end" font-weight="normal" fill="#231f20">200</text>
<line x1="186" y1="1215.0" x2="202" y2="1215.0" stroke="#231f20" stroke-width="2"/>
<text x="181.5" y="1225.8" font-size="30.5" text-anchor="end" font-weight="normal" fill="#231f20">400</text>
<line x1="186" y1="1115.1" x2="202" y2="1115.1" stroke="#231f20" stroke-width="2"/>
<text x="181.5" y="1125.9" font-size="30.5" text-anchor="end" font-weight="normal" fill="#231f20">600</text>
<line x1="186" y1="1015.1" x2="202" y2="1015.1" stroke="#231f20" stroke-width="2"/>
<text x="181.5" y="1025.9" font-size="30.5" text-anchor="end" font-weight="normal" fill="#231f20">800</text>
<line x1="278" y1="1414.9" x2="278" y2="1431.2" stroke="#231f20" stroke-width="2"/>
<line x1="392.7" y1="1414.9" x2="392.7" y2="1431.2" stroke="#231f20" stroke-width="2"/>
<path d="M278 1052.7V1194.3M278 1329.6V1353.8M258.2 1052.7H298.2M258.2 1353.8H298.2" fill="none" stroke="#231f20" stroke-width="2"/>
<rect x="241.1" y="1194.3" width="74.0" height="135.3" fill="none" stroke="#231f20" stroke-width="2"/>
<line x1="241.1" y1="1277.8" x2="315.1" y2="1277.8" stroke="#231f20" stroke-width="2"/>
<path d="M392.7 1131.1V1304.9M392.7 1364.9V1407.1M372.9 1131.1H412.9M372.9 1407.1H412.9" fill="none" stroke="#231f20" stroke-width="2"/>
<rect x="355.6" y="1304.9" width="74.8" height="60.0" fill="none" stroke="#231f20" stroke-width="2"/>
<line x1="355.6" y1="1343.3" x2="430.4" y2="1343.3" stroke="#231f20" stroke-width="2"/>
<path d="M278 1029.7V1005.1H392.7V1029.7" fill="none" stroke="#231f20" stroke-width="2"/>
<text x="305.7" y="994.6" font-size="32.4" text-anchor="start" font-weight="normal" fill="#231f20" textLength="60.01" lengthAdjust="spacingAndGlyphs">0.01</text>
<circle cx="278" cy="1052.7" r="6.1" fill="#6a559e"/>
<circle cx="278" cy="1121.6" r="6.1" fill="#6a559e"/>
<circle cx="278" cy="1217.3" r="6.1" fill="#6a559e"/>
<circle cx="266" cy="1247.1" r="6.1" fill="#6a559e"/>
<circle cx="290" cy="1256" r="6.1" fill="#6a559e"/>
<circle cx="278" cy="1301.1" r="6.1" fill="#6a559e"/>
<circle cx="290" cy="1313.3" r="6.1" fill="#6a559e"/>
<circle cx="266" cy="1322.7" r="6.1" fill="#6a559e"/>
<circle cx="266" cy="1353.8" r="6.1" fill="#6a559e"/>
<circle cx="290" cy="1353.3" r="6.1" fill="#6a559e"/>
<circle cx="392.7" cy="1131.1" r="6.1" fill="#63c5ea"/>
<circle cx="392.7" cy="1214.9" r="6.1" fill="#63c5ea"/>
<circle cx="392.7" cy="1232.9" r="6.1" fill="#63c5ea"/>
<circle cx="403.3" cy="1243.3" r="6.1" fill="#63c5ea"/>
<circle cx="392.7" cy="1252.2" r="6.1" fill="#63c5ea"/>
<circle cx="381.8" cy="1277.3" r="6.1" fill="#63c5ea"/>
<circle cx="392.7" cy="1287.1" r="6.1" fill="#63c5ea"/>
<circle cx="403.3" cy="1288.9" r="6.1" fill="#63c5ea"/>
<circle cx="381.8" cy="1303.3" r="6.1" fill="#63c5ea"/>
<circle cx="403.3" cy="1303.8" r="6.1" fill="#63c5ea"/>
<circle cx="392.7" cy="1313.3" r="6.1" fill="#63c5ea"/>
<circle cx="371.1" cy="1324" r="6.1" fill="#63c5ea"/>
<circle cx="403.3" cy="1326.2" r="6.1" fill="#63c5ea"/>
<circle cx="424.9" cy="1328.4" r="6.1" fill="#63c5ea"/>
<circle cx="360.4" cy="1335.1" r="6.1" fill="#63c5ea"/>
<circle cx="392.7" cy="1337.3" r="6.1" fill="#63c5ea"/>
<circle cx="371.1" cy="1343.3" r="6.1" fill="#63c5ea"/>
<circle cx="403.3" cy="1342.7" r="6.1" fill="#63c5ea"/>
<circle cx="414" cy="1343.8" r="6.1" fill="#63c5ea"/>
<circle cx="424.9" cy="1344.9" r="6.1" fill="#63c5ea"/>
<circle cx="360.4" cy="1347.1" r="6.1" fill="#63c5ea"/>
<circle cx="381.8" cy="1348.9" r="6.1" fill="#63c5ea"/>
<circle cx="392.7" cy="1359.6" r="6.1" fill="#63c5ea"/>
<circle cx="381.8" cy="1361.8" r="6.1" fill="#63c5ea"/>
<circle cx="360.4" cy="1365.6" r="6.1" fill="#63c5ea"/>
<circle cx="371.1" cy="1365.6" r="6.1" fill="#63c5ea"/>
<circle cx="414" cy="1365.6" r="6.1" fill="#63c5ea"/>
<circle cx="403.3" cy="1368.9" r="6.1" fill="#63c5ea"/>
<circle cx="381.8" cy="1378.4" r="6.1" fill="#63c5ea"/>
<circle cx="371.1" cy="1387.3" r="6.1" fill="#63c5ea"/>
<circle cx="392.7" cy="1389.6" r="6.1" fill="#63c5ea"/>
<circle cx="403.3" cy="1386.2" r="6.1" fill="#63c5ea"/>
<circle cx="414" cy="1388.2" r="6.1" fill="#63c5ea"/>
<circle cx="387.8" cy="1406.7" r="6.1" fill="#63c5ea"/>
<circle cx="397.8" cy="1403.3" r="6.1" fill="#63c5ea"/>
<text x="278" y="1464.7" font-size="30.8" text-anchor="middle" font-weight="normal" fill="#231f20">Infants</text>
<text x="392.7" y="1464.7" font-size="30.8" text-anchor="middle" font-weight="normal" fill="#231f20">Mothers</text>
<text x="332.4" y="1514.4" font-size="49.5" text-anchor="middle" font-weight="bold" fill="#231f20">FP</text>
<text transform="translate(110.5 1214.3) rotate(-90)" x="0" y="0" font-size="32.5" text-anchor="middle" fill="#231f20">Summed enrichment</text>
<text x="12.2" y="1007.9" font-size="57.5" text-anchor="start" font-weight="normal" fill="#231f20">B</text>
<path d="M695.4 1007.8V1408.4M679 1408.4H962.4" fill="none" stroke="#231f20" stroke-width="2"/>
<line x1="679" y1="1408.4" x2="695.4" y2="1408.4" stroke="#231f20" stroke-width="2"/>
<text x="674.5" y="1419.2" font-size="30.5" text-anchor="end" font-weight="normal" fill="#231f20">0</text>
<line x1="679" y1="1328.3" x2="695.4" y2="1328.3" stroke="#231f20" stroke-width="2"/>
<text x="674.5" y="1339.1" font-size="30.5" text-anchor="end" font-weight="normal" fill="#231f20">50</text>
<line x1="679" y1="1248.2" x2="695.4" y2="1248.2" stroke="#231f20" stroke-width="2"/>
<text x="674.5" y="1259.0" font-size="30.5" text-anchor="end" font-weight="normal" fill="#231f20">100</text>
<line x1="679" y1="1168.0" x2="695.4" y2="1168.0" stroke="#231f20" stroke-width="2"/>
<text x="674.5" y="1178.8" font-size="30.5" text-anchor="end" font-weight="normal" fill="#231f20">150</text>
<line x1="679" y1="1087.9" x2="695.4" y2="1087.9" stroke="#231f20" stroke-width="2"/>
<text x="674.5" y="1098.7" font-size="30.5" text-anchor="end" font-weight="normal" fill="#231f20">200</text>
<line x1="679" y1="1007.8" x2="695.4" y2="1007.8" stroke="#231f20" stroke-width="2"/>
<text x="674.5" y="1018.6" font-size="30.5" text-anchor="end" font-weight="normal" fill="#231f20">250</text>
<line x1="771.1" y1="1408.4" x2="771.1" y2="1424.7" stroke="#231f20" stroke-width="2"/>
<line x1="886.1" y1="1408.4" x2="886.1" y2="1424.7" stroke="#231f20" stroke-width="2"/>
<path d="M771.4 1075.3V1182.9M771.4 1308V1350.9M751.8 1075.3H791.6M751.8 1350.9H791.6" fill="none" stroke="#231f20" stroke-width="2"/>
<rect x="734.2" y="1182.9" width="74.4" height="125.1" fill="none" stroke="#231f20" stroke-width="2"/>
<line x1="734.2" y1="1261.5" x2="808.6" y2="1261.5" stroke="#231f20" stroke-width="2"/>
<path d="M885.9 1082.9V1204.4M885.9 1313V1349.5M866.3 1082.9H906M866.3 1349.5H906" fill="none" stroke="#231f20" stroke-width="2"/>
<rect x="849.1" y="1204.4" width="74.3" height="108.6" fill="none" stroke="#231f20" stroke-width="2"/>
<line x1="849.1" y1="1266.8" x2="923.4" y2="1266.8" stroke="#231f20" stroke-width="2"/>
<path d="M770.7 1052V1028H886.1V1052" fill="none" stroke="#231f20" stroke-width="2"/>
<text x="804.71" y="1017.7" font-size="32.4" text-anchor="start" font-weight="normal" fill="#231f20" textLength="46.03" lengthAdjust="spacingAndGlyphs">0.8</text>
<circle cx="771.4" cy="1075.3" r="6.1" fill="#6a559e"/>
<circle cx="771.4" cy="1170.5" r="6.1" fill="#6a559e"/>
<circle cx="771.4" cy="1186.2" r="6.1" fill="#6a559e"/>
<circle cx="771.4" cy="1238" r="6.1" fill="#6a559e"/>
<circle cx="771.4" cy="1255.6" r="6.1" fill="#6a559e"/>
<circle cx="771.4" cy="1268" r="6.1" fill="#6a559e"/>
<circle cx="771.4" cy="1291.8" r="6.1" fill="#6a559e"/>
<circle cx="771.4" cy="1305.1" r="6.1" fill="#6a559e"/>
<circle cx="771.4" cy="1319.8" r="6.1" fill="#6a559e"/>
<circle cx="771.4" cy="1350.9" r="6.1" fill="#6a559e"/>
<circle cx="885.9" cy="1082.9" r="6.1" fill="#63c5ea"/>
<circle cx="885.9" cy="1103" r="6.1" fill="#63c5ea"/>
<circle cx="885.9" cy="1125.9" r="6.1" fill="#63c5ea"/>
<circle cx="864.9" cy="1132" r="6.1" fill="#63c5ea"/>
<circle cx="907.4" cy="1132.8" r="6.1" fill="#63c5ea"/>
<circle cx="896.6" cy="1155.9" r="6.1" fill="#63c5ea"/>
<circle cx="875.5" cy="1166.6" r="6.1" fill="#63c5ea"/>
<circle cx="885.9" cy="1188.5" r="6.1" fill="#63c5ea"/>
<circle cx="875.5" cy="1203.8" r="6.1" fill="#63c5ea"/>
<circle cx="896.6" cy="1204.8" r="6.1" fill="#63c5ea"/>
<circle cx="854.2" cy="1233.1" r="6.1" fill="#63c5ea"/>
<circle cx="896.6" cy="1231.6" r="6.1" fill="#63c5ea"/>
<circle cx="875.5" cy="1242.5" r="6.1" fill="#63c5ea"/>
<circle cx="896.6" cy="1243.9" r="6.1" fill="#63c5ea"/>
<circle cx="896.6" cy="1261.1" r="6.1" fill="#63c5ea"/>
<circle cx="918.1" cy="1262.9" r="6.1" fill="#63c5ea"/>
<circle cx="854.2" cy="1265.4" r="6.1" fill="#63c5ea"/>
<circle cx="875.5" cy="1267.4" r="6.1" fill="#63c5ea"/>
<circle cx="854.2" cy="1283.6" r="6.1" fill="#63c5ea"/>
<circle cx="918.1" cy="1282" r="6.1" fill="#63c5ea"/>
<circle cx="896.6" cy="1286.5" r="6.1" fill="#63c5ea"/>
<circle cx="875.5" cy="1291.8" r="6.1" fill="#63c5ea"/>
<circle cx="918.1" cy="1294.4" r="6.1" fill="#63c5ea"/>
<circle cx="854.2" cy="1303" r="6.1" fill="#63c5ea"/>
<circle cx="875.5" cy="1306.9" r="6.1" fill="#63c5ea"/>
<circle cx="918.1" cy="1311" r="6.1" fill="#63c5ea"/>
<circle cx="896.6" cy="1313.9" r="6.1" fill="#63c5ea"/>
<circle cx="854.2" cy="1322.7" r="6.1" fill="#63c5ea"/>
<circle cx="875.5" cy="1322.2" r="6.1" fill="#63c5ea"/>
<circle cx="918.1" cy="1325.7" r="6.1" fill="#63c5ea"/>
<circle cx="854.2" cy="1337.4" r="6.1" fill="#63c5ea"/>
<circle cx="896.6" cy="1336.2" r="6.1" fill="#63c5ea"/>
<circle cx="918.1" cy="1337.8" r="6.1" fill="#63c5ea"/>
<circle cx="854.2" cy="1349.5" r="6.1" fill="#63c5ea"/>
<circle cx="896.6" cy="1349.2" r="6.1" fill="#63c5ea"/>
<text x="771.1" y="1457.8" font-size="30.8" text-anchor="middle" font-weight="normal" fill="#231f20">Infants</text>
<text x="886.1" y="1457.8" font-size="30.8" text-anchor="middle" font-weight="normal" fill="#231f20">Mothers</text>
<text x="823.6" y="1514.5" font-size="49.5" text-anchor="middle" font-weight="bold" fill="#231f20">SH-H</text>
<text transform="translate(603.4 1207.6) rotate(-90)" x="0" y="0" font-size="32.5" text-anchor="middle" fill="#231f20">Summed enrichment</text>
<text x="510.0" y="1007.6" font-size="57.5" text-anchor="start" font-weight="normal" fill="#231f20">C</text>
</svg>
</body></html>
